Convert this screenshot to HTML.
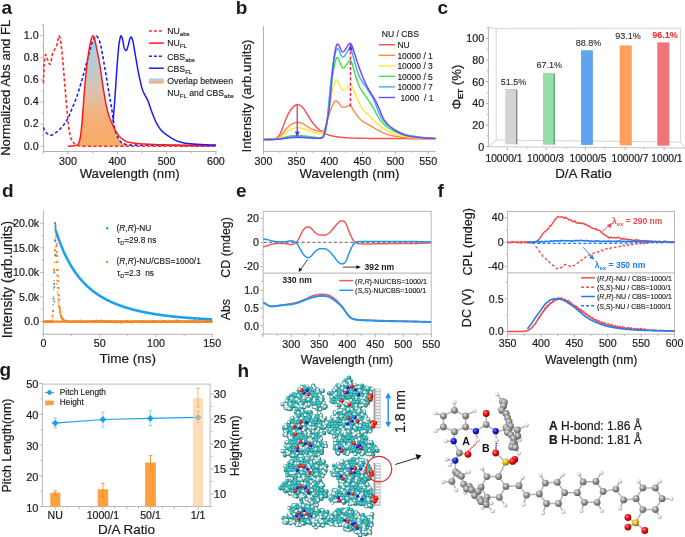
<!DOCTYPE html>
<html><head><meta charset="utf-8"><style>
html,body{margin:0;padding:0;background:#fff;overflow:hidden;}
svg{display:block;font-family:"Liberation Sans", sans-serif;will-change:transform;}
</style></head><body>
<svg width="685" height="537" viewBox="0 0 685 537">
<rect width="685" height="537" fill="#fff"/>
<line x1="43.6" y1="24.5" x2="43.6" y2="152.7" stroke="#b2b2b2" stroke-width="1"/>
<line x1="43.1" y1="151.5" x2="216.8" y2="151.5" stroke="#b2b2b2" stroke-width="1"/>
<line x1="40.6" y1="146.2" x2="43.6" y2="146.2" stroke="#b2b2b2" stroke-width="1"/>
<line x1="41.8" y1="135.15" x2="43.6" y2="135.15" stroke="#b2b2b2" stroke-width="1"/>
<line x1="40.6" y1="124.1" x2="43.6" y2="124.1" stroke="#b2b2b2" stroke-width="1"/>
<line x1="41.8" y1="113.05" x2="43.6" y2="113.05" stroke="#b2b2b2" stroke-width="1"/>
<line x1="40.6" y1="102" x2="43.6" y2="102" stroke="#b2b2b2" stroke-width="1"/>
<line x1="41.8" y1="90.95" x2="43.6" y2="90.95" stroke="#b2b2b2" stroke-width="1"/>
<line x1="40.6" y1="79.9" x2="43.6" y2="79.9" stroke="#b2b2b2" stroke-width="1"/>
<line x1="41.8" y1="68.85" x2="43.6" y2="68.85" stroke="#b2b2b2" stroke-width="1"/>
<line x1="40.6" y1="57.8" x2="43.6" y2="57.8" stroke="#b2b2b2" stroke-width="1"/>
<line x1="41.8" y1="46.75" x2="43.6" y2="46.75" stroke="#b2b2b2" stroke-width="1"/>
<line x1="40.6" y1="35.7" x2="43.6" y2="35.7" stroke="#b2b2b2" stroke-width="1"/>
<line x1="41.8" y1="24.65" x2="43.6" y2="24.65" stroke="#b2b2b2" stroke-width="1"/>
<line x1="43.35" y1="151.5" x2="43.35" y2="153.3" stroke="#b2b2b2" stroke-width="1"/>
<line x1="68" y1="151.5" x2="68" y2="154.5" stroke="#b2b2b2" stroke-width="1"/>
<line x1="92.65" y1="151.5" x2="92.65" y2="153.3" stroke="#b2b2b2" stroke-width="1"/>
<line x1="117.3" y1="151.5" x2="117.3" y2="154.5" stroke="#b2b2b2" stroke-width="1"/>
<line x1="141.95" y1="151.5" x2="141.95" y2="153.3" stroke="#b2b2b2" stroke-width="1"/>
<line x1="166.6" y1="151.5" x2="166.6" y2="154.5" stroke="#b2b2b2" stroke-width="1"/>
<line x1="191.25" y1="151.5" x2="191.25" y2="153.3" stroke="#b2b2b2" stroke-width="1"/>
<line x1="215.9" y1="151.5" x2="215.9" y2="154.5" stroke="#b2b2b2" stroke-width="1"/>
<text x="38.6" y="149.5" font-size="10.7" text-anchor="end" font-weight="normal" fill="#1a1a1a" stroke="#1a1a1a" stroke-width="0.2">0.0</text>
<text x="38.6" y="127.4" font-size="10.7" text-anchor="end" font-weight="normal" fill="#1a1a1a" stroke="#1a1a1a" stroke-width="0.2">0.2</text>
<text x="38.6" y="105.3" font-size="10.7" text-anchor="end" font-weight="normal" fill="#1a1a1a" stroke="#1a1a1a" stroke-width="0.2">0.4</text>
<text x="38.6" y="83.2" font-size="10.7" text-anchor="end" font-weight="normal" fill="#1a1a1a" stroke="#1a1a1a" stroke-width="0.2">0.6</text>
<text x="38.6" y="61.1" font-size="10.7" text-anchor="end" font-weight="normal" fill="#1a1a1a" stroke="#1a1a1a" stroke-width="0.2">0.8</text>
<text x="38.6" y="39" font-size="10.7" text-anchor="end" font-weight="normal" fill="#1a1a1a" stroke="#1a1a1a" stroke-width="0.2">1.0</text>
<text x="68" y="164.6" font-size="10.7" text-anchor="middle" font-weight="normal" fill="#1a1a1a" stroke="#1a1a1a" stroke-width="0.2">300</text>
<text x="117.3" y="164.6" font-size="10.7" text-anchor="middle" font-weight="normal" fill="#1a1a1a" stroke="#1a1a1a" stroke-width="0.2">400</text>
<text x="166.6" y="164.6" font-size="10.7" text-anchor="middle" font-weight="normal" fill="#1a1a1a" stroke="#1a1a1a" stroke-width="0.2">500</text>
<text x="215.9" y="164.6" font-size="10.7" text-anchor="middle" font-weight="normal" fill="#1a1a1a" stroke="#1a1a1a" stroke-width="0.2">600</text>
<text x="129.6" y="177.6" font-size="13.2" text-anchor="middle" font-weight="normal" fill="#1a1a1a" stroke="#1a1a1a" stroke-width="0.2">Wavelength (nm)</text>
<text x="10.2" y="87.8" font-size="13.1" text-anchor="middle" font-weight="normal" fill="#1a1a1a" stroke="#1a1a1a" stroke-width="0.2" transform="rotate(-90 10.2 87.8)">Normalized Abs and FL</text>
<text x="1.5" y="14" font-size="19" text-anchor="start" font-weight="bold" fill="#1a1a1a">a</text>
<defs><linearGradient id="gov" x1="0" y1="0" x2="0" y2="1"><stop offset="0" stop-color="#a0d6e4"/><stop offset="0.25" stop-color="#b6cdd2"/><stop offset="0.5" stop-color="#dcc3ab"/><stop offset="0.72" stop-color="#f4b07c"/><stop offset="1" stop-color="#f9aa66"/></linearGradient><linearGradient id="govl" x1="0" y1="0" x2="0" y2="1"><stop offset="0" stop-color="#a8d4e0"/><stop offset="0.5" stop-color="#a8d4e0"/><stop offset="0.5" stop-color="#f4b080"/><stop offset="1" stop-color="#f4b080"/></linearGradient></defs>
<path d="M76.87,145.09 L77.06,145 L77.24,144.9 L77.43,144.8 L77.61,144.7 L77.8,144.58 L77.98,144.45 L78.17,144.24 L78.35,143.95 L78.54,143.6 L78.72,143.18 L78.91,142.7 L79.09,142.16 L79.27,141.57 L79.46,140.93 L79.64,140.24 L79.83,139.51 L80.01,138.74 L80.2,137.93 L80.38,137.08 L80.57,136.02 L80.75,134.7 L80.94,133.17 L81.12,131.45 L81.31,129.59 L81.49,127.62 L81.68,125.58 L81.86,123.49 L82.04,121.39 L82.23,119.32 L82.41,117.26 L82.6,115.06 L82.78,112.72 L82.97,110.29 L83.15,107.78 L83.34,105.23 L83.52,102.66 L83.71,100.11 L83.89,97.6 L84.08,95.17 L84.26,92.84 L84.45,90.64 L84.63,88.57 L84.81,86.52 L85,84.5 L85.18,82.49 L85.37,80.51 L85.55,78.55 L85.74,76.63 L85.92,74.75 L86.11,72.9 L86.29,71.09 L86.48,69.33 L86.66,67.61 L86.85,65.95 L87.03,64.35 L87.22,62.8 L87.4,61.32 L87.58,59.9 L87.77,58.55 L87.95,57.63 L88.14,56.96 L88.32,56.29 L88.51,55.61 L88.69,54.92 L88.88,54.21 L89.06,53.5 L89.25,52.78 L89.43,52.05 L89.62,51.33 L89.8,50.6 L89.99,49.88 L90.17,49.16 L90.35,48.45 L90.54,47.75 L90.72,47.07 L90.91,46.4 L91.09,45.74 L91.28,45.11 L91.46,44.49 L91.65,43.9 L91.83,43.34 L92.02,42.81 L92.2,42.3 L92.39,41.83 L92.57,41.4 L92.76,41 L92.94,40.59 L93.12,40.18 L93.31,39.76 L93.49,39.35 L93.68,38.95 L93.86,38.55 L94.05,38.17 L94.23,37.8 L94.42,38.02 L94.6,38.63 L94.79,39.38 L94.97,40.24 L95.16,41.17 L95.34,42.12 L95.53,43.04 L95.71,43.92 L95.89,44.78 L96.08,45.65 L96.26,46.52 L96.45,47.39 L96.63,48.27 L96.82,49.15 L97,50.04 L97.19,50.93 L97.37,51.83 L97.56,52.74 L97.74,53.66 L97.93,54.59 L98.11,55.52 L98.3,56.47 L98.48,57.44 L98.66,58.41 L98.85,59.41 L99.03,60.41 L99.22,61.44 L99.4,62.48 L99.59,63.53 L99.77,64.63 L99.96,65.76 L100.14,66.93 L100.33,68.13 L100.51,69.36 L100.7,70.62 L100.88,71.89 L101.07,73.18 L101.25,74.48 L101.43,75.79 L101.62,77.11 L101.8,78.42 L101.99,79.74 L102.17,81.04 L102.36,82.34 L102.54,83.62 L102.73,84.88 L102.91,86.12 L103.1,87.33 L103.28,88.52 L103.47,89.66 L103.65,90.79 L103.84,91.92 L104.02,93.05 L104.2,94.18 L104.39,95.3 L104.57,96.41 L104.76,97.51 L104.94,98.59 L105.13,99.66 L105.31,100.7 L105.5,101.71 L105.68,102.7 L105.87,103.65 L106.05,104.56 L106.24,105.44 L106.42,106.28 L106.61,107.07 L106.79,107.86 L106.98,108.62 L107.16,109.37 L107.34,110.1 L107.53,110.81 L107.71,111.51 L107.9,112.19 L108.08,112.85 L108.27,113.5 L108.45,114.14 L108.64,114.75 L108.82,115.36 L109.01,115.94 L109.19,116.51 L109.38,117.07 L109.56,117.61 L109.75,118.13 L109.93,118.64 L110.11,119.13 L110.3,119.6 L110.48,120.04 L110.67,120.47 L110.85,120.89 L111.04,121.3 L111.22,121.7 L111.41,122.1 L111.59,122.49 L111.78,122.89 L111.96,123.3 L112.15,123.71 L112.33,124.13 L112.52,124.55 L112.7,124.98 L112.88,125.41 L113.07,125.84 L113.25,126.27 L113.44,126.69 L113.62,127.11 L113.81,127.52 L113.99,127.92 L114.18,128.32 L114.36,128.7 L114.55,129.07 L114.73,129.43 L114.92,129.77 L115.1,130.11 L115.29,130.58 L115.47,131.2 L115.65,131.8 L115.84,132.39 L116.02,132.95 L116.21,133.48 L116.39,134 L116.58,134.5 L116.76,134.98 L116.95,135.44 L117.13,135.88 L117.32,136.29 L117.5,136.69 L117.69,137.09 L117.87,137.48 L118.06,137.86 L118.24,138.22 L118.42,138.58 L118.61,138.92 L118.79,139.24 L118.98,139.56 L119.16,139.85 L119.35,140.12 L119.53,140.38 L119.72,140.62 L119.9,140.84 L120.09,141.05 L120.27,141.27 L120.46,141.48 L120.64,141.68 L120.83,141.88 L121.01,142.08 L121.19,142.27 L121.38,142.44 L121.56,142.62 L121.75,142.78 L121.93,142.93 L122.12,143.07 L122.3,143.2 L122.49,143.32 L122.67,143.43 L122.86,143.52 L123.04,143.6 L123.23,143.66 L123.41,143.72 L123.6,143.77 L123.78,143.82 L123.96,143.88 L124.15,143.93 L124.33,143.98 L124.52,144.03 L124.7,144.07 L124.89,144.12 L125.07,144.17 L125.26,144.21 L125.44,144.26 L125.63,144.3 L125.81,144.34 L126,144.38 L126.18,144.42 L126.37,144.46 L126.55,144.5 L126.73,144.53 L126.92,144.57 L127.1,144.6 L127.29,144.63 L127.47,144.66 L127.66,144.7 L127.84,144.72 L128.03,144.75 L128.21,144.78 L128.4,144.81 L128.58,144.83 L128.77,144.86 L128.95,144.88 L129.14,144.9 L129.32,144.92 L129.5,144.94 L129.69,144.96 L129.87,144.98 L130.06,144.99 L130.24,145.01 L130.43,145.02 L130.61,145.03 L130.8,145.05 L130.98,145.06 L131.17,145.07 L131.35,145.07 L131.54,145.08 L131.72,145.09 L131.91,145.09 L132.09,145.09 L132.09,146.2 L76.87,146.2 Z" fill="url(#gov)" stroke="none"/>
<path d="M43.35,127.41 L43.78,128.5 L44.21,129.55 L44.65,130.53 L45.08,131.38 L45.51,132.05 L45.94,132.5 L46.38,132.88 L46.81,133.24 L47.24,133.58 L47.67,133.89 L48.11,134.18 L48.54,134.43 L48.97,134.65 L49.4,134.84 L50.27,135.08 L51.13,135.15 L52,135.01 L52.86,134.69 L53.3,134.47 L53.73,134.22 L54.16,133.94 L54.59,133.64 L55.03,133.31 L55.46,132.97 L55.89,132.62 L56.32,132.26 L56.76,131.89 L57.19,131.52 L57.62,131.16 L58.05,130.8 L58.49,130.45 L58.92,130.08 L59.35,129.69 L59.78,129.28 L60.22,128.86 L60.65,128.43 L61.08,127.97 L61.51,127.5 L61.95,127.01 L62.38,126.5 L62.81,125.98 L63.24,125.44 L63.68,124.88 L64.11,124.31 L64.54,123.72 L64.97,123.11 L65.41,122.48 L65.84,121.84 L66.27,121.18 L66.7,120.49 L67.14,119.75 L67.57,118.95 L68,118.09 L68.43,117.18 L68.86,116.23 L69.3,115.25 L69.73,114.23 L70.16,113.19 L70.59,112.14 L71.03,111.07 L71.46,110 L71.89,108.94 L72.32,107.88 L72.76,106.83 L73.19,105.81 L73.62,104.78 L74.05,103.75 L74.49,102.71 L74.92,101.65 L75.35,100.56 L75.78,99.45 L76.22,98.3 L76.65,97.11 L77.08,95.85 L77.51,94.55 L77.95,93.2 L78.38,91.83 L78.81,90.44 L79.24,89.05 L79.68,87.65 L80.11,86.23 L80.54,84.8 L80.97,83.35 L81.41,81.88 L81.84,80.4 L82.27,78.89 L82.7,77.35 L83.14,75.78 L83.57,74.19 L84,72.57 L84.43,70.94 L84.87,69.29 L85.3,67.64 L85.73,65.99 L86.16,64.34 L86.6,62.69 L87.03,61.06 L87.46,59.45 L87.89,57.86 L88.33,56.29 L88.76,54.67 L89.19,53 L89.62,51.3 L90.06,49.61 L90.49,47.95 L90.92,46.36 L91.35,44.86 L91.79,43.48 L92.22,42.26 L92.65,41.22 L93.08,40.27 L93.51,39.31 L93.95,38.38 L94.38,37.52 L94.81,36.78 L95.24,36.21 L95.68,35.83 L96.54,35.83 L96.97,36.2 L97.41,36.75 L97.84,37.47 L98.27,38.32 L98.7,39.26 L99.14,40.25 L99.57,41.27 L100,42.46 L100.43,43.96 L100.87,45.73 L101.3,47.74 L101.73,49.94 L102.16,52.29 L102.6,54.77 L103.03,57.33 L103.46,59.93 L103.89,62.54 L104.33,65.12 L104.76,67.63 L105.19,70.07 L105.62,72.57 L106.06,75.15 L106.49,77.79 L106.92,80.47 L107.35,83.16 L107.79,85.85 L108.22,88.5 L108.65,91.12 L109.08,93.65 L109.52,96.13 L109.95,98.57 L110.38,101.01 L110.81,103.47 L111.25,106 L111.68,108.61 L112.11,111.34 L112.54,114.27 L112.98,117.7 L113.41,121.22 L113.84,124.3 L114.27,126.58 L114.71,128.46 L115.14,130.07 L115.57,131.53 L116,132.88 L116.44,134.12 L116.87,135.24 L117.3,136.25 L117.73,137.19 L118.16,138.07 L118.6,138.9 L119.03,139.64 L119.46,140.29 L119.89,140.83 L120.33,141.33 L120.76,141.81 L121.19,142.26 L121.62,142.67 L122.06,143.03 L122.49,143.32 L122.92,143.55 L123.79,143.83 L124.65,144.06 L125.52,144.27 L126.38,144.46 L127.25,144.63 L128.11,144.77 L128.98,144.88 L129.84,144.97 L130.71,145.04 L131.57,145.08 L132.44,145.1 L133.3,145.12 L134.17,145.13 L135.03,145.14 L135.9,145.16 L136.76,145.17 L137.63,145.18 L138.49,145.2 L139.36,145.21 L140.22,145.22 L141.09,145.23 L141.95,145.25 L142.81,145.26 L143.68,145.27 L144.54,145.28 L145.41,145.29 L146.27,145.3 L147.14,145.31 L148,145.32 L148.87,145.33 L149.73,145.34 L150.6,145.35 L151.46,145.36 L152.33,145.37 L153.19,145.38 L154.06,145.39 L154.92,145.4 L155.79,145.41 L156.65,145.42 L157.52,145.42 L158.38,145.43 L159.25,145.44 L160.11,145.45 L160.98,145.46 L161.84,145.46 L162.71,145.47 L163.57,145.48 L164.44,145.48 L165.3,145.49 L166.17,145.5 L167.03,145.5 L167.9,145.51 L168.76,145.52 L169.63,145.52 L170.49,145.53 L171.36,145.53 L172.22,145.54 L173.09,145.54 L173.95,145.55 L174.82,145.55 L175.68,145.56 L176.55,145.56 L177.41,145.57 L178.28,145.57 L179.14,145.57 L180.01,145.58 L180.87,145.58 L181.74,145.59 L182.6,145.59 L183.47,145.59 L184.33,145.6 L185.2,145.6 L186.06,145.6 L186.93,145.61 L187.79,145.61 L188.66,145.61 L189.52,145.61 L190.39,145.62 L191.25,145.62 L192.11,145.62 L192.98,145.62 L193.84,145.62 L194.71,145.63 L195.57,145.63 L196.44,145.63 L197.3,145.63 L198.17,145.63 L199.03,145.64 L199.9,145.64 L200.76,145.64 L201.63,145.64 L202.49,145.64 L203.36,145.64 L204.22,145.64 L205.09,145.64 L205.95,145.64 L206.82,145.64 L207.68,145.64 L208.55,145.65 L209.41,145.65 L210.28,145.65 L211.14,145.65 L212.01,145.65 L212.87,145.65 L213.74,145.65 L214.6,145.65 L215.47,145.65 L215.9,145.65" fill="none" stroke="#1f1fff" stroke-width="1.6" stroke-linejoin="round" stroke-dasharray="3.2,2.2"/>
<path d="M43.35,83.22 L43.78,72.7 L44.21,64.82 L44.65,60.04 L45.08,56.29 L45.51,54.51 L45.94,54.88 L46.38,56.03 L46.81,57.48 L47.24,58.78 L47.67,59.84 L48.11,61.01 L48.54,62.16 L48.97,63.19 L49.4,63.97 L49.84,64.39 L50.27,64.22 L50.7,63.08 L51.13,61.23 L51.57,58.97 L52,56.59 L52.43,54.4 L52.86,52.69 L53.3,51.62 L53.73,50.79 L54.16,50.1 L54.59,49.47 L55.03,48.84 L55.46,48.13 L55.89,47.28 L56.32,46.19 L56.76,44.73 L57.19,43.05 L57.62,41.33 L58.05,39.23 L58.49,36.96 L58.92,35.72 L59.35,36.02 L59.78,36.97 L60.22,38.26 L60.65,40.58 L61.08,43.9 L61.51,47.76 L61.95,51.7 L62.38,55.98 L62.81,60.77 L63.24,65.86 L63.68,71.03 L64.11,76.08 L64.54,81.14 L64.97,86.31 L65.41,91.48 L65.84,96.55 L66.27,101.42 L66.7,106.24 L67.14,111.27 L67.57,116.27 L68,121 L68.43,125.25 L68.86,128.75 L69.3,131.33 L69.73,133.46 L70.16,135.39 L70.59,137.08 L71.03,138.53 L71.46,139.7 L71.89,140.59 L72.32,141.26 L72.76,141.87 L73.19,142.4 L73.62,142.88 L74.05,143.3 L74.49,143.68 L74.92,144 L75.35,144.29 L75.78,144.54 L76.22,144.77 L76.65,145.01 L77.08,145.23 L77.51,145.44 L77.95,145.63 L78.38,145.81 L79.24,146.07 L80.11,146.19 L80.97,146.2 L81.84,146.2 L82.7,146.2 L83.57,146.2 L84.43,146.2 L85.3,146.2 L86.16,146.2 L87.03,146.2 L87.89,146.2 L88.76,146.2 L89.62,146.2 L90.49,146.2 L91.35,146.2 L92.22,146.2 L93.08,146.2 L93.95,146.2 L94.81,146.2 L95.68,146.2 L96.54,146.2 L97.41,146.2 L98.27,146.2 L99.14,146.2 L100,146.2 L100.87,146.2 L101.73,146.2 L102.6,146.2 L103.46,146.2 L104.33,146.2 L105.19,146.2 L106.06,146.2 L106.92,146.2 L107.79,146.2 L108.65,146.2 L109.52,146.2 L110.38,146.2 L111.25,146.2 L112.11,146.2 L112.98,146.2 L113.84,146.2 L114.71,146.2 L115.57,146.2 L116.44,146.2 L117.3,146.2 L118.16,146.2 L119.03,146.2 L119.89,146.2 L120.76,146.2 L121.62,146.2 L122.49,146.2 L123.35,146.2 L124.22,146.2 L125.08,146.2 L125.95,146.2 L126.81,146.2 L127.68,146.2 L128.54,146.2 L129.41,146.2 L130.27,146.2 L131.14,146.2 L132,146.2 L132.87,146.2 L133.73,146.2 L134.6,146.2 L135.46,146.2 L136.33,146.2 L137.19,146.2 L138.06,146.2 L138.92,146.2 L139.79,146.2 L140.65,146.2 L141.52,146.2 L142.38,146.2 L143.25,146.2 L144.11,146.2 L144.98,146.2 L145.84,146.2 L146.71,146.2 L147.57,146.2 L148.44,146.2 L149.3,146.2 L150.17,146.2 L151.03,146.2 L151.9,146.2 L152.76,146.2 L153.63,146.2 L154.49,146.2 L155.36,146.2 L156.22,146.2 L157.09,146.2 L157.95,146.2 L158.82,146.2 L159.68,146.2 L160.55,146.2 L161.41,146.2 L162.28,146.2 L163.14,146.2 L164.01,146.2 L164.87,146.2 L165.74,146.2 L166.6,146.2 L167.46,146.2 L168.33,146.2 L169.19,146.2 L170.06,146.2 L170.92,146.2 L171.79,146.2 L172.65,146.2 L173.52,146.2 L174.38,146.2 L175.25,146.2 L176.11,146.2 L176.98,146.2 L177.84,146.2 L178.71,146.2 L179.57,146.2 L180.44,146.2 L181.3,146.2 L182.17,146.2 L183.03,146.2 L183.9,146.2 L184.76,146.2 L185.63,146.2 L186.49,146.2 L187.36,146.2 L188.22,146.2 L189.09,146.2 L189.95,146.2 L190.82,146.2 L191.68,146.2 L192.55,146.2 L193.41,146.2 L194.28,146.2 L195.14,146.2 L196.01,146.2 L196.87,146.2 L197.74,146.2 L198.6,146.2 L199.47,146.2 L200.33,146.2 L201.2,146.2 L202.06,146.2 L202.93,146.2 L203.79,146.2 L204.66,146.2 L205.52,146.2 L206.39,146.2 L207.25,146.2 L208.12,146.2 L208.98,146.2 L209.85,146.2 L210.71,146.2 L211.58,146.2 L212.44,146.2 L213.31,146.2 L214.17,146.2 L215.04,146.2 L215.9,146.2" fill="none" stroke="#ff2a2a" stroke-width="1.6" stroke-linejoin="round" stroke-dasharray="3.2,2.2"/>
<path d="M68,146.2 L68.74,146.19 L69.48,146.18 L70.22,146.15 L70.97,146.11 L71.71,146.06 L72.45,146 L73.19,145.94 L73.93,145.87 L74.67,145.77 L75.41,145.61 L76.15,145.38 L76.9,145.08 L77.64,144.68 L78.01,144.42 L78.38,143.91 L78.75,143.11 L79.12,142.07 L79.49,140.81 L79.86,139.37 L80.23,137.78 L80.6,135.78 L80.97,132.84 L81.34,129.19 L81.72,125.13 L82.09,120.93 L82.46,116.77 L82.83,112.15 L83.2,107.16 L83.57,102.02 L83.94,96.97 L84.31,92.24 L84.68,88.01 L85.05,83.93 L85.42,79.94 L85.79,76.07 L86.16,72.35 L86.53,68.79 L86.9,65.44 L87.28,62.31 L87.65,59.45 L88.02,56.81 L88.39,54.3 L88.76,51.92 L89.13,49.67 L89.5,47.56 L89.87,45.59 L90.24,43.76 L90.61,42.07 L90.98,40.47 L91.35,38.99 L91.72,37.79 L92.09,37 L92.46,36.33 L92.84,35.85 L93.58,36.07 L93.95,36.83 L94.32,37.76 L94.69,38.97 L95.06,40.68 L95.43,42.57 L95.8,44.34 L96.17,46.08 L96.54,47.84 L96.91,49.61 L97.28,51.4 L97.65,53.22 L98.02,55.09 L98.4,56.99 L98.77,58.96 L99.14,60.98 L99.51,63.07 L99.88,65.27 L100.25,67.62 L100.62,70.09 L100.99,72.65 L101.36,75.27 L101.73,77.91 L102.1,80.54 L102.47,83.13 L102.84,85.66 L103.21,88.09 L103.58,90.39 L103.96,92.65 L104.33,94.92 L104.7,97.14 L105.07,99.31 L105.44,101.39 L105.81,103.35 L106.18,105.18 L106.55,106.84 L106.92,108.4 L107.29,109.89 L107.66,111.32 L108.03,112.68 L108.4,113.97 L108.77,115.2 L109.15,116.37 L109.52,117.48 L109.89,118.52 L110.26,119.49 L110.63,120.38 L111,121.21 L111.37,122.01 L111.74,122.81 L112.11,123.63 L112.48,124.48 L112.85,125.33 L113.22,126.19 L113.59,127.04 L113.96,127.86 L114.33,128.65 L114.71,129.38 L115.08,130.07 L115.45,130.73 L115.82,131.38 L116.19,132.02 L116.56,132.63 L116.93,133.21 L117.3,133.78 L117.67,134.31 L118.04,134.81 L118.41,135.28 L118.78,135.71 L119.15,136.13 L119.52,136.53 L119.89,136.91 L120.27,137.27 L120.64,137.62 L121.01,137.95 L121.38,138.26 L121.75,138.55 L122.12,138.83 L122.49,139.09 L122.86,139.35 L123.23,139.6 L123.6,139.85 L123.97,140.1 L124.34,140.34 L124.71,140.57 L125.45,141 L126.2,141.38 L126.94,141.69 L127.68,141.94 L128.42,142.13 L129.16,142.3 L129.9,142.46 L130.64,142.61 L131.39,142.75 L132.13,142.88 L132.87,143 L133.61,143.11 L134.35,143.21 L135.09,143.31 L135.83,143.39 L136.58,143.48 L137.32,143.55 L138.06,143.62 L138.8,143.68 L139.54,143.74 L140.28,143.79 L141.02,143.84 L141.76,143.89 L142.51,143.94 L143.25,143.98 L143.99,144.03 L144.73,144.07 L145.47,144.11 L146.21,144.15 L146.95,144.19 L147.7,144.23 L148.44,144.27 L149.18,144.3 L149.92,144.34 L150.66,144.37 L151.4,144.4 L152.14,144.44 L152.88,144.47 L153.63,144.49 L154.37,144.52 L155.11,144.55 L155.85,144.58 L156.59,144.6 L157.33,144.63 L158.07,144.65 L158.82,144.67 L159.56,144.7 L160.3,144.72 L161.04,144.74 L161.78,144.76 L162.52,144.78 L163.26,144.8 L164.01,144.82 L164.75,144.83 L165.49,144.85 L166.23,144.87 L166.97,144.88 L167.71,144.9 L168.45,144.91 L169.19,144.93 L169.94,144.94 L170.68,144.96 L171.42,144.98 L172.16,144.99 L172.9,145.01 L173.64,145.02 L174.38,145.04 L175.13,145.05 L175.87,145.07 L176.61,145.08 L177.35,145.1 L178.09,145.11 L178.83,145.12 L179.57,145.14 L180.32,145.15 L181.06,145.17 L181.8,145.18 L182.54,145.19 L183.28,145.21 L184.02,145.22 L184.76,145.23 L185.5,145.25 L186.25,145.26 L186.99,145.27 L187.73,145.28 L188.47,145.29 L189.21,145.31 L189.95,145.32 L190.69,145.33 L191.44,145.34 L192.18,145.35 L192.92,145.36 L193.66,145.37 L194.4,145.38 L195.14,145.39 L195.88,145.4 L196.62,145.41 L197.37,145.42 L198.11,145.43 L198.85,145.44 L199.59,145.44 L200.33,145.45 L201.07,145.46 L201.81,145.47 L202.56,145.47 L203.3,145.48 L204.04,145.49 L204.78,145.49 L205.52,145.5 L206.26,145.5 L207,145.51 L207.75,145.51 L208.49,145.52 L209.23,145.52 L209.97,145.52 L210.71,145.53 L211.45,145.53 L212.19,145.53 L212.93,145.53 L213.68,145.54 L214.42,145.54 L215.16,145.54 L215.9,145.54" fill="none" stroke="#ff1a1a" stroke-width="1.5" stroke-linejoin="round"/>
<path d="M113.11,121.89 L113.37,118.38 L113.62,114.91 L113.88,111.51 L114.14,108.24 L114.4,105.04 L114.66,101.77 L114.91,98.28 L115.17,94.45 L115.43,90.4 L115.69,86.36 L115.94,82.5 L116.2,78.66 L116.46,74.84 L116.72,71.11 L116.97,67.54 L117.23,64.18 L117.49,60.98 L117.75,57.75 L118,54.54 L118.26,51.46 L118.52,48.6 L118.78,46.04 L119.03,43.89 L119.29,42.22 L119.55,40.78 L119.81,39.39 L120.07,38.12 L120.32,37.05 L120.58,36.25 L120.84,35.78 L121.35,35.98 L121.61,36.49 L121.87,37.19 L122.13,38.01 L122.38,38.92 L122.64,39.83 L122.9,40.85 L123.16,42.27 L123.41,43.89 L123.67,45.5 L123.93,46.88 L124.19,47.82 L124.44,48.41 L124.7,48.97 L124.96,49.48 L125.22,49.91 L125.48,50.26 L125.99,50.61 L126.51,50.27 L126.76,49.79 L127.02,49.15 L127.28,48.4 L127.54,47.59 L127.79,46.75 L128.05,45.93 L128.31,45.11 L128.57,44.12 L128.82,43 L129.08,41.86 L129.34,40.76 L129.6,39.8 L129.85,39.05 L130.11,38.46 L130.37,37.87 L130.63,37.36 L130.89,36.99 L131.66,37.33 L131.92,37.97 L132.17,38.77 L132.43,39.62 L132.69,40.48 L132.95,41.5 L133.2,42.69 L133.46,44.03 L133.72,45.49 L133.98,47.01 L134.23,48.58 L134.49,50.14 L134.75,51.68 L135.01,53.16 L135.26,54.58 L135.52,56.04 L135.78,57.53 L136.04,59.04 L136.3,60.56 L136.55,62.09 L136.81,63.62 L137.07,65.14 L137.33,66.64 L137.58,68.12 L137.84,69.57 L138.1,70.98 L138.36,72.35 L138.61,73.66 L138.87,74.92 L139.13,76.11 L139.39,77.3 L139.64,78.47 L139.9,79.63 L140.16,80.77 L140.42,81.89 L140.67,82.99 L140.93,84.06 L141.19,85.09 L141.45,86.09 L141.71,87.05 L141.96,87.96 L142.22,88.83 L142.48,89.64 L142.74,90.4 L142.99,91.1 L143.25,91.75 L143.51,92.36 L143.77,92.92 L144.02,93.46 L144.28,93.97 L144.54,94.45 L144.8,94.92 L145.05,95.37 L145.31,95.81 L145.57,96.25 L145.83,96.68 L146.08,97.12 L146.34,97.58 L146.6,98.04 L146.86,98.53 L147.12,99.03 L147.37,99.57 L147.63,100.14 L147.89,100.75 L148.15,101.39 L148.4,102.07 L148.66,102.78 L148.92,103.51 L149.18,104.26 L149.43,105.02 L149.69,105.8 L149.95,106.58 L150.21,107.36 L150.46,108.13 L150.72,108.9 L150.98,109.66 L151.24,110.39 L151.49,111.11 L151.75,111.8 L152.01,112.46 L152.27,113.13 L152.53,113.8 L152.78,114.46 L153.04,115.12 L153.3,115.78 L153.56,116.43 L153.81,117.07 L154.07,117.71 L154.33,118.33 L154.59,118.95 L154.84,119.55 L155.1,120.13 L155.36,120.71 L155.62,121.26 L155.87,121.79 L156.13,122.31 L156.39,122.8 L156.65,123.28 L156.9,123.74 L157.16,124.2 L157.42,124.65 L157.68,125.1 L157.94,125.53 L158.19,125.96 L158.45,126.38 L158.71,126.79 L158.97,127.19 L159.22,127.58 L159.48,127.96 L159.74,128.33 L160,128.69 L160.25,129.04 L160.77,129.7 L161.28,130.31 L161.8,130.87 L162.31,131.38 L162.83,131.87 L163.35,132.34 L163.86,132.78 L164.38,133.19 L164.89,133.59 L165.41,133.98 L165.92,134.35 L166.44,134.71 L166.95,135.07 L167.47,135.42 L167.98,135.77 L168.5,136.12 L169.01,136.47 L169.53,136.81 L170.04,137.16 L170.56,137.49 L171.07,137.83 L171.59,138.15 L172.1,138.47 L172.62,138.78 L173.14,139.07 L173.65,139.36 L174.17,139.63 L174.68,139.9 L175.2,140.14 L175.71,140.37 L176.23,140.58 L176.74,140.78 L177.26,140.97 L177.77,141.16 L178.29,141.35 L178.8,141.52 L179.32,141.7 L179.83,141.87 L180.35,142.03 L180.86,142.18 L181.38,142.33 L181.89,142.47 L182.41,142.61 L182.92,142.73 L183.44,142.85 L183.96,142.95 L184.47,143.05 L184.99,143.14 L185.76,143.26 L186.53,143.36 L187.3,143.45 L188.08,143.54 L188.85,143.63 L189.62,143.71 L190.4,143.78 L191.17,143.85 L191.94,143.91 L192.71,143.97 L193.49,144.03 L194.26,144.09 L195.03,144.14 L195.81,144.19 L196.58,144.24 L197.35,144.28 L198.12,144.33 L198.9,144.38 L199.67,144.43 L200.44,144.47 L201.22,144.52 L201.99,144.56 L202.76,144.6 L203.53,144.65 L204.31,144.69 L205.08,144.73 L205.85,144.76 L206.63,144.8 L207.4,144.84 L208.17,144.87 L208.94,144.9 L209.72,144.93 L210.49,144.96 L211.26,144.99 L212.04,145.01 L212.81,145.03 L213.58,145.05 L214.35,145.07 L215.13,145.08 L215.9,145.09" fill="none" stroke="#1a1aff" stroke-width="1.5" stroke-linejoin="round"/>
<line x1="148.9" y1="30.9" x2="163.8" y2="30.9" stroke="#ff2a2a" stroke-width="1.5" stroke-dasharray="3,2"/>
<text x="167.3" y="34.2" font-size="8.7" fill="#1a1a1a" stroke="#1a1a1a" stroke-width="0.14">NU<tspan font-size="6" dy="2">abs</tspan></text>
<line x1="148.9" y1="43.1" x2="163.8" y2="43.1" stroke="#ff1a1a" stroke-width="1.5"/>
<text x="167.3" y="46.4" font-size="8.7" fill="#1a1a1a" stroke="#1a1a1a" stroke-width="0.14">NU<tspan font-size="6" dy="2">FL</tspan></text>
<line x1="148.9" y1="56.3" x2="163.8" y2="56.3" stroke="#1f1fff" stroke-width="1.5" stroke-dasharray="3,2"/>
<text x="167.3" y="59.6" font-size="8.7" fill="#1a1a1a" stroke="#1a1a1a" stroke-width="0.14">CBS<tspan font-size="6" dy="2">abs</tspan></text>
<line x1="148.9" y1="68.2" x2="163.8" y2="68.2" stroke="#1a1aff" stroke-width="1.5"/>
<text x="167.3" y="71.5" font-size="8.7" fill="#1a1a1a" stroke="#1a1a1a" stroke-width="0.14">CBS<tspan font-size="6" dy="2">FL</tspan></text>
<rect x="148.9" y="78.4" width="14.900000000000006" height="5.2" fill="url(#govl)"/>
<text x="167.3" y="84.3" font-size="8.7" text-anchor="start" font-weight="normal" fill="#1a1a1a" stroke="#1a1a1a" stroke-width="0.14">Overlap between</text>
<text x="167.3" y="95.6" font-size="8.7" fill="#1a1a1a" stroke="#1a1a1a" stroke-width="0.14">NU<tspan font-size="6" dy="2">FL</tspan><tspan dy="-2"> and CBS</tspan><tspan font-size="6" dy="2">abs</tspan></text>
<line x1="263.5" y1="26" x2="263.5" y2="151.4" stroke="#b2b2b2" stroke-width="1"/>
<line x1="263.5" y1="151.4" x2="435.6" y2="151.4" stroke="#b2b2b2" stroke-width="1"/>
<line x1="263.5" y1="151.4" x2="263.5" y2="154.4" stroke="#b2b2b2" stroke-width="1"/>
<line x1="279.98" y1="151.4" x2="279.98" y2="153.2" stroke="#b2b2b2" stroke-width="1"/>
<line x1="296.45" y1="151.4" x2="296.45" y2="154.4" stroke="#b2b2b2" stroke-width="1"/>
<line x1="312.93" y1="151.4" x2="312.93" y2="153.2" stroke="#b2b2b2" stroke-width="1"/>
<line x1="329.4" y1="151.4" x2="329.4" y2="154.4" stroke="#b2b2b2" stroke-width="1"/>
<line x1="345.88" y1="151.4" x2="345.88" y2="153.2" stroke="#b2b2b2" stroke-width="1"/>
<line x1="362.35" y1="151.4" x2="362.35" y2="154.4" stroke="#b2b2b2" stroke-width="1"/>
<line x1="378.82" y1="151.4" x2="378.82" y2="153.2" stroke="#b2b2b2" stroke-width="1"/>
<line x1="395.3" y1="151.4" x2="395.3" y2="154.4" stroke="#b2b2b2" stroke-width="1"/>
<line x1="411.77" y1="151.4" x2="411.77" y2="153.2" stroke="#b2b2b2" stroke-width="1"/>
<line x1="428.25" y1="151.4" x2="428.25" y2="154.4" stroke="#b2b2b2" stroke-width="1"/>
<text x="263.5" y="164.9" font-size="10.7" text-anchor="middle" font-weight="normal" fill="#1a1a1a" stroke="#1a1a1a" stroke-width="0.2">300</text>
<text x="296.45" y="164.9" font-size="10.7" text-anchor="middle" font-weight="normal" fill="#1a1a1a" stroke="#1a1a1a" stroke-width="0.2">350</text>
<text x="329.4" y="164.9" font-size="10.7" text-anchor="middle" font-weight="normal" fill="#1a1a1a" stroke="#1a1a1a" stroke-width="0.2">400</text>
<text x="362.35" y="164.9" font-size="10.7" text-anchor="middle" font-weight="normal" fill="#1a1a1a" stroke="#1a1a1a" stroke-width="0.2">450</text>
<text x="395.3" y="164.9" font-size="10.7" text-anchor="middle" font-weight="normal" fill="#1a1a1a" stroke="#1a1a1a" stroke-width="0.2">500</text>
<text x="428.25" y="164.9" font-size="10.7" text-anchor="middle" font-weight="normal" fill="#1a1a1a" stroke="#1a1a1a" stroke-width="0.2">550</text>
<text x="349.4" y="177.6" font-size="13.2" text-anchor="middle" font-weight="normal" fill="#1a1a1a" stroke="#1a1a1a" stroke-width="0.2">Wavelength (nm)</text>
<text x="250.7" y="96" font-size="13.3" text-anchor="middle" font-weight="normal" fill="#1a1a1a" stroke="#1a1a1a" stroke-width="0.2" transform="rotate(-90 250.7 96)">Intensity (arb.units)</text>
<text x="235.8" y="14.3" font-size="19" text-anchor="start" font-weight="bold" fill="#1a1a1a">b</text>
<path d="M263.5,139.6 L264.22,139.6 L264.93,139.59 L265.65,139.59 L266.37,139.58 L267.09,139.57 L267.8,139.55 L268.52,139.54 L269.24,139.51 L269.96,139.48 L270.53,139.45 L271.1,139.41 L271.68,139.35 L272.25,139.28 L272.82,139.19 L273.4,139.08 L273.97,138.94 L274.55,138.77 L275.12,138.56 L275.55,138.37 L275.98,138.15 L276.41,137.91 L276.84,137.62 L277.27,137.3 L277.7,136.93 L278.13,136.5 L278.42,136.19 L278.71,135.85 L278.99,135.48 L279.28,135.08 L279.57,134.64 L279.85,134.17 L280.14,133.65 L280.43,133.1 L280.71,132.5 L281,131.86 L281.29,131.19 L281.58,130.48 L281.86,129.74 L282.15,128.98 L282.44,128.21 L282.72,127.43 L283.01,126.65 L283.3,125.87 L283.58,125.09 L283.87,124.32 L284.16,123.55 L284.44,122.78 L284.73,122.02 L285.02,121.27 L285.3,120.54 L285.59,119.81 L285.88,119.1 L286.17,118.41 L286.45,117.73 L286.74,117.08 L287.03,116.45 L287.31,115.84 L287.6,115.25 L287.89,114.68 L288.17,114.13 L288.46,113.59 L288.75,113.07 L289.03,112.57 L289.32,112.08 L289.61,111.6 L289.9,111.14 L290.18,110.69 L290.47,110.26 L290.76,109.85 L291.04,109.45 L291.33,109.07 L291.62,108.71 L291.9,108.36 L292.19,108.02 L292.48,107.7 L292.91,107.25 L293.34,106.81 L293.77,106.4 L294.2,106.01 L294.63,105.65 L295.06,105.33 L295.49,105.05 L295.92,104.83 L296.49,104.62 L297.07,104.51 L297.79,104.53 L298.36,104.65 L298.93,104.84 L299.36,105.03 L299.79,105.25 L300.22,105.49 L300.65,105.76 L301.08,106.06 L301.52,106.39 L301.95,106.76 L302.38,107.17 L302.81,107.63 L303.09,107.97 L303.38,108.33 L303.67,108.71 L303.95,109.1 L304.24,109.52 L304.53,109.94 L304.81,110.38 L305.1,110.82 L305.39,111.27 L305.68,111.72 L305.96,112.17 L306.25,112.63 L306.54,113.09 L306.82,113.54 L307.11,114 L307.4,114.46 L307.68,114.92 L307.97,115.39 L308.26,115.86 L308.54,116.33 L308.83,116.8 L309.12,117.28 L309.4,117.75 L309.69,118.22 L309.98,118.69 L310.27,119.15 L310.55,119.61 L310.84,120.06 L311.13,120.49 L311.41,120.92 L311.7,121.34 L311.99,121.75 L312.27,122.15 L312.56,122.55 L312.85,122.93 L313.13,123.31 L313.42,123.69 L313.71,124.05 L314,124.41 L314.28,124.76 L314.57,125.11 L314.86,125.45 L315.14,125.78 L315.43,126.1 L315.72,126.42 L316.15,126.88 L316.58,127.32 L317.01,127.75 L317.44,128.15 L317.87,128.54 L318.3,128.92 L318.73,129.28 L319.16,129.63 L319.59,129.97 L320.02,130.29 L320.45,130.62 L320.88,130.93 L321.31,131.24 L321.74,131.54 L322.17,131.84 L322.6,132.13 L323.03,132.42 L323.46,132.69 L323.89,132.95 L324.32,133.2 L324.75,133.43 L325.18,133.65 L325.62,133.85 L326.05,134.05 L326.48,134.23 L326.91,134.4 L327.48,134.63 L328.05,134.83 L328.63,135.03 L329.2,135.21 L329.78,135.39 L330.35,135.54 L330.92,135.69 L331.5,135.83 L332.07,135.96 L332.64,136.08 L333.22,136.19 L333.79,136.3 L334.37,136.4 L334.94,136.5 L335.51,136.6 L336.09,136.69 L336.66,136.77 L337.23,136.85 L337.81,136.93 L338.38,137.01 L338.96,137.08 L339.53,137.14 L340.1,137.21 L340.68,137.27 L341.25,137.33 L341.83,137.39 L342.4,137.45 L342.97,137.51 L343.55,137.56 L344.12,137.61 L344.69,137.67 L345.27,137.71 L345.84,137.76 L346.42,137.8 L346.99,137.84 L347.56,137.88 L348.14,137.91 L348.71,137.94 L349.43,137.97 L350.15,138 L350.86,138.02 L351.58,138.05 L352.3,138.07 L353.01,138.09 L353.73,138.11 L354.45,138.13 L355.17,138.14 L355.88,138.16 L356.6,138.18 L357.32,138.2 L358.04,138.21 L358.75,138.23 L359.47,138.24 L360.19,138.26 L360.9,138.27 L361.62,138.28 L362.34,138.3 L363.06,138.31 L363.77,138.32 L364.49,138.33 L365.21,138.35 L365.93,138.36 L366.64,138.37 L367.36,138.38 L368.08,138.39 L368.79,138.4 L369.51,138.4 L370.23,138.41 L370.95,138.42 L371.66,138.43 L372.38,138.44 L373.1,138.44 L373.82,138.45 L374.53,138.46 L375.25,138.46 L375.97,138.47 L376.68,138.48 L377.4,138.48 L378.12,138.49 L378.84,138.49 L379.55,138.5 L380.27,138.5 L380.99,138.51 L381.71,138.51 L382.42,138.52 L383.14,138.52 L383.86,138.52 L384.57,138.53 L385.29,138.53 L386.01,138.54 L386.73,138.54 L387.44,138.55 L388.16,138.55 L388.88,138.55 L389.6,138.56 L390.31,138.56 L391.03,138.57 L391.75,138.57 L392.46,138.57 L393.18,138.58 L393.9,138.58 L394.62,138.58 L395.33,138.59 L396.05,138.59 L396.77,138.6 L397.48,138.6 L398.2,138.6 L398.92,138.61 L399.64,138.61 L400.35,138.61 L401.07,138.62 L401.79,138.62 L402.51,138.62 L403.22,138.63 L403.94,138.63 L404.66,138.63 L405.37,138.63 L406.09,138.64 L406.81,138.64 L407.53,138.64 L408.24,138.65 L408.96,138.65 L409.68,138.65 L410.4,138.65 L411.11,138.66 L411.83,138.66 L412.55,138.66 L413.26,138.66 L413.98,138.67 L414.7,138.67 L415.42,138.67 L416.13,138.67 L416.85,138.67 L417.57,138.68 L418.29,138.68 L419,138.68 L419.72,138.68 L420.44,138.68 L421.15,138.68 L421.87,138.69 L422.59,138.69 L423.31,138.69 L424.02,138.69 L424.74,138.69 L425.46,138.69 L426.18,138.69 L426.89,138.69 L427.61,138.7 L428.33,138.7 L429.04,138.7 L429.76,138.7 L430.48,138.7 L431.2,138.7 L431.91,138.7 L432.63,138.7 L433.35,138.7 L434.07,138.7 L434.78,138.7 L435.5,138.7" fill="none" stroke="#ff4d55" stroke-width="1.45" stroke-linejoin="round"/>
<path d="M263.5,139.6 L264.22,139.6 L264.93,139.59 L265.65,139.58 L266.37,139.57 L267.09,139.56 L267.8,139.54 L268.52,139.52 L269.24,139.5 L269.96,139.48 L270.67,139.45 L271.25,139.42 L271.82,139.39 L272.39,139.35 L272.97,139.29 L273.54,139.22 L274.12,139.13 L274.69,139.02 L275.26,138.9 L275.84,138.76 L276.41,138.59 L276.98,138.4 L277.56,138.18 L277.99,137.98 L278.42,137.75 L278.85,137.49 L279.28,137.19 L279.71,136.86 L280.14,136.48 L280.57,136.06 L281,135.59 L281.29,135.26 L281.58,134.91 L281.86,134.54 L282.15,134.17 L282.44,133.79 L282.72,133.41 L283.01,133.02 L283.3,132.64 L283.58,132.26 L283.87,131.88 L284.16,131.5 L284.44,131.13 L284.73,130.76 L285.02,130.4 L285.3,130.04 L285.59,129.69 L285.88,129.34 L286.17,129.01 L286.45,128.68 L286.74,128.36 L287.17,127.91 L287.6,127.48 L288.03,127.07 L288.46,126.67 L288.89,126.3 L289.32,125.94 L289.75,125.59 L290.18,125.26 L290.61,124.96 L291.04,124.67 L291.47,124.4 L291.9,124.16 L292.33,123.93 L292.76,123.72 L293.19,123.53 L293.63,123.34 L294.06,123.17 L294.63,122.97 L295.2,122.79 L295.78,122.65 L296.35,122.55 L296.92,122.49 L297.64,122.47 L298.22,122.5 L298.79,122.56 L299.36,122.64 L299.94,122.74 L300.51,122.86 L301.08,122.99 L301.66,123.16 L302.23,123.36 L302.66,123.54 L303.09,123.75 L303.52,123.98 L303.95,124.22 L304.38,124.49 L304.81,124.77 L305.24,125.06 L305.68,125.34 L306.11,125.63 L306.54,125.92 L306.97,126.21 L307.4,126.49 L307.83,126.78 L308.26,127.06 L308.69,127.34 L309.12,127.62 L309.55,127.89 L309.98,128.14 L310.41,128.39 L310.84,128.62 L311.27,128.83 L311.7,129.04 L312.13,129.23 L312.56,129.41 L312.99,129.58 L313.57,129.8 L314.14,130 L314.71,130.2 L315.29,130.39 L315.86,130.57 L316.43,130.75 L317.01,130.91 L317.58,131.04 L318.16,131.15 L318.73,131.22 L319.3,131.26 L320.02,131.28 L320.74,131.26 L321.31,131.2 L321.89,131.09 L322.46,130.88 L322.89,130.65 L323.32,130.33 L323.75,129.9 L324.04,129.53 L324.32,129.1 L324.61,128.59 L324.9,127.99 L325.18,127.31 L325.47,126.54 L325.76,125.69 L326.05,124.78 L326.19,124.3 L326.33,123.81 L326.48,123.32 L326.62,122.81 L326.76,122.31 L326.91,121.8 L327.05,121.29 L327.19,120.77 L327.34,120.27 L327.48,119.76 L327.62,119.26 L327.77,118.76 L327.91,118.27 L328.05,117.78 L328.2,117.3 L328.34,116.83 L328.48,116.36 L328.63,115.9 L328.77,115.44 L329.06,114.54 L329.34,113.65 L329.63,112.79 L329.92,111.95 L330.21,111.13 L330.49,110.32 L330.78,109.53 L331.07,108.77 L331.35,108.03 L331.64,107.31 L331.93,106.62 L332.21,105.96 L332.5,105.32 L332.79,104.72 L333.07,104.15 L333.36,103.61 L333.65,103.1 L333.94,102.62 L334.22,102.18 L334.51,101.78 L334.8,101.44 L335.23,101.03 L335.66,100.77 L336.23,100.69 L336.8,100.9 L337.23,101.23 L337.67,101.67 L337.95,102 L338.24,102.37 L338.53,102.75 L338.81,103.14 L339.1,103.53 L339.39,103.93 L339.67,104.32 L339.96,104.71 L340.25,105.08 L340.53,105.43 L340.82,105.76 L341.25,106.19 L341.68,106.54 L342.11,106.8 L342.54,106.97 L343.12,107.09 L343.69,107.12 L344.41,107.1 L344.98,107.05 L345.56,106.95 L346.13,106.8 L346.7,106.59 L347.13,106.39 L347.56,106.16 L347.99,105.93 L348.42,105.72 L349,105.53 L349.57,105.5 L350.15,105.69 L350.58,105.99 L351.01,106.4 L351.29,106.74 L351.58,107.11 L351.87,107.52 L352.15,107.94 L352.44,108.39 L352.73,108.85 L353.01,109.33 L353.3,109.8 L353.59,110.28 L353.88,110.76 L354.16,111.23 L354.45,111.69 L354.74,112.15 L355.02,112.59 L355.31,113.03 L355.6,113.45 L355.88,113.87 L356.17,114.28 L356.46,114.68 L356.74,115.08 L357.03,115.47 L357.32,115.85 L357.61,116.22 L357.89,116.59 L358.18,116.95 L358.47,117.3 L358.75,117.64 L359.04,117.97 L359.33,118.29 L359.76,118.75 L360.19,119.18 L360.62,119.59 L361.05,119.98 L361.48,120.33 L361.91,120.67 L362.34,120.99 L362.77,121.3 L363.2,121.58 L363.63,121.86 L364.06,122.12 L364.49,122.38 L364.92,122.63 L365.35,122.87 L365.78,123.11 L366.21,123.35 L366.64,123.58 L367.07,123.82 L367.5,124.06 L367.93,124.3 L368.36,124.55 L368.79,124.79 L369.22,125.05 L369.66,125.31 L370.09,125.56 L370.52,125.83 L370.95,126.09 L371.38,126.35 L371.81,126.62 L372.24,126.88 L372.67,127.14 L373.1,127.41 L373.53,127.66 L373.96,127.92 L374.39,128.18 L374.82,128.43 L375.25,128.67 L375.68,128.92 L376.11,129.16 L376.54,129.4 L376.97,129.63 L377.4,129.86 L377.83,130.1 L378.26,130.33 L378.69,130.56 L379.12,130.78 L379.55,131.01 L379.98,131.24 L380.41,131.46 L380.84,131.68 L381.27,131.9 L381.71,132.12 L382.14,132.33 L382.57,132.53 L383,132.73 L383.43,132.93 L383.86,133.12 L384.29,133.3 L384.72,133.47 L385.29,133.69 L385.87,133.9 L386.44,134.09 L387.01,134.28 L387.59,134.46 L388.16,134.63 L388.73,134.79 L389.31,134.96 L389.88,135.11 L390.46,135.26 L391.03,135.41 L391.6,135.55 L392.18,135.69 L392.75,135.82 L393.32,135.95 L393.9,136.07 L394.47,136.18 L395.05,136.29 L395.62,136.39 L396.19,136.49 L396.77,136.58 L397.34,136.67 L397.92,136.75 L398.49,136.83 L399.06,136.91 L399.64,136.99 L400.21,137.06 L400.78,137.13 L401.36,137.2 L401.93,137.27 L402.51,137.34 L403.08,137.41 L403.65,137.47 L404.23,137.54 L404.8,137.6 L405.37,137.65 L405.95,137.71 L406.52,137.76 L407.1,137.82 L407.67,137.87 L408.24,137.91 L408.82,137.96 L409.39,138 L409.97,138.03 L410.54,138.07 L411.11,138.1 L411.69,138.13 L412.4,138.16 L413.12,138.19 L413.84,138.22 L414.56,138.24 L415.27,138.26 L415.99,138.28 L416.71,138.3 L417.42,138.32 L418.14,138.34 L418.86,138.36 L419.58,138.38 L420.29,138.4 L421.01,138.41 L421.73,138.43 L422.45,138.45 L423.16,138.46 L423.88,138.48 L424.6,138.49 L425.31,138.5 L426.03,138.52 L426.75,138.53 L427.47,138.54 L428.18,138.55 L428.9,138.56 L429.62,138.57 L430.34,138.57 L431.05,138.58 L431.77,138.59 L432.49,138.59 L433.2,138.59 L433.92,138.6 L434.64,138.6 L435.36,138.6 L435.5,138.6" fill="none" stroke="#ff8c48" stroke-width="1.45" stroke-linejoin="round"/>
<path d="M263.5,139.6 L264.22,139.6 L264.93,139.59 L265.65,139.59 L266.37,139.58 L267.09,139.57 L267.8,139.56 L268.52,139.54 L269.24,139.53 L269.96,139.51 L270.67,139.49 L271.39,139.46 L272.11,139.43 L272.68,139.4 L273.25,139.36 L273.83,139.3 L274.4,139.24 L274.98,139.17 L275.55,139.08 L276.12,138.98 L276.7,138.86 L277.27,138.71 L277.85,138.53 L278.42,138.3 L278.85,138.1 L279.28,137.88 L279.71,137.63 L280.14,137.36 L280.57,137.08 L281,136.78 L281.43,136.47 L281.86,136.16 L282.29,135.84 L282.72,135.51 L283.15,135.18 L283.58,134.84 L284.01,134.48 L284.44,134.12 L284.87,133.75 L285.3,133.37 L285.74,133 L286.17,132.63 L286.6,132.28 L287.03,131.94 L287.46,131.62 L287.89,131.31 L288.32,131.02 L288.75,130.74 L289.18,130.47 L289.61,130.22 L290.04,129.97 L290.47,129.74 L290.9,129.52 L291.33,129.32 L291.76,129.13 L292.19,128.95 L292.76,128.74 L293.34,128.54 L293.91,128.35 L294.49,128.19 L295.06,128.04 L295.63,127.92 L296.21,127.83 L296.78,127.78 L297.5,127.76 L298.22,127.78 L298.79,127.82 L299.36,127.87 L299.94,127.94 L300.51,128.03 L301.08,128.12 L301.66,128.23 L302.23,128.36 L302.81,128.52 L303.38,128.7 L303.95,128.89 L304.53,129.11 L305.1,129.33 L305.68,129.56 L306.25,129.78 L306.82,130 L307.4,130.21 L307.97,130.42 L308.54,130.63 L309.12,130.83 L309.69,131.03 L310.27,131.23 L310.84,131.42 L311.41,131.61 L311.99,131.79 L312.56,131.96 L313.13,132.13 L313.71,132.3 L314.28,132.46 L314.86,132.62 L315.43,132.77 L316,132.91 L316.58,133.03 L317.15,133.14 L317.73,133.24 L318.3,133.32 L318.87,133.39 L319.45,133.45 L320.02,133.49 L320.74,133.5 L321.31,133.45 L321.89,133.3 L322.32,133.1 L322.75,132.81 L323.18,132.38 L323.46,132.01 L323.75,131.56 L324.04,131.03 L324.32,130.41 L324.61,129.69 L324.9,128.87 L325.18,127.95 L325.33,127.45 L325.47,126.93 L325.62,126.38 L325.76,125.81 L325.9,125.21 L326.05,124.6 L326.19,123.96 L326.33,123.3 L326.48,122.62 L326.62,121.92 L326.76,121.2 L326.91,120.47 L327.05,119.73 L327.19,118.97 L327.34,118.2 L327.48,117.42 L327.62,116.63 L327.77,115.84 L327.91,115.04 L328.05,114.23 L328.2,113.42 L328.34,112.61 L328.48,111.8 L328.63,110.98 L328.77,110.16 L328.91,109.34 L329.06,108.53 L329.2,107.71 L329.34,106.9 L329.49,106.08 L329.63,105.28 L329.78,104.47 L329.92,103.68 L330.06,102.89 L330.21,102.1 L330.35,101.32 L330.49,100.55 L330.64,99.79 L330.78,99.04 L330.92,98.3 L331.07,97.56 L331.21,96.84 L331.35,96.12 L331.5,95.42 L331.64,94.72 L331.78,94.04 L331.93,93.37 L332.07,92.7 L332.21,92.05 L332.36,91.41 L332.5,90.78 L332.64,90.16 L332.79,89.55 L332.93,88.96 L333.07,88.38 L333.22,87.8 L333.36,87.25 L333.51,86.7 L333.65,86.17 L333.79,85.65 L333.94,85.15 L334.08,84.66 L334.22,84.18 L334.37,83.73 L334.65,82.87 L334.94,82.09 L335.23,81.42 L335.51,80.85 L335.8,80.42 L336.23,80.03 L336.95,80.13 L337.38,80.58 L337.67,81.02 L337.95,81.54 L338.24,82.12 L338.53,82.74 L338.81,83.38 L339.1,84.03 L339.39,84.67 L339.67,85.3 L339.96,85.91 L340.25,86.51 L340.53,87.08 L340.82,87.62 L341.11,88.13 L341.39,88.61 L341.68,89.03 L341.97,89.4 L342.26,89.72 L342.69,90.07 L343.12,90.27 L343.69,90.32 L344.26,90.17 L344.69,89.95 L345.12,89.67 L345.56,89.33 L345.99,88.96 L346.42,88.56 L346.85,88.13 L347.28,87.67 L347.56,87.35 L347.85,87.02 L348.14,86.68 L348.42,86.34 L348.71,86.01 L349,85.69 L349.43,85.28 L349.86,84.98 L350.43,84.82 L351.01,85.01 L351.44,85.39 L351.72,85.76 L352.01,86.21 L352.3,86.73 L352.58,87.3 L352.87,87.91 L353.16,88.56 L353.44,89.23 L353.73,89.93 L354.02,90.63 L354.31,91.35 L354.59,92.07 L354.88,92.79 L355.17,93.51 L355.45,94.23 L355.74,94.94 L356.03,95.64 L356.31,96.33 L356.6,97.01 L356.89,97.67 L357.17,98.33 L357.46,98.98 L357.75,99.63 L358.04,100.26 L358.32,100.89 L358.61,101.51 L358.9,102.13 L359.18,102.73 L359.47,103.32 L359.76,103.91 L360.04,104.48 L360.33,105.03 L360.62,105.57 L360.9,106.1 L361.19,106.6 L361.48,107.09 L361.77,107.56 L362.05,108.01 L362.34,108.45 L362.63,108.86 L362.91,109.26 L363.2,109.64 L363.49,110.01 L363.77,110.36 L364.06,110.7 L364.35,111.03 L364.63,111.35 L365.06,111.81 L365.49,112.25 L365.93,112.67 L366.36,113.09 L366.79,113.49 L367.22,113.89 L367.65,114.28 L368.08,114.67 L368.51,115.06 L368.94,115.45 L369.37,115.85 L369.8,116.26 L370.23,116.67 L370.66,117.09 L371.09,117.52 L371.52,117.96 L371.95,118.4 L372.38,118.85 L372.81,119.3 L373.24,119.76 L373.67,120.21 L374.1,120.66 L374.53,121.11 L374.96,121.56 L375.39,121.99 L375.82,122.43 L376.25,122.85 L376.68,123.26 L377.11,123.66 L377.55,124.05 L377.98,124.42 L378.41,124.79 L378.84,125.14 L379.27,125.49 L379.7,125.83 L380.13,126.17 L380.56,126.49 L380.99,126.82 L381.42,127.14 L381.85,127.45 L382.28,127.76 L382.71,128.06 L383.14,128.36 L383.57,128.64 L384,128.93 L384.43,129.2 L384.86,129.47 L385.29,129.73 L385.72,129.98 L386.15,130.23 L386.58,130.46 L387.01,130.69 L387.44,130.91 L387.87,131.12 L388.3,131.33 L388.73,131.53 L389.16,131.72 L389.6,131.92 L390.03,132.11 L390.46,132.3 L390.89,132.48 L391.32,132.66 L391.75,132.84 L392.18,133.02 L392.61,133.19 L393.18,133.41 L393.76,133.63 L394.33,133.84 L394.9,134.04 L395.48,134.24 L396.05,134.43 L396.62,134.61 L397.2,134.78 L397.77,134.94 L398.35,135.09 L398.92,135.23 L399.49,135.36 L400.07,135.48 L400.64,135.6 L401.21,135.7 L401.79,135.81 L402.36,135.91 L402.94,136 L403.51,136.1 L404.08,136.19 L404.66,136.28 L405.23,136.37 L405.81,136.46 L406.38,136.54 L406.95,136.62 L407.53,136.7 L408.1,136.78 L408.67,136.86 L409.25,136.93 L409.82,137 L410.4,137.07 L410.97,137.14 L411.54,137.2 L412.12,137.27 L412.69,137.33 L413.26,137.39 L413.84,137.45 L414.41,137.5 L414.99,137.55 L415.56,137.6 L416.13,137.65 L416.71,137.7 L417.28,137.74 L417.86,137.79 L418.43,137.83 L419,137.87 L419.58,137.9 L420.15,137.94 L420.72,137.97 L421.3,138 L421.87,138.03 L422.45,138.06 L423.02,138.09 L423.59,138.12 L424.17,138.15 L424.74,138.18 L425.31,138.21 L425.89,138.23 L426.61,138.27 L427.32,138.3 L428.04,138.33 L428.76,138.35 L429.47,138.38 L430.19,138.4 L430.91,138.42 L431.63,138.44 L432.34,138.46 L433.06,138.47 L433.78,138.48 L434.5,138.49 L435.21,138.5 L435.5,138.5" fill="none" stroke="#ffe640" stroke-width="1.45" stroke-linejoin="round"/>
<path d="M263.5,139.6 L264.22,139.6 L264.93,139.59 L265.65,139.59 L266.37,139.58 L267.09,139.57 L267.8,139.56 L268.52,139.54 L269.24,139.52 L269.96,139.5 L270.67,139.48 L271.39,139.46 L272.11,139.43 L272.82,139.4 L273.54,139.37 L274.26,139.34 L274.83,139.31 L275.41,139.28 L275.98,139.25 L276.55,139.21 L277.13,139.16 L277.7,139.09 L278.28,139 L278.85,138.89 L279.42,138.76 L280,138.62 L280.57,138.46 L281.14,138.31 L281.72,138.15 L282.29,137.99 L282.87,137.84 L283.44,137.69 L284.01,137.54 L284.59,137.39 L285.16,137.23 L285.74,137.08 L286.31,136.92 L286.88,136.77 L287.46,136.63 L288.03,136.5 L288.6,136.37 L289.18,136.26 L289.75,136.16 L290.33,136.06 L290.9,135.98 L291.47,135.9 L292.05,135.82 L292.62,135.75 L293.19,135.68 L293.77,135.61 L294.34,135.56 L294.92,135.51 L295.49,135.47 L296.06,135.44 L296.78,135.42 L297.5,135.42 L298.22,135.44 L298.93,135.46 L299.51,135.49 L300.08,135.53 L300.65,135.58 L301.23,135.62 L301.8,135.68 L302.38,135.73 L302.95,135.79 L303.52,135.85 L304.1,135.91 L304.67,135.97 L305.24,136.04 L305.82,136.1 L306.39,136.18 L306.97,136.26 L307.54,136.34 L308.11,136.43 L308.69,136.52 L309.26,136.61 L309.84,136.7 L310.41,136.78 L310.98,136.86 L311.56,136.94 L312.13,137.01 L312.7,137.08 L313.28,137.15 L313.85,137.21 L314.43,137.28 L315,137.34 L315.57,137.41 L316.15,137.47 L316.72,137.52 L317.29,137.57 L317.87,137.61 L318.44,137.64 L319.16,137.67 L319.88,137.67 L320.59,137.65 L321.17,137.6 L321.74,137.52 L322.32,137.35 L322.75,137.15 L323.18,136.84 L323.61,136.38 L323.89,135.97 L324.18,135.45 L324.47,134.82 L324.75,134.06 L325.04,133.15 L325.18,132.63 L325.33,132.08 L325.47,131.48 L325.62,130.84 L325.76,130.15 L325.9,129.42 L326.05,128.65 L326.19,127.83 L326.33,126.97 L326.48,126.07 L326.62,125.13 L326.76,124.15 L326.91,123.12 L327.05,122.06 L327.19,120.97 L327.34,119.83 L327.48,118.67 L327.62,117.47 L327.77,116.24 L327.91,114.98 L328.05,113.69 L328.2,112.39 L328.34,111.06 L328.48,109.71 L328.63,108.36 L328.77,106.99 L328.91,105.62 L329.06,104.25 L329.2,102.87 L329.34,101.51 L329.49,100.15 L329.63,98.81 L329.78,97.48 L329.92,96.17 L330.06,94.87 L330.21,93.59 L330.35,92.34 L330.49,91.1 L330.64,89.89 L330.78,88.7 L330.92,87.53 L331.07,86.38 L331.21,85.25 L331.35,84.14 L331.5,83.06 L331.64,81.99 L331.78,80.95 L331.93,79.93 L332.07,78.92 L332.21,77.94 L332.36,76.98 L332.5,76.04 L332.64,75.12 L332.79,74.22 L332.93,73.34 L333.07,72.48 L333.22,71.64 L333.36,70.81 L333.51,70 L333.65,69.21 L333.79,68.44 L333.94,67.68 L334.08,66.94 L334.22,66.21 L334.37,65.51 L334.51,64.82 L334.65,64.15 L334.8,63.5 L334.94,62.88 L335.08,62.28 L335.23,61.7 L335.37,61.16 L335.51,60.64 L335.66,60.16 L335.94,59.3 L336.23,58.6 L336.52,58.07 L336.8,57.72 L337.23,57.52 L337.67,57.71 L338.1,58.22 L338.38,58.72 L338.67,59.31 L338.96,59.97 L339.24,60.68 L339.53,61.43 L339.82,62.2 L340.1,62.98 L340.39,63.75 L340.68,64.5 L340.96,65.21 L341.25,65.88 L341.54,66.47 L341.83,66.98 L342.11,67.39 L342.54,67.81 L342.97,68 L343.55,67.93 L343.98,67.68 L344.41,67.31 L344.84,66.85 L345.12,66.51 L345.41,66.16 L345.7,65.79 L345.99,65.42 L346.27,65.04 L346.56,64.66 L346.85,64.28 L347.13,63.9 L347.42,63.52 L347.71,63.14 L347.99,62.76 L348.28,62.38 L348.57,62.01 L348.85,61.66 L349.14,61.35 L349.57,60.95 L350,60.72 L350.58,60.77 L351.01,61.16 L351.29,61.61 L351.58,62.22 L351.87,62.96 L352.15,63.82 L352.3,64.29 L352.44,64.78 L352.58,65.28 L352.73,65.8 L352.87,66.32 L353.01,66.86 L353.16,67.39 L353.3,67.93 L353.44,68.46 L353.59,68.99 L353.73,69.52 L353.88,70.04 L354.02,70.56 L354.16,71.08 L354.31,71.59 L354.45,72.09 L354.59,72.59 L354.74,73.08 L354.88,73.57 L355.02,74.06 L355.17,74.54 L355.31,75.02 L355.45,75.49 L355.6,75.96 L355.74,76.43 L355.88,76.89 L356.03,77.35 L356.31,78.26 L356.6,79.14 L356.89,80.01 L357.17,80.85 L357.46,81.67 L357.75,82.47 L358.04,83.23 L358.32,83.97 L358.61,84.68 L358.9,85.35 L359.18,86 L359.47,86.62 L359.76,87.21 L360.04,87.77 L360.33,88.31 L360.62,88.82 L360.9,89.32 L361.19,89.79 L361.48,90.25 L361.77,90.7 L362.05,91.13 L362.34,91.56 L362.63,91.97 L362.91,92.38 L363.2,92.78 L363.49,93.18 L363.77,93.58 L364.06,93.97 L364.35,94.37 L364.63,94.77 L364.92,95.17 L365.21,95.58 L365.49,95.98 L365.78,96.4 L366.07,96.81 L366.36,97.22 L366.64,97.64 L366.93,98.06 L367.22,98.47 L367.5,98.89 L367.79,99.3 L368.08,99.72 L368.36,100.14 L368.65,100.55 L368.94,100.97 L369.22,101.39 L369.51,101.81 L369.8,102.24 L370.09,102.66 L370.37,103.1 L370.66,103.53 L370.95,103.97 L371.23,104.42 L371.52,104.87 L371.81,105.34 L372.09,105.81 L372.38,106.29 L372.67,106.78 L372.95,107.28 L373.24,107.8 L373.53,108.32 L373.82,108.85 L374.1,109.4 L374.39,109.95 L374.68,110.5 L374.96,111.06 L375.25,111.63 L375.54,112.19 L375.82,112.75 L376.11,113.32 L376.4,113.87 L376.68,114.42 L376.97,114.97 L377.26,115.5 L377.55,116.02 L377.83,116.53 L378.12,117.03 L378.41,117.51 L378.69,117.97 L378.98,118.42 L379.27,118.84 L379.55,119.25 L379.84,119.65 L380.13,120.02 L380.41,120.39 L380.7,120.74 L380.99,121.08 L381.27,121.41 L381.56,121.73 L381.85,122.05 L382.28,122.51 L382.71,122.96 L383.14,123.4 L383.57,123.83 L384,124.24 L384.43,124.65 L384.86,125.04 L385.29,125.43 L385.72,125.8 L386.15,126.16 L386.58,126.52 L387.01,126.86 L387.44,127.19 L387.87,127.51 L388.3,127.81 L388.73,128.11 L389.16,128.4 L389.6,128.68 L390.03,128.95 L390.46,129.21 L390.89,129.46 L391.32,129.7 L391.75,129.94 L392.18,130.17 L392.61,130.39 L393.04,130.62 L393.47,130.84 L393.9,131.05 L394.33,131.26 L394.76,131.47 L395.19,131.68 L395.62,131.88 L396.05,132.07 L396.48,132.27 L396.91,132.45 L397.34,132.64 L397.77,132.82 L398.2,132.99 L398.63,133.16 L399.21,133.38 L399.78,133.6 L400.35,133.8 L400.93,133.99 L401.5,134.18 L402.08,134.35 L402.65,134.52 L403.22,134.68 L403.8,134.82 L404.37,134.96 L404.94,135.09 L405.52,135.21 L406.09,135.33 L406.67,135.44 L407.24,135.54 L407.81,135.64 L408.39,135.74 L408.96,135.84 L409.54,135.93 L410.11,136.03 L410.68,136.11 L411.26,136.2 L411.83,136.29 L412.4,136.37 L412.98,136.45 L413.55,136.52 L414.13,136.6 L414.7,136.67 L415.27,136.74 L415.85,136.81 L416.42,136.88 L416.99,136.95 L417.57,137.01 L418.14,137.07 L418.72,137.13 L419.29,137.19 L419.86,137.25 L420.44,137.31 L421.01,137.36 L421.59,137.42 L422.16,137.47 L422.73,137.52 L423.31,137.57 L423.88,137.62 L424.45,137.67 L425.03,137.72 L425.6,137.77 L426.18,137.81 L426.75,137.86 L427.32,137.9 L427.9,137.95 L428.47,137.99 L429.04,138.03 L429.62,138.07 L430.19,138.11 L430.77,138.14 L431.34,138.18 L431.91,138.21 L432.49,138.25 L433.06,138.28 L433.64,138.31 L434.21,138.33 L434.93,138.36 L435.5,138.38" fill="none" stroke="#40e640" stroke-width="1.45" stroke-linejoin="round"/>
<path d="M263.5,139.6 L264.22,139.6 L264.93,139.59 L265.65,139.59 L266.37,139.58 L267.09,139.58 L267.8,139.57 L268.52,139.56 L269.24,139.54 L269.96,139.53 L270.67,139.51 L271.39,139.49 L272.11,139.47 L272.82,139.45 L273.54,139.43 L274.26,139.41 L274.98,139.38 L275.69,139.35 L276.27,139.32 L276.84,139.29 L277.41,139.25 L277.99,139.19 L278.56,139.12 L279.14,139.03 L279.71,138.94 L280.28,138.83 L280.86,138.72 L281.43,138.61 L282.01,138.49 L282.58,138.38 L283.15,138.27 L283.73,138.16 L284.3,138.05 L284.87,137.93 L285.45,137.82 L286.02,137.7 L286.6,137.58 L287.17,137.47 L287.74,137.36 L288.32,137.26 L288.89,137.17 L289.46,137.08 L290.04,137.01 L290.61,136.93 L291.19,136.86 L291.76,136.8 L292.33,136.73 L292.91,136.67 L293.48,136.61 L294.06,136.56 L294.63,136.52 L295.2,136.48 L295.78,136.45 L296.49,136.43 L297.21,136.42 L297.93,136.42 L298.65,136.43 L299.36,136.46 L300.08,136.49 L300.65,136.51 L301.23,136.55 L301.8,136.58 L302.38,136.62 L302.95,136.66 L303.52,136.7 L304.1,136.74 L304.67,136.78 L305.24,136.83 L305.82,136.88 L306.39,136.94 L306.97,137 L307.54,137.07 L308.11,137.14 L308.69,137.21 L309.26,137.28 L309.84,137.35 L310.41,137.42 L310.98,137.49 L311.56,137.55 L312.13,137.61 L312.7,137.67 L313.28,137.72 L313.85,137.78 L314.43,137.84 L315,137.89 L315.57,137.95 L316.15,138 L316.72,138.04 L317.29,138.08 L317.87,138.12 L318.44,138.15 L319.16,138.17 L319.88,138.17 L320.59,138.13 L321.17,138.07 L321.74,137.96 L322.32,137.77 L322.75,137.53 L323.18,137.16 L323.46,136.83 L323.75,136.41 L324.04,135.89 L324.32,135.24 L324.61,134.45 L324.9,133.49 L325.04,132.96 L325.18,132.37 L325.33,131.74 L325.47,131.06 L325.62,130.33 L325.76,129.55 L325.9,128.73 L326.05,127.85 L326.19,126.93 L326.33,125.96 L326.48,124.94 L326.62,123.87 L326.76,122.76 L326.91,121.61 L327.05,120.41 L327.19,119.17 L327.34,117.9 L327.48,116.58 L327.62,115.23 L327.77,113.85 L327.91,112.43 L328.05,110.99 L328.2,109.52 L328.34,108.03 L328.48,106.52 L328.63,105 L328.77,103.47 L328.91,101.93 L329.06,100.39 L329.2,98.85 L329.34,97.32 L329.49,95.8 L329.63,94.29 L329.78,92.79 L329.92,91.32 L330.06,89.86 L330.21,88.42 L330.35,87.01 L330.49,85.62 L330.64,84.25 L330.78,82.91 L330.92,81.59 L331.07,80.3 L331.21,79.03 L331.35,77.79 L331.5,76.57 L331.64,75.37 L331.78,74.2 L331.93,73.06 L332.07,71.94 L332.21,70.85 L332.36,69.79 L332.5,68.75 L332.64,67.74 L332.79,66.75 L332.93,65.8 L333.07,64.86 L333.22,63.95 L333.36,63.07 L333.51,62.2 L333.65,61.36 L333.79,60.55 L333.94,59.75 L334.08,58.97 L334.22,58.21 L334.37,57.48 L334.51,56.76 L334.65,56.06 L334.8,55.39 L334.94,54.74 L335.08,54.1 L335.23,53.5 L335.37,52.92 L335.51,52.37 L335.66,51.84 L335.8,51.35 L335.94,50.9 L336.23,50.09 L336.52,49.43 L336.8,48.94 L337.09,48.61 L337.67,48.47 L338.1,48.77 L338.38,49.13 L338.67,49.61 L338.96,50.16 L339.24,50.78 L339.53,51.44 L339.82,52.13 L340.1,52.82 L340.39,53.51 L340.68,54.18 L340.96,54.81 L341.25,55.39 L341.54,55.91 L341.83,56.35 L342.11,56.7 L342.54,57.04 L343.12,57.13 L343.55,56.96 L343.98,56.61 L344.41,56.12 L344.69,55.74 L344.98,55.33 L345.27,54.89 L345.56,54.44 L345.84,53.98 L346.13,53.51 L346.42,53.05 L346.7,52.58 L346.99,52.11 L347.28,51.65 L347.56,51.19 L347.85,50.73 L348.14,50.29 L348.42,49.87 L348.71,49.48 L349,49.13 L349.43,48.73 L349.86,48.52 L350.43,48.65 L350.86,49.12 L351.15,49.61 L351.44,50.25 L351.72,51.02 L352.01,51.91 L352.15,52.38 L352.3,52.88 L352.44,53.39 L352.58,53.92 L352.73,54.47 L352.87,55.02 L353.01,55.57 L353.16,56.14 L353.3,56.7 L353.44,57.27 L353.59,57.85 L353.73,58.42 L353.88,58.99 L354.02,59.56 L354.16,60.13 L354.31,60.7 L354.45,61.26 L354.59,61.83 L354.74,62.39 L354.88,62.95 L355.02,63.5 L355.17,64.05 L355.31,64.6 L355.45,65.14 L355.6,65.68 L355.74,66.2 L355.88,66.72 L356.03,67.23 L356.17,67.73 L356.31,68.23 L356.46,68.71 L356.6,69.18 L356.74,69.64 L357.03,70.53 L357.32,71.37 L357.61,72.18 L357.89,72.95 L358.18,73.68 L358.47,74.38 L358.75,75.05 L359.04,75.7 L359.33,76.33 L359.61,76.93 L359.9,77.52 L360.19,78.09 L360.47,78.64 L360.76,79.18 L361.05,79.7 L361.33,80.21 L361.62,80.7 L361.91,81.18 L362.2,81.64 L362.48,82.1 L362.77,82.54 L363.06,82.97 L363.34,83.39 L363.63,83.81 L363.92,84.22 L364.2,84.63 L364.49,85.04 L364.78,85.45 L365.06,85.86 L365.35,86.27 L365.64,86.69 L365.93,87.11 L366.21,87.54 L366.5,87.96 L366.79,88.39 L367.07,88.82 L367.36,89.25 L367.65,89.68 L367.93,90.11 L368.22,90.54 L368.51,90.98 L368.79,91.41 L369.08,91.85 L369.37,92.3 L369.66,92.74 L369.94,93.19 L370.23,93.64 L370.52,94.1 L370.8,94.57 L371.09,95.04 L371.38,95.51 L371.66,96 L371.95,96.49 L372.24,96.99 L372.52,97.51 L372.81,98.03 L373.1,98.58 L373.38,99.13 L373.67,99.71 L373.96,100.3 L374.25,100.92 L374.53,101.56 L374.82,102.22 L375.11,102.91 L375.39,103.61 L375.68,104.34 L375.97,105.08 L376.25,105.83 L376.54,106.6 L376.83,107.37 L377.11,108.15 L377.4,108.92 L377.69,109.7 L377.98,110.46 L378.26,111.22 L378.55,111.96 L378.84,112.68 L379.12,113.39 L379.41,114.07 L379.7,114.73 L379.98,115.35 L380.27,115.95 L380.56,116.51 L380.84,117.05 L381.13,117.55 L381.42,118.02 L381.71,118.46 L381.99,118.88 L382.28,119.28 L382.57,119.66 L382.85,120.03 L383.14,120.38 L383.43,120.73 L383.71,121.06 L384,121.39 L384.29,121.71 L384.57,122.02 L385,122.48 L385.43,122.93 L385.87,123.36 L386.3,123.78 L386.73,124.18 L387.16,124.58 L387.59,124.96 L388.02,125.32 L388.45,125.68 L388.88,126.03 L389.31,126.36 L389.74,126.69 L390.17,127 L390.6,127.31 L391.03,127.6 L391.46,127.89 L391.89,128.17 L392.32,128.44 L392.75,128.7 L393.18,128.95 L393.61,129.2 L394.04,129.44 L394.47,129.68 L394.9,129.91 L395.33,130.14 L395.76,130.36 L396.19,130.58 L396.62,130.8 L397.05,131.01 L397.48,131.22 L397.92,131.43 L398.35,131.63 L398.78,131.83 L399.21,132.03 L399.64,132.22 L400.07,132.41 L400.5,132.6 L400.93,132.78 L401.36,132.96 L401.79,133.13 L402.22,133.3 L402.79,133.52 L403.37,133.73 L403.94,133.94 L404.51,134.13 L405.09,134.32 L405.66,134.5 L406.24,134.67 L406.81,134.83 L407.38,134.99 L407.96,135.13 L408.53,135.27 L409.1,135.39 L409.68,135.51 L410.25,135.62 L410.83,135.72 L411.4,135.83 L411.97,135.93 L412.55,136.03 L413.12,136.13 L413.7,136.22 L414.27,136.32 L414.84,136.41 L415.42,136.51 L415.99,136.6 L416.56,136.69 L417.14,136.78 L417.71,136.87 L418.29,136.95 L418.86,137.04 L419.43,137.12 L420.01,137.2 L420.58,137.28 L421.15,137.36 L421.73,137.43 L422.3,137.5 L422.88,137.57 L423.45,137.64 L424.02,137.7 L424.6,137.77 L425.17,137.83 L425.75,137.89 L426.32,137.94 L426.89,137.99 L427.47,138.04 L428.04,138.09 L428.61,138.13 L429.19,138.17 L429.76,138.21 L430.34,138.24 L430.91,138.27 L431.48,138.3 L432.2,138.33 L432.92,138.35 L433.64,138.37 L434.35,138.39 L435.07,138.39 L435.5,138.4" fill="none" stroke="#48a8ff" stroke-width="1.45" stroke-linejoin="round"/>
<path d="M263.5,139.6 L264.22,139.6 L264.93,139.6 L265.65,139.59 L266.37,139.59 L267.09,139.58 L267.8,139.58 L268.52,139.57 L269.24,139.56 L269.96,139.55 L270.67,139.54 L271.39,139.53 L272.11,139.52 L272.82,139.5 L273.54,139.49 L274.26,139.47 L274.98,139.45 L275.69,139.43 L276.41,139.41 L277.13,139.38 L277.7,139.34 L278.28,139.3 L278.85,139.25 L279.42,139.18 L280,139.11 L280.57,139.03 L281.14,138.96 L281.72,138.88 L282.29,138.8 L282.87,138.72 L283.44,138.64 L284.01,138.56 L284.59,138.48 L285.16,138.4 L285.74,138.32 L286.31,138.24 L286.88,138.16 L287.46,138.09 L288.03,138.01 L288.6,137.95 L289.18,137.89 L289.75,137.83 L290.33,137.78 L290.9,137.73 L291.47,137.69 L292.05,137.64 L292.62,137.6 L293.19,137.56 L293.77,137.52 L294.34,137.49 L294.92,137.46 L295.63,137.44 L296.35,137.42 L297.07,137.41 L297.79,137.41 L298.5,137.42 L299.22,137.44 L299.94,137.46 L300.65,137.49 L301.37,137.52 L301.95,137.55 L302.52,137.57 L303.09,137.6 L303.67,137.63 L304.24,137.66 L304.81,137.69 L305.39,137.73 L305.96,137.76 L306.54,137.8 L307.11,137.84 L307.68,137.89 L308.26,137.93 L308.83,137.98 L309.4,138.03 L309.98,138.07 L310.55,138.11 L311.13,138.15 L311.7,138.18 L312.27,138.21 L312.85,138.24 L313.42,138.26 L314.14,138.3 L314.86,138.32 L315.57,138.35 L316.29,138.37 L317.01,138.38 L317.73,138.39 L318.44,138.38 L319.16,138.35 L319.73,138.32 L320.31,138.25 L320.88,138.14 L321.45,137.91 L321.89,137.62 L322.32,137.19 L322.6,136.82 L322.89,136.36 L323.18,135.82 L323.46,135.19 L323.75,134.48 L324.04,133.68 L324.32,132.8 L324.47,132.33 L324.61,131.84 L324.75,131.34 L324.9,130.81 L325.04,130.26 L325.18,129.7 L325.33,129.12 L325.47,128.53 L325.62,127.92 L325.76,127.3 L325.9,126.68 L326.05,126.04 L326.19,125.39 L326.33,124.73 L326.48,124.07 L326.62,123.41 L326.76,122.73 L326.91,122.05 L327.05,121.37 L327.19,120.67 L327.34,119.97 L327.48,119.25 L327.62,118.52 L327.77,117.77 L327.91,117 L328.05,116.2 L328.2,115.38 L328.34,114.53 L328.48,113.63 L328.63,112.7 L328.77,111.73 L328.91,110.71 L329.06,109.64 L329.2,108.52 L329.34,107.34 L329.49,106.11 L329.63,104.83 L329.78,103.48 L329.92,102.08 L330.06,100.63 L330.21,99.12 L330.35,97.56 L330.49,95.96 L330.64,94.31 L330.78,92.62 L330.92,90.9 L331.07,89.15 L331.21,87.39 L331.35,85.61 L331.5,83.83 L331.64,82.05 L331.78,80.28 L331.93,78.53 L332.07,76.8 L332.21,75.1 L332.36,73.45 L332.5,71.83 L332.64,70.25 L332.79,68.73 L332.93,67.26 L333.07,65.84 L333.22,64.47 L333.36,63.15 L333.51,61.89 L333.65,60.68 L333.79,59.52 L333.94,58.41 L334.08,57.34 L334.22,56.33 L334.37,55.35 L334.51,54.42 L334.65,53.52 L334.8,52.67 L334.94,51.86 L335.08,51.08 L335.23,50.34 L335.37,49.64 L335.51,48.97 L335.66,48.34 L335.8,47.75 L335.94,47.2 L336.09,46.68 L336.23,46.21 L336.52,45.4 L336.8,44.76 L337.09,44.31 L337.52,43.98 L338.1,44.14 L338.53,44.63 L338.81,45.1 L339.1,45.64 L339.39,46.23 L339.67,46.86 L339.96,47.51 L340.25,48.17 L340.53,48.81 L340.82,49.43 L341.11,50.01 L341.39,50.54 L341.68,51 L341.97,51.37 L342.4,51.76 L342.97,51.91 L343.55,51.69 L343.98,51.32 L344.26,50.99 L344.55,50.62 L344.84,50.22 L345.12,49.79 L345.41,49.34 L345.7,48.89 L345.99,48.43 L346.27,47.97 L346.56,47.52 L346.85,47.06 L347.13,46.6 L347.42,46.15 L347.71,45.71 L347.99,45.27 L348.28,44.86 L348.57,44.47 L348.85,44.12 L349.28,43.69 L349.72,43.41 L350.29,43.37 L350.72,43.63 L351.01,43.95 L351.29,44.38 L351.58,44.92 L351.87,45.55 L352.15,46.26 L352.44,47.03 L352.73,47.85 L353.01,48.7 L353.3,49.57 L353.59,50.47 L353.88,51.38 L354.02,51.83 L354.16,52.29 L354.31,52.75 L354.45,53.21 L354.59,53.67 L354.74,54.13 L354.88,54.59 L355.02,55.06 L355.17,55.52 L355.31,55.97 L355.45,56.43 L355.74,57.34 L356.03,58.25 L356.31,59.14 L356.6,60.03 L356.89,60.91 L357.17,61.78 L357.46,62.64 L357.75,63.49 L358.04,64.34 L358.32,65.18 L358.61,66.01 L358.9,66.84 L359.18,67.65 L359.47,68.46 L359.76,69.26 L360.04,70.05 L360.33,70.83 L360.62,71.6 L360.9,72.37 L361.19,73.12 L361.48,73.87 L361.77,74.6 L362.05,75.33 L362.34,76.04 L362.63,76.74 L362.91,77.44 L363.2,78.12 L363.49,78.79 L363.77,79.45 L364.06,80.1 L364.35,80.74 L364.63,81.37 L364.92,81.99 L365.21,82.6 L365.49,83.21 L365.78,83.81 L366.07,84.4 L366.36,84.98 L366.64,85.56 L366.93,86.12 L367.22,86.68 L367.5,87.23 L367.79,87.77 L368.08,88.3 L368.36,88.82 L368.65,89.34 L368.94,89.84 L369.22,90.33 L369.51,90.82 L369.8,91.3 L370.09,91.76 L370.37,92.23 L370.66,92.69 L370.95,93.14 L371.23,93.59 L371.52,94.04 L371.81,94.49 L372.09,94.94 L372.38,95.39 L372.67,95.84 L372.95,96.3 L373.24,96.77 L373.53,97.24 L373.82,97.73 L374.1,98.22 L374.39,98.72 L374.68,99.23 L374.96,99.76 L375.25,100.29 L375.54,100.84 L375.82,101.4 L376.11,101.97 L376.4,102.56 L376.68,103.15 L376.97,103.76 L377.26,104.37 L377.55,104.99 L377.83,105.62 L378.12,106.26 L378.41,106.91 L378.69,107.57 L378.98,108.24 L379.27,108.92 L379.55,109.62 L379.84,110.32 L380.13,111.04 L380.41,111.76 L380.7,112.49 L380.99,113.23 L381.27,113.95 L381.56,114.66 L381.85,115.36 L382.14,116.02 L382.42,116.66 L382.71,117.26 L383,117.83 L383.28,118.37 L383.57,118.87 L383.86,119.35 L384.14,119.8 L384.43,120.23 L384.72,120.64 L385,121.03 L385.29,121.42 L385.58,121.79 L385.87,122.15 L386.15,122.51 L386.44,122.85 L386.73,123.19 L387.01,123.51 L387.3,123.83 L387.73,124.29 L388.16,124.74 L388.59,125.17 L389.02,125.58 L389.45,125.98 L389.88,126.37 L390.31,126.74 L390.74,127.1 L391.17,127.45 L391.6,127.79 L392.03,128.12 L392.46,128.44 L392.89,128.75 L393.32,129.06 L393.76,129.36 L394.19,129.65 L394.62,129.94 L395.05,130.22 L395.48,130.5 L395.91,130.78 L396.34,131.05 L396.77,131.32 L397.2,131.58 L397.63,131.83 L398.06,132.08 L398.49,132.33 L398.92,132.56 L399.35,132.8 L399.78,133.02 L400.21,133.24 L400.64,133.45 L401.07,133.66 L401.5,133.86 L401.93,134.05 L402.36,134.23 L402.79,134.4 L403.37,134.62 L403.94,134.82 L404.51,135.01 L405.09,135.18 L405.66,135.34 L406.24,135.49 L406.81,135.63 L407.38,135.76 L407.96,135.89 L408.53,136.01 L409.1,136.12 L409.68,136.23 L410.25,136.34 L410.83,136.44 L411.4,136.54 L411.97,136.63 L412.55,136.72 L413.12,136.81 L413.7,136.89 L414.27,136.96 L414.84,137.04 L415.42,137.11 L415.99,137.18 L416.56,137.24 L417.14,137.3 L417.71,137.36 L418.29,137.41 L418.86,137.47 L419.43,137.52 L420.01,137.58 L420.58,137.63 L421.15,137.68 L421.73,137.73 L422.3,137.78 L422.88,137.83 L423.45,137.88 L424.02,137.93 L424.6,137.97 L425.17,138.02 L425.75,138.06 L426.32,138.11 L426.89,138.15 L427.47,138.18 L428.04,138.22 L428.61,138.26 L429.19,138.29 L429.76,138.32 L430.34,138.35 L430.91,138.38 L431.63,138.41 L432.34,138.43 L433.06,138.45 L433.78,138.47 L434.5,138.48 L435.21,138.49 L435.5,138.49" fill="none" stroke="#6a4cf5" stroke-width="1.45" stroke-linejoin="round"/>
<defs><linearGradient id="garr" x1="0" y1="0" x2="0" y2="1"><stop offset="0" stop-color="#d8306a"/><stop offset="1" stop-color="#7a2af0"/></linearGradient></defs>
<rect x="296.6" y="105" width="1.2" height="28" fill="url(#garr)"/>
<path d="M294.9,131.6 L299.6,131.6 L297.2,137.3 Z" fill="#6a2af5"/>
<line x1="350.5" y1="106.5" x2="350.5" y2="49" stroke="#e03060" stroke-width="1.6" stroke-dasharray="3.2,2"/>
<path d="M348.2,50.2 L352.8,50.2 L350.5,43.8 Z" fill="#7a20e0"/>
<text x="381.7" y="37.1" font-size="8.6" text-anchor="start" font-weight="normal" fill="#1a1a1a" stroke="#1a1a1a" stroke-width="0.14">NU / CBS</text>
<line x1="378.8" y1="44.7" x2="395" y2="44.7" stroke="#ff4d55" stroke-width="1.4"/>
<text x="397.4" y="47.9" font-size="8.5" text-anchor="start" font-weight="normal" fill="#1a1a1a" stroke="#1a1a1a" stroke-width="0.14">NU</text>
<line x1="378.8" y1="55.3" x2="395" y2="55.3" stroke="#ff8c48" stroke-width="1.4"/>
<text x="397.4" y="58.5" font-size="8.5" text-anchor="start" font-weight="normal" fill="#1a1a1a" stroke="#1a1a1a" stroke-width="0.14">10000 / 1</text>
<line x1="378.8" y1="65.9" x2="395" y2="65.9" stroke="#ffe640" stroke-width="1.4"/>
<text x="397.4" y="69.1" font-size="8.5" text-anchor="start" font-weight="normal" fill="#1a1a1a" stroke="#1a1a1a" stroke-width="0.14">10000 / 3</text>
<line x1="378.8" y1="76.3" x2="395" y2="76.3" stroke="#40e640" stroke-width="1.4"/>
<text x="397.4" y="79.5" font-size="8.5" text-anchor="start" font-weight="normal" fill="#1a1a1a" stroke="#1a1a1a" stroke-width="0.14">10000 / 5</text>
<line x1="378.8" y1="86.9" x2="395" y2="86.9" stroke="#48a8ff" stroke-width="1.4"/>
<text x="397.4" y="90.1" font-size="8.5" text-anchor="start" font-weight="normal" fill="#1a1a1a" stroke="#1a1a1a" stroke-width="0.14">10000 / 7</text>
<line x1="378.8" y1="97.5" x2="395" y2="97.5" stroke="#6a4cf5" stroke-width="1.4"/>
<text x="400.4" y="100.7" font-size="8.5" text-anchor="start" font-weight="normal" fill="#1a1a1a" stroke="#1a1a1a" stroke-width="0.14">1000&#160;&#160;/ 1</text>
<line x1="496.2" y1="28.4" x2="680.6" y2="28.2" stroke="#d4d4d4" stroke-width="1"/>
<line x1="488.4" y1="27.4" x2="496.2" y2="28.4" stroke="#d4d4d4" stroke-width="1"/>
<line x1="496.2" y1="28.4" x2="496.2" y2="140.1" stroke="#d4d4d4" stroke-width="1"/>
<line x1="680.6" y1="28.2" x2="680.6" y2="142" stroke="#d4d4d4" stroke-width="1"/>
<line x1="496.2" y1="140.1" x2="680.6" y2="142" stroke="#d4d4d4" stroke-width="1"/>
<line x1="488.4" y1="146.7" x2="496.2" y2="140.1" stroke="#d4d4d4" stroke-width="1"/>
<line x1="680.6" y1="142" x2="685" y2="148.7" stroke="#d4d4d4" stroke-width="1"/>
<line x1="488.4" y1="146.7" x2="685" y2="148" stroke="#c4c4c4" stroke-width="1"/>
<line x1="488.4" y1="27" x2="488.4" y2="147.2" stroke="#b2b2b2" stroke-width="1"/>
<line x1="485.8" y1="146.7" x2="488.4" y2="146.7" stroke="#b2b2b2" stroke-width="1"/>
<line x1="486.8" y1="135.87" x2="488.4" y2="135.87" stroke="#b2b2b2" stroke-width="1"/>
<line x1="485.8" y1="125.04" x2="488.4" y2="125.04" stroke="#b2b2b2" stroke-width="1"/>
<line x1="486.8" y1="114.21" x2="488.4" y2="114.21" stroke="#b2b2b2" stroke-width="1"/>
<line x1="485.8" y1="103.38" x2="488.4" y2="103.38" stroke="#b2b2b2" stroke-width="1"/>
<line x1="486.8" y1="92.55" x2="488.4" y2="92.55" stroke="#b2b2b2" stroke-width="1"/>
<line x1="485.8" y1="81.72" x2="488.4" y2="81.72" stroke="#b2b2b2" stroke-width="1"/>
<line x1="486.8" y1="70.89" x2="488.4" y2="70.89" stroke="#b2b2b2" stroke-width="1"/>
<line x1="485.8" y1="60.06" x2="488.4" y2="60.06" stroke="#b2b2b2" stroke-width="1"/>
<line x1="486.8" y1="49.23" x2="488.4" y2="49.23" stroke="#b2b2b2" stroke-width="1"/>
<line x1="485.8" y1="38.4" x2="488.4" y2="38.4" stroke="#b2b2b2" stroke-width="1"/>
<line x1="486.8" y1="27.57" x2="488.4" y2="27.57" stroke="#b2b2b2" stroke-width="1"/>
<text x="484.2" y="150.5" font-size="10.7" text-anchor="end" font-weight="normal" fill="#1a1a1a" stroke="#1a1a1a" stroke-width="0.2">0</text>
<text x="484.2" y="128.84" font-size="10.7" text-anchor="end" font-weight="normal" fill="#1a1a1a" stroke="#1a1a1a" stroke-width="0.2">20</text>
<text x="484.2" y="107.18" font-size="10.7" text-anchor="end" font-weight="normal" fill="#1a1a1a" stroke="#1a1a1a" stroke-width="0.2">40</text>
<text x="484.2" y="85.52" font-size="10.7" text-anchor="end" font-weight="normal" fill="#1a1a1a" stroke="#1a1a1a" stroke-width="0.2">60</text>
<text x="484.2" y="63.86" font-size="10.7" text-anchor="end" font-weight="normal" fill="#1a1a1a" stroke="#1a1a1a" stroke-width="0.2">80</text>
<text x="484.2" y="42.2" font-size="10.7" text-anchor="end" font-weight="normal" fill="#1a1a1a" stroke="#1a1a1a" stroke-width="0.2">100</text>
<line x1="507.5" y1="147.6" x2="507.5" y2="150" stroke="#aaa" stroke-width="1"/>
<line x1="546.3" y1="147.6" x2="546.3" y2="150" stroke="#aaa" stroke-width="1"/>
<line x1="585.5" y1="147.6" x2="585.5" y2="150" stroke="#aaa" stroke-width="1"/>
<line x1="625.2" y1="147.6" x2="625.2" y2="150" stroke="#aaa" stroke-width="1"/>
<line x1="664.2" y1="147.6" x2="664.2" y2="150" stroke="#aaa" stroke-width="1"/>
<line x1="527" y1="147.6" x2="527" y2="149.2" stroke="#bbb" stroke-width="1"/>
<line x1="566" y1="147.6" x2="566" y2="149.2" stroke="#bbb" stroke-width="1"/>
<line x1="605" y1="147.6" x2="605" y2="149.2" stroke="#bbb" stroke-width="1"/>
<line x1="644.5" y1="147.6" x2="644.5" y2="149.2" stroke="#bbb" stroke-width="1"/>
<rect x="505.2" y="89.6" width="10.7" height="54.7" fill="#d4d4d4"/>
<rect x="515.9" y="90.0" width="1.5" height="54.3" fill="#8a8a8a"/>
<rect x="505.2" y="89.0" width="12.2" height="0.8" fill="#8a8a8a" opacity="0.5"/>
<rect x="543.0" y="73.4" width="10.3" height="71.3" fill="#94dcaa"/>
<rect x="553.3" y="73.80000000000001" width="1.7" height="70.9" fill="#5fae78"/>
<rect x="543.0" y="72.80000000000001" width="12" height="0.8" fill="#5fae78" opacity="0.5"/>
<rect x="581.1" y="50.6" width="11.1" height="94.3" fill="#5ea4ee"/>
<rect x="592.2" y="51.0" width="0.7" height="93.9" fill="#4a8ad6"/>
<rect x="581.1" y="50.0" width="11.8" height="0.8" fill="#4a8ad6" opacity="0.5"/>
<rect x="619.7" y="45.9" width="11.3" height="99.5" fill="#ff9f5c"/>
<rect x="631.0" y="46.3" width="0.6" height="99.1" fill="#e8874a"/>
<rect x="619.7" y="45.3" width="11.9" height="0.8" fill="#e8874a" opacity="0.5"/>
<rect x="657.3" y="42.8" width="11.6" height="102.9" fill="#f07479"/>
<rect x="668.9" y="43.199999999999996" width="0.5" height="102.5" fill="#d85a60"/>
<rect x="657.3" y="42.199999999999996" width="12.1" height="0.8" fill="#d85a60" opacity="0.5"/>
<text x="513.5" y="84.9" font-size="9.0" text-anchor="middle" font-weight="normal" fill="#333" stroke="#333" stroke-width="0.14">51.5%</text>
<text x="549.2" y="68.1" font-size="9.0" text-anchor="middle" font-weight="normal" fill="#333" stroke="#333" stroke-width="0.14">67.1%</text>
<text x="588.4" y="45.5" font-size="9.0" text-anchor="middle" font-weight="normal" fill="#333" stroke="#333" stroke-width="0.14">88.8%</text>
<text x="628" y="38.8" font-size="9.0" text-anchor="middle" font-weight="normal" fill="#333" stroke="#333" stroke-width="0.14">93.1%</text>
<text x="665" y="37.7" font-size="9.0" text-anchor="middle" font-weight="bold" fill="#ff2020">96.1%</text>
<text x="503.9" y="162" font-size="10.2" text-anchor="middle" font-weight="normal" fill="#1a1a1a" stroke="#1a1a1a" stroke-width="0.2">10000/1</text>
<text x="545.5" y="162" font-size="10.2" text-anchor="middle" font-weight="normal" fill="#1a1a1a" stroke="#1a1a1a" stroke-width="0.2">10000/3</text>
<text x="587.9" y="162" font-size="10.2" text-anchor="middle" font-weight="normal" fill="#1a1a1a" stroke="#1a1a1a" stroke-width="0.2">10000/5</text>
<text x="629.9" y="162" font-size="10.2" text-anchor="middle" font-weight="normal" fill="#1a1a1a" stroke="#1a1a1a" stroke-width="0.2">10000/7</text>
<text x="666.9" y="162" font-size="10.2" text-anchor="middle" font-weight="normal" fill="#1a1a1a" stroke="#1a1a1a" stroke-width="0.2">1000/1</text>
<text x="583.5" y="177.8" font-size="13.4" text-anchor="middle" font-weight="normal" fill="#1a1a1a" stroke="#1a1a1a" stroke-width="0.2">D/A Ratio</text>
<text transform="translate(460.6 109.6) rotate(-90)" font-size="13.2" fill="#1a1a1a" stroke="#1a1a1a" stroke-width="0.2">&#934;<tspan font-size="8" dy="2" font-weight="bold">ET</tspan><tspan dy="-2"> (%)</tspan></text>
<text x="437.6" y="14.3" font-size="19" text-anchor="start" font-weight="bold" fill="#1a1a1a">c</text>
<line x1="43.4" y1="210.6" x2="43.4" y2="334.8" stroke="#b2b2b2" stroke-width="1"/>
<line x1="42.9" y1="334.3" x2="212.4" y2="334.3" stroke="#b2b2b2" stroke-width="1"/>
<line x1="40.4" y1="321.6" x2="43.4" y2="321.6" stroke="#b2b2b2" stroke-width="1"/>
<line x1="41.6" y1="309.3" x2="43.4" y2="309.3" stroke="#b2b2b2" stroke-width="1"/>
<line x1="40.4" y1="297" x2="43.4" y2="297" stroke="#b2b2b2" stroke-width="1"/>
<line x1="41.6" y1="284.7" x2="43.4" y2="284.7" stroke="#b2b2b2" stroke-width="1"/>
<line x1="40.4" y1="272.4" x2="43.4" y2="272.4" stroke="#b2b2b2" stroke-width="1"/>
<line x1="41.6" y1="260.1" x2="43.4" y2="260.1" stroke="#b2b2b2" stroke-width="1"/>
<line x1="40.4" y1="247.8" x2="43.4" y2="247.8" stroke="#b2b2b2" stroke-width="1"/>
<line x1="41.6" y1="235.5" x2="43.4" y2="235.5" stroke="#b2b2b2" stroke-width="1"/>
<line x1="40.4" y1="223.2" x2="43.4" y2="223.2" stroke="#b2b2b2" stroke-width="1"/>
<line x1="41.6" y1="334" x2="43.4" y2="334" stroke="#b2b2b2" stroke-width="1"/>
<line x1="43.4" y1="334.3" x2="43.4" y2="337.3" stroke="#b2b2b2" stroke-width="1"/>
<line x1="71.53" y1="334.3" x2="71.53" y2="336.1" stroke="#b2b2b2" stroke-width="1"/>
<line x1="99.66" y1="334.3" x2="99.66" y2="337.3" stroke="#b2b2b2" stroke-width="1"/>
<line x1="127.8" y1="334.3" x2="127.8" y2="336.1" stroke="#b2b2b2" stroke-width="1"/>
<line x1="155.93" y1="334.3" x2="155.93" y2="337.3" stroke="#b2b2b2" stroke-width="1"/>
<line x1="184.06" y1="334.3" x2="184.06" y2="336.1" stroke="#b2b2b2" stroke-width="1"/>
<line x1="212.19" y1="334.3" x2="212.19" y2="337.3" stroke="#b2b2b2" stroke-width="1"/>
<text x="39.2" y="325.4" font-size="10.7" text-anchor="end" font-weight="normal" fill="#1a1a1a" stroke="#1a1a1a" stroke-width="0.2">0.0</text>
<text x="39.2" y="300.8" font-size="10.7" text-anchor="end" font-weight="normal" fill="#1a1a1a" stroke="#1a1a1a" stroke-width="0.2">5.0k</text>
<text x="39.2" y="276.2" font-size="10.7" text-anchor="end" font-weight="normal" fill="#1a1a1a" stroke="#1a1a1a" stroke-width="0.2">10.0k</text>
<text x="39.2" y="251.6" font-size="10.7" text-anchor="end" font-weight="normal" fill="#1a1a1a" stroke="#1a1a1a" stroke-width="0.2">15.0k</text>
<text x="39.2" y="227" font-size="10.7" text-anchor="end" font-weight="normal" fill="#1a1a1a" stroke="#1a1a1a" stroke-width="0.2">20.0k</text>
<text x="43.4" y="347" font-size="10.7" text-anchor="middle" font-weight="normal" fill="#1a1a1a" stroke="#1a1a1a" stroke-width="0.2">0</text>
<text x="99.66" y="347" font-size="10.7" text-anchor="middle" font-weight="normal" fill="#1a1a1a" stroke="#1a1a1a" stroke-width="0.2">50</text>
<text x="155.93" y="347" font-size="10.7" text-anchor="middle" font-weight="normal" fill="#1a1a1a" stroke="#1a1a1a" stroke-width="0.2">100</text>
<text x="212.19" y="347" font-size="10.7" text-anchor="middle" font-weight="normal" fill="#1a1a1a" stroke="#1a1a1a" stroke-width="0.2">150</text>
<text x="127.7" y="362.8" font-size="13.5" text-anchor="middle" font-weight="normal" fill="#1a1a1a" stroke="#1a1a1a" stroke-width="0.2">Time (ns)</text>
<text x="12" y="279.6" font-size="13.8" text-anchor="middle" font-weight="normal" fill="#1a1a1a" stroke="#1a1a1a" stroke-width="0.2" transform="rotate(-90 12 279.6)">Intensity (arb.units)</text>
<text x="2" y="197.2" font-size="19" text-anchor="start" font-weight="bold" fill="#1a1a1a">d</text>
<path d="M43.4,321.6 L212.19,321.6" stroke="#f5841f" stroke-width="2.1" fill="none"/>
<path d="M43.6,320.8h0M43.9,321.4h0M44.1,321.6h0M44.3,322.4h0M44.5,321.7h0M44.8,321.8h0M45.0,321.6h0M45.2,321.9h0M45.4,321.6h0M45.7,321.8h0M45.9,322.2h0M46.1,321.2h0M46.3,321.2h0M46.6,320.8h0M46.8,321.6h0M47.0,321.8h0M47.2,321.8h0M47.5,322.3h0M47.7,321.2h0M47.9,322.1h0M48.1,322.1h0M48.4,321.7h0M48.6,320.9h0M48.8,321.5h0M49.0,322.1h0M49.3,321.9h0M49.5,321.3h0M49.7,321.7h0M49.9,321.9h0M50.2,321.7h0M50.4,321.3h0M50.6,320.7h0M50.8,322.2h0M51.1,321.9h0M51.3,322.0h0M51.5,322.7h0M51.7,322.0h0M52.0,322.1h0M52.2,321.1h0M52.4,321.7h0M52.6,320.1h0M52.9,315.0h0M53.1,310.2h0M53.3,304.6h0M53.5,297.0h0M53.8,289.1h0M54.0,280.8h0M54.2,271.2h0M54.4,262.5h0M54.7,251.3h0M54.9,239.9h0M55.1,228.7h0M55.3,228.2h0M55.6,238.2h0M55.8,247.0h0M56.0,256.1h0M56.2,262.4h0M56.5,269.9h0M56.7,275.1h0M56.9,280.7h0M57.1,283.9h0M57.4,287.8h0M57.6,292.0h0M57.8,294.4h0M58.0,298.3h0M58.3,300.5h0M58.5,302.8h0M58.7,305.3h0M58.9,306.5h0M59.2,307.4h0M59.4,310.2h0M59.6,310.6h0M59.8,312.2h0M60.1,312.4h0M60.3,313.9h0M60.5,314.6h0M60.7,315.3h0M61.0,316.2h0M61.2,317.5h0M61.4,316.7h0M61.6,318.4h0M61.9,318.1h0M62.1,318.3h0M62.3,319.3h0M62.5,319.1h0M62.8,318.9h0M63.0,319.7h0M63.2,320.3h0M63.4,321.4h0M63.7,320.7h0M63.9,320.7h0M64.1,320.8h0M64.3,321.1h0M64.6,320.6h0M64.8,321.1h0M65.0,321.0h0M65.2,320.7h0M65.5,321.4h0M65.7,321.2h0M65.9,320.2h0M66.1,320.8h0M66.4,321.8h0M66.6,321.3h0M66.8,321.1h0M67.0,320.8h0M67.3,321.3h0M67.5,321.6h0M67.7,321.8h0M67.9,321.2h0M68.2,321.3h0M68.4,321.7h0M68.6,321.6h0M68.8,321.7h0M69.1,321.2h0M69.3,321.8h0M69.5,321.3h0M69.7,321.2h0M70.0,321.3h0M70.2,321.9h0M70.4,321.0h0M70.6,321.9h0M70.9,321.4h0M71.1,321.9h0M71.3,322.3h0M71.5,321.5h0M71.8,321.5h0M72.0,321.6h0M72.2,321.5h0M72.4,321.9h0M72.7,321.9h0M72.9,321.7h0M73.1,320.7h0M73.3,321.2h0M73.6,321.8h0M73.8,321.3h0M74.0,321.8h0M74.2,321.8h0M74.5,321.2h0M74.7,321.8h0M74.9,322.3h0M75.1,322.0h0M75.4,321.6h0M75.6,321.5h0M75.8,321.0h0M76.0,321.9h0M76.3,321.3h0M76.5,321.4h0M76.7,321.7h0M76.9,321.2h0M77.2,321.4h0M77.4,322.0h0M77.6,321.1h0M77.8,322.1h0M78.1,321.6h0M78.3,321.6h0M78.5,321.4h0M78.7,321.9h0M79.0,321.6h0M79.2,321.7h0M79.4,321.2h0M79.6,322.0h0M79.9,321.6h0M80.1,321.7h0M80.3,322.2h0M80.5,320.4h0M80.8,321.6h0M81.0,322.3h0M81.2,321.0h0M81.4,322.1h0M81.7,321.4h0M81.9,321.2h0M82.1,321.9h0M82.3,321.8h0M82.6,321.8h0M82.8,321.7h0M83.0,322.3h0M83.2,322.1h0M83.5,321.7h0M83.7,321.1h0M83.9,321.3h0M84.1,320.8h0M84.4,321.3h0M84.6,321.8h0M84.8,321.7h0M85.0,322.5h0M85.3,322.0h0M85.5,322.1h0M85.7,321.5h0M85.9,321.3h0M86.2,321.8h0M86.4,321.9h0M86.6,322.3h0M86.8,321.7h0M87.1,321.5h0M87.3,321.4h0M87.5,321.9h0M87.7,320.7h0M88.0,321.1h0M88.2,321.6h0M88.4,321.8h0M88.6,321.7h0M88.9,321.5h0M89.1,321.6h0M89.3,321.4h0M89.5,321.3h0M89.8,321.0h0M90.0,321.1h0M90.2,321.6h0M90.4,321.4h0M90.7,321.8h0M90.9,321.9h0M91.1,320.8h0M91.3,321.8h0M91.6,320.7h0M91.8,321.8h0M92.0,321.5h0M92.2,321.1h0M92.5,321.6h0M92.7,321.4h0M92.9,321.7h0M93.1,321.8h0M93.4,321.7h0M93.6,321.9h0M93.8,320.9h0M94.0,321.7h0M94.3,320.8h0M94.5,322.8h0M94.7,321.6h0M94.9,321.4h0M95.2,321.7h0M95.4,321.1h0M95.6,321.3h0M95.8,321.7h0M96.1,321.4h0M96.3,320.4h0M96.5,321.5h0M96.7,321.5h0M97.0,321.8h0M97.2,321.5h0M97.4,322.2h0M97.6,321.7h0M97.9,320.5h0M98.1,321.1h0M98.3,321.3h0M98.5,321.1h0M98.8,320.8h0M99.0,321.3h0M99.2,320.7h0M99.4,321.1h0M99.7,321.5h0M99.9,320.8h0M100.1,322.6h0M100.3,321.9h0M100.6,321.5h0M100.8,322.0h0M101.0,321.7h0M101.2,321.9h0M101.5,321.9h0M101.7,320.4h0M101.9,321.3h0M102.1,321.6h0M102.4,321.0h0M102.6,321.7h0M102.8,321.2h0M103.0,321.4h0M103.3,320.9h0M103.5,322.2h0M103.7,321.3h0M103.9,321.5h0M104.2,322.1h0M104.4,321.1h0M104.6,322.0h0M104.8,320.9h0M105.1,321.4h0M105.3,321.3h0M105.5,321.6h0M105.7,321.2h0M106.0,322.4h0M106.2,321.6h0M106.4,321.9h0M106.6,321.5h0M106.9,321.6h0M107.1,321.3h0M107.3,322.0h0M107.5,320.8h0M107.8,320.6h0M108.0,321.7h0M108.2,321.6h0M108.4,321.5h0M108.7,321.0h0M108.9,320.8h0M109.1,322.1h0M109.3,321.9h0M109.6,322.1h0M109.8,322.1h0M110.0,322.3h0M110.2,321.4h0M110.5,322.1h0M110.7,320.9h0M110.9,321.2h0M111.1,322.1h0M111.4,322.1h0M111.6,321.9h0M111.8,321.0h0M112.0,322.0h0M112.3,322.3h0M112.5,321.6h0M112.7,321.4h0M112.9,321.9h0M113.2,320.9h0M113.4,321.5h0M113.6,321.4h0M113.8,322.0h0M114.1,321.6h0M114.3,321.7h0M114.5,322.6h0M114.7,321.5h0M115.0,322.4h0M115.2,321.6h0M115.4,322.3h0M115.6,320.7h0M115.9,321.5h0M116.1,321.2h0M116.3,321.2h0M116.5,322.2h0M116.8,322.6h0M117.0,321.7h0M117.2,321.2h0M117.4,321.6h0M117.7,321.3h0M117.9,321.2h0M118.1,322.3h0M118.3,321.5h0M118.6,320.7h0M118.8,321.9h0M119.0,322.5h0M119.2,321.7h0M119.5,321.8h0M119.7,321.4h0M119.9,322.0h0M120.1,321.6h0M120.4,322.6h0M120.6,321.2h0M120.8,320.9h0M121.0,321.0h0M121.3,322.3h0M121.5,321.5h0M121.7,322.9h0M121.9,321.5h0M122.2,321.6h0M122.4,322.0h0M122.6,321.4h0M122.8,321.5h0M123.1,321.2h0M123.3,321.5h0M123.5,321.5h0M123.7,322.5h0M124.0,322.1h0M124.2,321.8h0M124.4,321.5h0M124.6,321.6h0M124.9,320.9h0M125.1,322.0h0M125.3,321.7h0M125.5,321.5h0M125.8,321.7h0M126.0,321.4h0M126.2,321.9h0M126.4,321.0h0M126.7,321.7h0M126.9,321.1h0M127.1,321.6h0M127.3,320.9h0M127.6,322.2h0M127.8,321.4h0M128.0,321.8h0M128.2,321.5h0M128.5,321.1h0M128.7,322.1h0M128.9,322.2h0M129.1,322.0h0M129.4,321.5h0M129.6,322.4h0M129.8,321.6h0M130.0,322.2h0M130.3,322.1h0M130.5,321.8h0M130.7,321.4h0M130.9,321.9h0M131.2,321.8h0M131.4,321.6h0M131.6,321.7h0M131.8,322.8h0M132.1,321.8h0M132.3,321.6h0M132.5,321.1h0M132.7,320.7h0M133.0,321.3h0M133.2,321.6h0M133.4,322.0h0M133.6,321.6h0M133.9,321.3h0M134.1,321.0h0M134.3,322.0h0M134.5,321.5h0M134.8,321.2h0M135.0,320.8h0M135.2,321.5h0M135.4,321.8h0M135.7,321.9h0M135.9,321.8h0M136.1,321.9h0M136.3,321.2h0M136.6,321.1h0M136.8,321.3h0M137.0,321.1h0M137.3,321.8h0M137.5,321.4h0M137.7,321.8h0M137.9,321.6h0M138.2,321.1h0M138.4,321.6h0M138.6,322.4h0M138.8,321.7h0M139.1,321.9h0M139.3,322.3h0M139.5,321.9h0M139.7,321.2h0M140.0,320.9h0M140.2,321.8h0M140.4,321.2h0M140.6,321.1h0M140.9,322.1h0M141.1,321.6h0M141.3,321.6h0M141.5,321.5h0M141.8,322.3h0M142.0,321.8h0M142.2,321.1h0M142.4,321.0h0M142.7,320.8h0M142.9,321.7h0M143.1,320.8h0M143.3,321.3h0M143.6,322.2h0M143.8,321.3h0M144.0,321.8h0M144.2,321.4h0M144.5,321.6h0M144.7,321.1h0M144.9,321.5h0M145.1,321.7h0M145.4,321.2h0M145.6,321.5h0M145.8,321.8h0M146.0,321.0h0M146.3,321.8h0M146.5,321.9h0M146.7,321.8h0M146.9,322.2h0M147.2,321.8h0M147.4,320.8h0M147.6,322.0h0M147.8,321.6h0M148.1,322.1h0M148.3,321.9h0M148.5,320.9h0M148.7,321.2h0M149.0,321.9h0M149.2,321.6h0M149.4,322.0h0M149.6,321.9h0M149.9,322.0h0M150.1,322.0h0M150.3,321.5h0M150.5,321.3h0M150.8,321.4h0M151.0,321.7h0M151.2,322.2h0M151.4,321.6h0M151.7,322.0h0M151.9,321.2h0M152.1,321.4h0M152.3,321.3h0M152.6,321.8h0M152.8,322.4h0M153.0,321.2h0M153.2,321.1h0M153.5,322.3h0M153.7,321.5h0M153.9,321.1h0M154.1,322.1h0M154.4,320.8h0M154.6,321.8h0M154.8,322.1h0M155.0,321.0h0M155.3,321.5h0M155.5,321.9h0M155.7,321.2h0M155.9,322.5h0M156.2,320.8h0M156.4,322.0h0M156.6,321.5h0M156.8,321.8h0M157.1,321.4h0M157.3,321.2h0M157.5,322.0h0M157.7,321.3h0M158.0,321.7h0M158.2,321.9h0M158.4,321.7h0M158.6,322.0h0M158.9,322.0h0M159.1,321.2h0M159.3,321.7h0M159.5,321.1h0M159.8,321.4h0M160.0,322.1h0M160.2,322.4h0M160.4,321.9h0M160.7,321.5h0M160.9,321.6h0M161.1,322.0h0M161.3,321.2h0M161.6,322.4h0M161.8,322.2h0M162.0,321.5h0M162.2,320.6h0M162.5,321.4h0M162.7,322.0h0M162.9,321.3h0M163.1,321.3h0M163.4,321.2h0M163.6,321.8h0M163.8,322.0h0M164.0,321.5h0M164.3,321.4h0M164.5,320.9h0M164.7,320.7h0M164.9,321.9h0M165.2,321.8h0M165.4,321.6h0M165.6,321.7h0M165.8,321.4h0M166.1,321.4h0M166.3,321.5h0M166.5,321.0h0M166.7,321.7h0M167.0,322.1h0M167.2,322.3h0M167.4,322.1h0M167.6,322.1h0M167.9,322.4h0M168.1,321.3h0M168.3,321.5h0M168.5,321.8h0M168.8,322.0h0M169.0,322.3h0M169.2,322.0h0M169.4,320.8h0M169.7,322.6h0M169.9,321.5h0M170.1,321.3h0M170.3,321.5h0M170.6,321.7h0M170.8,321.3h0M171.0,322.1h0M171.2,321.4h0M171.5,321.0h0M171.7,322.1h0M171.9,322.0h0M172.1,321.5h0M172.4,321.2h0M172.6,321.0h0M172.8,321.3h0M173.0,321.9h0M173.3,322.1h0M173.5,321.5h0M173.7,321.4h0M173.9,322.1h0M174.2,321.6h0M174.4,321.5h0M174.6,321.1h0M174.8,322.0h0M175.1,321.4h0M175.3,322.1h0M175.5,321.8h0M175.7,321.6h0M176.0,320.9h0M176.2,320.1h0M176.4,321.5h0M176.6,321.4h0M176.9,321.2h0M177.1,322.2h0M177.3,321.3h0M177.5,322.1h0M177.8,320.9h0M178.0,321.0h0M178.2,321.4h0M178.4,322.0h0M178.7,320.9h0M178.9,321.5h0M179.1,321.6h0M179.3,321.3h0M179.6,322.4h0M179.8,321.4h0M180.0,321.2h0M180.2,321.4h0M180.5,321.5h0M180.7,322.0h0M180.9,321.3h0M181.1,321.5h0M181.4,321.6h0M181.6,321.8h0M181.8,321.2h0M182.0,321.0h0M182.3,321.4h0M182.5,321.2h0M182.7,321.0h0M182.9,320.9h0M183.2,321.5h0M183.4,321.7h0M183.6,321.8h0M183.8,321.6h0M184.1,321.4h0M184.3,321.2h0M184.5,321.8h0M184.7,321.5h0M185.0,322.0h0M185.2,321.0h0M185.4,321.8h0M185.6,321.4h0M185.9,321.9h0M186.1,321.7h0M186.3,321.9h0M186.5,320.8h0M186.8,321.4h0M187.0,321.7h0M187.2,322.0h0M187.4,321.9h0M187.7,321.3h0M187.9,320.9h0M188.1,322.2h0M188.3,322.0h0M188.6,321.7h0M188.8,321.9h0M189.0,322.3h0M189.2,321.6h0M189.5,321.3h0M189.7,322.3h0M189.9,321.5h0M190.1,321.2h0M190.4,321.2h0M190.6,321.8h0M190.8,320.6h0M191.0,321.4h0M191.3,322.0h0M191.5,321.2h0M191.7,322.1h0M191.9,321.2h0M192.2,322.2h0M192.4,321.2h0M192.6,321.9h0M192.8,321.1h0M193.1,321.3h0M193.3,321.4h0M193.5,321.6h0M193.7,321.1h0M194.0,322.4h0M194.2,321.4h0M194.4,321.4h0M194.6,321.4h0M194.9,321.2h0M195.1,320.0h0M195.3,321.5h0M195.5,321.2h0M195.8,321.5h0M196.0,320.9h0M196.2,322.5h0M196.4,320.8h0M196.7,321.9h0M196.9,322.6h0M197.1,322.1h0M197.3,321.7h0M197.6,321.5h0M197.8,321.6h0M198.0,321.2h0M198.2,321.6h0M198.5,321.6h0M198.7,322.5h0M198.9,321.4h0M199.1,321.2h0M199.4,321.8h0M199.6,322.4h0M199.8,322.2h0M200.0,320.9h0M200.3,321.9h0M200.5,321.9h0M200.7,322.0h0M200.9,321.3h0M201.2,321.9h0M201.4,322.0h0M201.6,322.3h0M201.8,321.6h0M202.1,321.2h0M202.3,321.7h0M202.5,321.2h0M202.7,321.5h0M203.0,321.5h0M203.2,321.5h0M203.4,321.6h0M203.6,321.1h0M203.9,321.4h0M204.1,321.9h0M204.3,321.5h0M204.5,321.6h0M204.8,321.4h0M205.0,321.5h0M205.2,321.4h0M205.4,322.3h0M205.7,321.4h0M205.9,321.0h0M206.1,322.2h0M206.3,320.9h0M206.6,321.5h0M206.8,321.7h0M207.0,322.4h0M207.2,321.1h0M207.5,322.0h0M207.7,321.8h0M207.9,321.4h0M208.1,322.1h0M208.4,322.0h0M208.6,322.1h0M208.8,321.6h0M209.0,321.3h0M209.3,321.4h0M209.5,321.4h0M209.7,321.8h0M209.9,321.5h0M210.2,321.9h0M210.4,320.7h0M210.6,321.5h0M210.8,322.5h0M211.1,322.1h0M211.3,320.9h0M211.5,322.2h0M211.7,321.8h0M212.0,321.4h0M212.2,322.1h0" stroke="#f5841f" stroke-width="1.6" stroke-linecap="round" fill="none"/>
<path d="M56.2,236h0M56.8,246h0M57.2,256h0M57.9,270h0M58.2,276h0M58.7,288h0M59.2,300h0M60.0,309h0M60.6,312h0M61.6,317h0M62.5,318.5h0M63.5,319.5h0M52.5,316.6h0M53.0,311.3h0M53.5,298.9h0M54.0,283.9h0M54.0,269.7h0M55.0,250.0h0M55.4,241.1h0M55.8,254.5h0M55.6,229.2h0M55.1,223.2h0M55.6,225.5h0M57.5,261.8h0M58.4,281.2h0M58.9,295.4h0M59.6,306.9h0M61.0,315.8h0M56.6,244h0M57.0,252h0" stroke="#f5841f" stroke-width="2.2" stroke-linecap="round" fill="none"/>
<path d="M55.78,230.48 L56,231.18 L56.23,231.88 L56.45,232.57 L56.68,233.25 L56.9,233.93 L57.13,234.6 L57.35,235.26 L57.58,235.92 L57.8,236.57 L58.03,237.21 L58.25,237.85 L58.48,238.48 L58.7,239.11 L58.93,239.72 L59.15,240.34 L59.38,240.95 L59.6,241.55 L59.83,242.14 L60.05,242.73 L60.28,243.32 L60.5,243.9 L60.73,244.47 L60.95,245.04 L61.18,245.6 L61.4,246.16 L61.63,246.71 L61.85,247.26 L62.08,247.8 L62.31,248.34 L62.53,248.87 L62.76,249.4 L62.98,249.92 L63.21,250.43 L63.43,250.95 L63.66,251.45 L63.88,251.96 L64.11,252.45 L64.33,252.95 L64.56,253.44 L64.78,253.92 L65.01,254.4 L65.23,254.88 L65.46,255.35 L65.68,255.82 L65.91,256.28 L66.13,256.74 L66.36,257.19 L66.58,257.64 L66.81,258.09 L67.03,258.53 L67.26,258.97 L67.48,259.4 L67.71,259.83 L67.93,260.26 L68.16,260.68 L68.38,261.1 L68.61,261.52 L68.83,261.93 L69.06,262.33 L69.28,262.74 L69.51,263.14 L69.73,263.54 L69.96,263.93 L70.18,264.32 L70.41,264.71 L70.63,265.09 L70.86,265.47 L71.08,265.85 L71.31,266.22 L71.53,266.59 L71.76,266.96 L71.98,267.32 L72.21,267.68 L72.43,268.04 L72.66,268.4 L72.88,268.75 L73.11,269.1 L73.33,269.44 L73.56,269.78 L73.78,270.12 L74.01,270.46 L74.23,270.8 L74.46,271.13 L74.68,271.46 L74.91,271.78 L75.13,272.1 L75.36,272.42 L75.58,272.74 L75.81,273.06 L76.03,273.37 L76.26,273.68 L76.48,273.99 L76.71,274.29 L76.93,274.59 L77.16,274.89 L77.38,275.19 L77.61,275.49 L77.83,275.78 L78.06,276.07 L78.28,276.36 L78.51,276.64 L78.73,276.93 L78.96,277.21 L79.18,277.48 L79.41,277.76 L79.63,278.03 L79.86,278.31 L80.08,278.58 L80.31,278.84 L80.53,279.11 L80.76,279.37 L80.99,279.63 L81.21,279.89 L81.44,280.15 L81.66,280.41 L81.89,280.66 L82.11,280.91 L82.34,281.16 L82.56,281.41 L82.79,281.65 L83.01,281.9 L83.24,282.14 L83.46,282.38 L83.69,282.61 L83.91,282.85 L84.14,283.09 L84.36,283.32 L84.59,283.55 L84.81,283.78 L85.04,284 L85.26,284.23 L85.49,284.45 L85.71,284.68 L85.94,284.9 L86.16,285.11 L86.39,285.33 L86.61,285.55 L86.84,285.76 L87.06,285.97 L87.29,286.18 L87.51,286.39 L87.74,286.6 L87.96,286.81 L88.19,287.01 L88.41,287.21 L88.64,287.42 L88.86,287.62 L89.09,287.81 L89.31,288.01 L89.54,288.21 L89.76,288.4 L89.99,288.59 L90.21,288.78 L90.44,288.97 L90.66,289.16 L90.89,289.35 L91.11,289.54 L91.34,289.72 L91.56,289.9 L91.79,290.09 L92.01,290.27 L92.24,290.45 L92.46,290.62 L92.69,290.8 L92.91,290.98 L93.14,291.15 L93.36,291.32 L93.59,291.5 L93.81,291.67 L94.04,291.84 L94.26,292.01 L94.49,292.17 L94.71,292.34 L94.94,292.5 L95.16,292.67 L95.39,292.83 L95.61,292.99 L95.84,293.15 L96.06,293.31 L96.29,293.47 L96.51,293.63 L96.74,293.78 L96.96,293.94 L97.19,294.09 L97.41,294.24 L97.64,294.4 L97.86,294.55 L98.09,294.7 L98.31,294.85 L98.54,294.99 L98.76,295.14 L98.99,295.29 L99.21,295.43 L99.44,295.57 L99.66,295.72 L99.89,295.86 L100.12,296 L100.34,296.14 L100.57,296.28 L100.79,296.42 L101.02,296.56 L101.24,296.69 L101.47,296.83 L101.69,296.96 L101.92,297.1 L102.14,297.23 L102.37,297.36 L102.59,297.49 L102.82,297.62 L103.04,297.75 L103.27,297.88 L103.49,298.01 L103.72,298.14 L103.94,298.26 L104.17,298.39 L104.39,298.51 L104.62,298.64 L104.84,298.76 L105.07,298.88 L105.29,299 L105.52,299.12 L105.74,299.24 L105.97,299.36 L106.19,299.48 L106.42,299.6 L106.64,299.71 L106.87,299.83 L107.09,299.95 L107.32,300.06 L107.54,300.18 L107.77,300.29 L107.99,300.4 L108.22,300.51 L108.44,300.62 L108.67,300.73 L108.89,300.84 L109.12,300.95 L109.34,301.06 L109.57,301.17 L109.79,301.28 L110.02,301.38 L110.24,301.49 L110.47,301.6 L110.69,301.7 L110.92,301.8 L111.14,301.91 L111.37,302.01 L111.59,302.11 L111.82,302.21 L112.04,302.31 L112.27,302.41 L112.49,302.51 L112.72,302.61 L112.94,302.71 L113.17,302.81 L113.39,302.91 L113.62,303 L113.84,303.1 L114.07,303.2 L114.29,303.29 L114.52,303.38 L114.74,303.48 L114.97,303.57 L115.19,303.66 L115.42,303.76 L115.64,303.85 L115.87,303.94 L116.09,304.03 L116.32,304.12 L116.54,304.21 L116.77,304.3 L116.99,304.39 L117.22,304.48 L117.44,304.56 L117.67,304.65 L117.89,304.74 L118.12,304.82 L118.34,304.91 L118.57,304.99 L118.8,305.08 L119.02,305.16 L119.25,305.24 L119.47,305.33 L119.7,305.41 L119.92,305.49 L120.15,305.57 L120.37,305.66 L120.6,305.74 L120.82,305.82 L121.05,305.9 L121.27,305.98 L121.5,306.05 L121.72,306.13 L121.95,306.21 L122.17,306.29 L122.4,306.37 L122.62,306.44 L122.85,306.52 L123.07,306.59 L123.3,306.67 L123.52,306.74 L123.75,306.82 L123.97,306.89 L124.2,306.97 L124.42,307.04 L124.65,307.11 L124.87,307.19 L125.1,307.26 L125.32,307.33 L125.55,307.4 L125.77,307.47 L126,307.54 L126.22,307.61 L126.45,307.68 L126.67,307.75 L126.9,307.82 L127.12,307.89 L127.35,307.96 L127.57,308.03 L127.8,308.09 L128.02,308.16 L128.25,308.23 L128.47,308.29 L128.7,308.36 L128.92,308.42 L129.15,308.49 L129.37,308.55 L129.6,308.62 L129.82,308.68 L130.05,308.75 L130.27,308.81 L130.5,308.87 L130.72,308.94 L130.95,309 L131.17,309.06 L131.4,309.12 L131.62,309.19 L131.85,309.25 L132.07,309.31 L132.3,309.37 L132.52,309.43 L132.75,309.49 L132.97,309.55 L133.2,309.61 L133.42,309.67 L133.65,309.72 L133.87,309.78 L134.1,309.84 L134.32,309.9 L134.55,309.96 L134.77,310.01 L135,310.07 L135.22,310.13 L135.45,310.18 L135.67,310.24 L135.9,310.29 L136.12,310.35 L136.35,310.4 L136.57,310.46 L136.8,310.51 L137.02,310.57 L137.25,310.62 L137.48,310.67 L137.7,310.73 L137.93,310.78 L138.15,310.83 L138.38,310.89 L138.6,310.94 L138.83,310.99 L139.05,311.04 L139.28,311.09 L139.5,311.14 L139.73,311.2 L139.95,311.25 L140.18,311.3 L140.4,311.35 L140.63,311.4 L140.85,311.45 L141.08,311.49 L141.3,311.54 L141.53,311.59 L141.75,311.64 L141.98,311.69 L142.2,311.74 L142.43,311.79 L142.65,311.83 L142.88,311.88 L143.1,311.93 L143.33,311.97 L143.55,312.02 L143.78,312.07 L144,312.11 L144.23,312.16 L144.45,312.2 L144.68,312.25 L144.9,312.3 L145.13,312.34 L145.35,312.38 L145.58,312.43 L145.8,312.47 L146.03,312.52 L146.25,312.56 L146.48,312.6 L146.7,312.65 L146.93,312.69 L147.15,312.73 L147.38,312.78 L147.6,312.82 L147.83,312.86 L148.05,312.9 L148.28,312.95 L148.5,312.99 L148.73,313.03 L148.95,313.07 L149.18,313.11 L149.4,313.15 L149.63,313.19 L149.85,313.23 L150.08,313.27 L150.3,313.31 L150.53,313.35 L150.75,313.39 L150.98,313.43 L151.2,313.47 L151.43,313.51 L151.65,313.55 L151.88,313.59 L152.1,313.63 L152.33,313.66 L152.55,313.7 L152.78,313.74 L153,313.78 L153.23,313.81 L153.45,313.85 L153.68,313.89 L153.9,313.93 L154.13,313.96 L154.35,314 L154.58,314.04 L154.8,314.07 L155.03,314.11 L155.25,314.14 L155.48,314.18 L155.7,314.21 L155.93,314.25 L156.16,314.28 L156.38,314.32 L156.61,314.35 L156.83,314.39 L157.06,314.42 L157.28,314.46 L157.51,314.49 L157.73,314.53 L157.96,314.56 L158.18,314.59 L158.41,314.63 L158.63,314.66 L158.86,314.69 L159.08,314.73 L159.31,314.76 L159.53,314.79 L159.76,314.82 L159.98,314.86 L160.21,314.89 L160.43,314.92 L160.66,314.95 L160.88,314.98 L161.11,315.01 L161.33,315.05 L161.56,315.08 L161.78,315.11 L162.01,315.14 L162.23,315.17 L162.46,315.2 L162.68,315.23 L162.91,315.26 L163.13,315.29 L163.36,315.32 L163.58,315.35 L163.81,315.38 L164.03,315.41 L164.26,315.44 L164.48,315.47 L164.71,315.5 L164.93,315.53 L165.16,315.55 L165.38,315.58 L165.61,315.61 L165.83,315.64 L166.06,315.67 L166.28,315.7 L166.51,315.72 L166.73,315.75 L166.96,315.78 L167.18,315.81 L167.41,315.84 L167.63,315.86 L167.86,315.89 L168.08,315.92 L168.31,315.94 L168.53,315.97 L168.76,316 L168.98,316.02 L169.21,316.05 L169.43,316.08 L169.66,316.1 L169.88,316.13 L170.11,316.15 L170.33,316.18 L170.56,316.21 L170.78,316.23 L171.01,316.26 L171.23,316.28 L171.46,316.31 L171.68,316.33 L171.91,316.36 L172.13,316.38 L172.36,316.41 L172.58,316.43 L172.81,316.46 L173.03,316.48 L173.26,316.5 L173.48,316.53 L173.71,316.55 L173.93,316.58 L174.16,316.6 L174.38,316.62 L174.61,316.65 L174.84,316.67 L175.06,316.69 L175.29,316.72 L175.51,316.74 L175.74,316.76 L175.96,316.79 L176.19,316.81 L176.41,316.83 L176.64,316.85 L176.86,316.88 L177.09,316.9 L177.31,316.92 L177.54,316.94 L177.76,316.96 L177.99,316.99 L178.21,317.01 L178.44,317.03 L178.66,317.05 L178.89,317.07 L179.11,317.09 L179.34,317.11 L179.56,317.14 L179.79,317.16 L180.01,317.18 L180.24,317.2 L180.46,317.22 L180.69,317.24 L180.91,317.26 L181.14,317.28 L181.36,317.3 L181.59,317.32 L181.81,317.34 L182.04,317.36 L182.26,317.38 L182.49,317.4 L182.71,317.42 L182.94,317.44 L183.16,317.46 L183.39,317.48 L183.61,317.5 L183.84,317.52 L184.06,317.54 L184.29,317.56 L184.51,317.58 L184.74,317.6 L184.96,317.61 L185.19,317.63 L185.41,317.65 L185.64,317.67 L185.86,317.69 L186.09,317.71 L186.31,317.73 L186.54,317.74 L186.76,317.76 L186.99,317.78 L187.21,317.8 L187.44,317.82 L187.66,317.83 L187.89,317.85 L188.11,317.87 L188.34,317.89 L188.56,317.9 L188.79,317.92 L189.01,317.94 L189.24,317.96 L189.46,317.97 L189.69,317.99 L189.91,318.01 L190.14,318.02 L190.36,318.04 L190.59,318.06 L190.81,318.07 L191.04,318.09 L191.26,318.11 L191.49,318.12 L191.71,318.14 L191.94,318.16 L192.16,318.17 L192.39,318.19 L192.61,318.2 L192.84,318.22 L193.06,318.24 L193.29,318.25 L193.52,318.27 L193.74,318.28 L193.97,318.3 L194.19,318.31 L194.42,318.33 L194.64,318.34 L194.87,318.36 L195.09,318.38 L195.32,318.39 L195.54,318.41 L195.77,318.42 L195.99,318.44 L196.22,318.45 L196.44,318.46 L196.67,318.48 L196.89,318.49 L197.12,318.51 L197.34,318.52 L197.57,318.54 L197.79,318.55 L198.02,318.57 L198.24,318.58 L198.47,318.59 L198.69,318.61 L198.92,318.62 L199.14,318.64 L199.37,318.65 L199.59,318.66 L199.82,318.68 L200.04,318.69 L200.27,318.71 L200.49,318.72 L200.72,318.73 L200.94,318.75 L201.17,318.76 L201.39,318.77 L201.62,318.79 L201.84,318.8 L202.07,318.81 L202.29,318.83 L202.52,318.84 L202.74,318.85 L202.97,318.86 L203.19,318.88 L203.42,318.89 L203.64,318.9 L203.87,318.92 L204.09,318.93 L204.32,318.94 L204.54,318.95 L204.77,318.97 L204.99,318.98 L205.22,318.99 L205.44,319 L205.67,319.01 L205.89,319.03 L206.12,319.04 L206.34,319.05 L206.57,319.06 L206.79,319.07 L207.02,319.09 L207.24,319.1 L207.47,319.11 L207.69,319.12 L207.92,319.13 L208.14,319.14 L208.37,319.16 L208.59,319.17 L208.82,319.18 L209.04,319.19 L209.27,319.2 L209.49,319.21 L209.72,319.22 L209.94,319.23 L210.17,319.25 L210.39,319.26 L210.62,319.27 L210.84,319.28 L211.07,319.29 L211.29,319.3 L211.52,319.31 L211.74,319.32 L211.97,319.33 L212.19,319.34" fill="none" stroke="#1ea0f0" stroke-width="2.6" stroke-linejoin="round"/>
<path d="M55.0,223.2h0M55.3,225.5h0M55.6,227.5h0M54.3,272.4h0M54.3,286.9h0M54.3,301.6h0M55.2,241.0h0M55.2,255.3h0M55.5,230.0h0" stroke="#1ea0f0" stroke-width="2.0" stroke-linecap="round" fill="none"/>
<circle cx="107.2" cy="228.2" r="1.2" fill="#1ea0f0"/>
<circle cx="107.2" cy="261.9" r="1.2" fill="#f5841f"/>
<text x="116.6" y="231.0" font-size="8.3" fill="#1a1a1a" stroke="#1a1a1a" stroke-width="0.14">(<tspan font-style="italic">R</tspan>,<tspan font-style="italic">R</tspan>)-NU</text>
<text x="117.0" y="243.0" font-size="8.3" fill="#1a1a1a" stroke="#1a1a1a" stroke-width="0.14">&#964;<tspan font-size="5.5" dy="1.8">D</tspan><tspan dy="-1.8">=29.8 ns</tspan></text>
<text x="116.6" y="264.2" font-size="8.3" fill="#1a1a1a" stroke="#1a1a1a" stroke-width="0.14">(<tspan font-style="italic">R</tspan>,<tspan font-style="italic">R</tspan>)-NU/CBS=1000/1</text>
<text x="117.0" y="276.3" font-size="8.3" fill="#1a1a1a" stroke="#1a1a1a" stroke-width="0.14">&#964;<tspan font-size="5.5" dy="1.8">D</tspan><tspan dy="-1.8">=2.3&#160;&#160;ns</tspan></text>
<rect x="263.2" y="211.4" width="168" height="122.6" fill="none" stroke="#bababa" stroke-width="1"/>
<line x1="263.2" y1="273.1" x2="431.2" y2="273.1" stroke="#b0b0b0" stroke-width="1"/>
<line x1="260.2" y1="266.5" x2="263.2" y2="266.5" stroke="#b2b2b2" stroke-width="1"/>
<line x1="261.4" y1="254.45" x2="263.2" y2="254.45" stroke="#b2b2b2" stroke-width="1"/>
<line x1="260.2" y1="242.4" x2="263.2" y2="242.4" stroke="#b2b2b2" stroke-width="1"/>
<line x1="261.4" y1="230.35" x2="263.2" y2="230.35" stroke="#b2b2b2" stroke-width="1"/>
<line x1="260.2" y1="218.3" x2="263.2" y2="218.3" stroke="#b2b2b2" stroke-width="1"/>
<line x1="261.4" y1="334.8" x2="263.2" y2="334.8" stroke="#b2b2b2" stroke-width="1"/>
<line x1="260.2" y1="325.9" x2="263.2" y2="325.9" stroke="#b2b2b2" stroke-width="1"/>
<line x1="261.4" y1="317" x2="263.2" y2="317" stroke="#b2b2b2" stroke-width="1"/>
<line x1="260.2" y1="308.1" x2="263.2" y2="308.1" stroke="#b2b2b2" stroke-width="1"/>
<line x1="261.4" y1="299.2" x2="263.2" y2="299.2" stroke="#b2b2b2" stroke-width="1"/>
<line x1="260.2" y1="290.3" x2="263.2" y2="290.3" stroke="#b2b2b2" stroke-width="1"/>
<line x1="261.4" y1="281.4" x2="263.2" y2="281.4" stroke="#b2b2b2" stroke-width="1"/>
<line x1="263.2" y1="334" x2="263.2" y2="337" stroke="#b2b2b2" stroke-width="1"/>
<line x1="277.21" y1="334" x2="277.21" y2="335.8" stroke="#b2b2b2" stroke-width="1"/>
<line x1="291.21" y1="334" x2="291.21" y2="337" stroke="#b2b2b2" stroke-width="1"/>
<line x1="305.22" y1="334" x2="305.22" y2="335.8" stroke="#b2b2b2" stroke-width="1"/>
<line x1="319.23" y1="334" x2="319.23" y2="337" stroke="#b2b2b2" stroke-width="1"/>
<line x1="333.24" y1="334" x2="333.24" y2="335.8" stroke="#b2b2b2" stroke-width="1"/>
<line x1="347.25" y1="334" x2="347.25" y2="337" stroke="#b2b2b2" stroke-width="1"/>
<line x1="361.25" y1="334" x2="361.25" y2="335.8" stroke="#b2b2b2" stroke-width="1"/>
<line x1="375.26" y1="334" x2="375.26" y2="337" stroke="#b2b2b2" stroke-width="1"/>
<line x1="389.27" y1="334" x2="389.27" y2="335.8" stroke="#b2b2b2" stroke-width="1"/>
<line x1="403.27" y1="334" x2="403.27" y2="337" stroke="#b2b2b2" stroke-width="1"/>
<line x1="417.28" y1="334" x2="417.28" y2="335.8" stroke="#b2b2b2" stroke-width="1"/>
<line x1="431.29" y1="334" x2="431.29" y2="337" stroke="#b2b2b2" stroke-width="1"/>
<text x="259" y="222.1" font-size="10.7" text-anchor="end" font-weight="normal" fill="#1a1a1a" stroke="#1a1a1a" stroke-width="0.2">20</text>
<text x="259" y="246.2" font-size="10.7" text-anchor="end" font-weight="normal" fill="#1a1a1a" stroke="#1a1a1a" stroke-width="0.2">0</text>
<text x="259" y="270.3" font-size="10.7" text-anchor="end" font-weight="normal" fill="#1a1a1a" stroke="#1a1a1a" stroke-width="0.2">-20</text>
<text x="259" y="294.1" font-size="10.7" text-anchor="end" font-weight="normal" fill="#1a1a1a" stroke="#1a1a1a" stroke-width="0.2">1.0</text>
<text x="259" y="311.9" font-size="10.7" text-anchor="end" font-weight="normal" fill="#1a1a1a" stroke="#1a1a1a" stroke-width="0.2">0.5</text>
<text x="259" y="329.7" font-size="10.7" text-anchor="end" font-weight="normal" fill="#1a1a1a" stroke="#1a1a1a" stroke-width="0.2">0.0</text>
<text x="291.21" y="347.5" font-size="10.7" text-anchor="middle" font-weight="normal" fill="#1a1a1a" stroke="#1a1a1a" stroke-width="0.2">300</text>
<text x="319.23" y="347.5" font-size="10.7" text-anchor="middle" font-weight="normal" fill="#1a1a1a" stroke="#1a1a1a" stroke-width="0.2">350</text>
<text x="347.25" y="347.5" font-size="10.7" text-anchor="middle" font-weight="normal" fill="#1a1a1a" stroke="#1a1a1a" stroke-width="0.2">400</text>
<text x="375.26" y="347.5" font-size="10.7" text-anchor="middle" font-weight="normal" fill="#1a1a1a" stroke="#1a1a1a" stroke-width="0.2">450</text>
<text x="403.27" y="347.5" font-size="10.7" text-anchor="middle" font-weight="normal" fill="#1a1a1a" stroke="#1a1a1a" stroke-width="0.2">500</text>
<text x="431.29" y="347.5" font-size="10.7" text-anchor="middle" font-weight="normal" fill="#1a1a1a" stroke="#1a1a1a" stroke-width="0.2">550</text>
<text x="347" y="364" font-size="12.2" text-anchor="middle" font-weight="normal" fill="#1a1a1a" stroke="#1a1a1a" stroke-width="0.2">Wavelength (nm)</text>
<text x="229.8" y="247.4" font-size="12.4" text-anchor="middle" font-weight="normal" fill="#1a1a1a" stroke="#1a1a1a" stroke-width="0.2" transform="rotate(-90 229.8 247.4)">CD (mdeg)</text>
<text x="229.8" y="309.6" font-size="12.4" text-anchor="middle" font-weight="normal" fill="#1a1a1a" stroke="#1a1a1a" stroke-width="0.2" transform="rotate(-90 229.8 309.6)">Abs</text>
<text x="235.9" y="197.2" font-size="19" text-anchor="start" font-weight="bold" fill="#1a1a1a">e</text>
<line x1="263.7" y1="242.4" x2="430.7" y2="242.4" stroke="#808080" stroke-width="1.1" stroke-dasharray="3.2,2.2"/>
<path d="M263.2,246.94 L263.83,246.77 L264.46,246.57 L265.09,246.37 L265.72,246.16 L266.36,245.96 L266.99,245.76 L267.62,245.55 L268.25,245.34 L268.88,245.11 L269.51,244.88 L270.14,244.65 L270.77,244.44 L271.4,244.26 L272.04,244.12 L272.67,244 L273.3,243.89 L273.93,243.79 L274.56,243.69 L275.19,243.61 L275.82,243.55 L276.45,243.51 L277.08,243.49 L277.72,243.48 L278.35,243.48 L278.98,243.48 L279.61,243.48 L280.24,243.48 L280.87,243.48 L281.5,243.48 L282.13,243.48 L282.76,243.49 L283.4,243.5 L284.03,243.54 L284.66,243.6 L285.29,243.68 L285.92,243.77 L286.55,243.86 L287.18,243.95 L287.81,244.06 L288.45,244.2 L289.08,244.35 L289.71,244.47 L290.34,244.55 L290.97,244.56 L291.6,244.51 L292.23,244.43 L292.86,244.32 L293.49,244.12 L293.91,243.91 L294.34,243.66 L294.76,243.38 L295.18,243.09 L295.6,242.77 L296.02,242.41 L296.44,242 L296.86,241.55 L297.28,241.05 L297.7,240.47 L298.12,239.78 L298.54,239.01 L298.75,238.6 L298.96,238.18 L299.17,237.76 L299.38,237.33 L299.59,236.91 L299.81,236.5 L300.02,236.09 L300.23,235.69 L300.44,235.29 L300.65,234.88 L300.86,234.47 L301.07,234.06 L301.28,233.64 L301.49,233.23 L301.7,232.82 L301.91,232.41 L302.12,232.02 L302.54,231.26 L302.96,230.58 L303.38,229.97 L303.8,229.44 L304.22,228.95 L304.64,228.48 L305.06,228.06 L305.49,227.7 L305.91,227.43 L306.33,227.24 L306.96,227.07 L307.59,226.95 L308.22,226.88 L308.85,226.91 L309.48,227.14 L309.9,227.39 L310.32,227.7 L310.74,228.03 L311.17,228.37 L311.59,228.72 L312.01,229.12 L312.43,229.58 L312.85,230.08 L313.27,230.6 L313.69,231.11 L314.11,231.61 L314.53,232.07 L314.95,232.46 L315.37,232.79 L315.79,233.08 L316.21,233.36 L316.64,233.63 L317.06,233.89 L317.48,234.12 L317.9,234.34 L318.32,234.53 L318.95,234.75 L319.58,234.89 L320.21,234.97 L320.84,235.02 L321.47,235.06 L322.11,235.1 L322.74,235.13 L323.37,235.15 L324,235.17 L324.63,235.15 L325.26,235.06 L325.89,234.87 L326.52,234.59 L326.94,234.36 L327.36,234.12 L327.79,233.86 L328.21,233.59 L328.63,233.32 L329.05,233.03 L329.47,232.69 L329.89,232.32 L330.31,231.9 L330.73,231.45 L331.15,230.97 L331.57,230.48 L331.99,229.99 L332.41,229.49 L332.83,229 L333.26,228.52 L333.68,228.04 L334.1,227.54 L334.52,227.02 L334.94,226.5 L335.36,225.98 L335.78,225.46 L336.2,224.96 L336.62,224.48 L337.04,224.02 L337.46,223.61 L337.88,223.21 L338.3,222.82 L338.72,222.41 L339.15,222.02 L339.57,221.67 L339.99,221.37 L340.41,221.14 L341.04,220.98 L341.67,220.95 L342.3,220.95 L342.93,220.95 L343.56,221.05 L343.98,221.27 L344.4,221.65 L344.83,222.14 L345.25,222.7 L345.67,223.32 L346.09,224.07 L346.3,224.5 L346.51,224.97 L346.72,225.48 L346.93,226.01 L347.14,226.55 L347.35,227.11 L347.56,227.67 L347.77,228.23 L347.98,228.77 L348.19,229.3 L348.4,229.83 L348.61,230.34 L348.82,230.85 L349.03,231.36 L349.24,231.88 L349.45,232.39 L349.66,232.91 L349.87,233.42 L350.09,233.92 L350.3,234.42 L350.51,234.9 L350.72,235.38 L350.93,235.85 L351.14,236.3 L351.35,236.76 L351.56,237.21 L351.77,237.65 L351.98,238.09 L352.19,238.52 L352.4,238.94 L352.61,239.33 L353.03,240.03 L353.45,240.61 L353.87,241.09 L354.29,241.5 L354.71,241.87 L355.13,242.2 L355.55,242.48 L355.98,242.72 L356.4,242.93 L356.82,243.11 L357.45,243.36 L358.08,243.53 L358.71,243.63 L359.34,243.7 L359.97,243.77 L360.6,243.82 L361.23,243.87 L361.87,243.91 L362.5,243.93 L363.13,243.95 L363.76,243.96 L364.39,243.97 L365.02,243.96 L365.65,243.96 L366.28,243.96 L366.92,243.95 L367.55,243.95 L368.18,243.94 L368.81,243.93 L369.44,243.93 L370.07,243.92 L370.7,243.91 L371.33,243.9 L371.96,243.89 L372.6,243.88 L373.23,243.87 L373.86,243.86 L374.49,243.86 L375.12,243.85 L375.75,243.84 L376.38,243.83 L377.01,243.82 L377.64,243.81 L378.28,243.8 L378.91,243.79 L379.54,243.78 L380.17,243.77 L380.8,243.75 L381.43,243.74 L382.06,243.73 L382.69,243.72 L383.32,243.71 L383.96,243.69 L384.59,243.68 L385.22,243.67 L385.85,243.66 L386.48,243.65 L387.11,243.64 L387.74,243.63 L388.37,243.63 L389,243.62 L389.64,243.62 L390.27,243.61 L390.9,243.61 L391.53,243.61 L392.16,243.61 L392.79,243.61 L393.42,243.61 L394.05,243.61 L394.68,243.61 L395.32,243.61 L395.95,243.61 L396.58,243.61 L397.21,243.61 L397.84,243.61 L398.47,243.61 L399.1,243.61 L399.73,243.61 L400.36,243.61 L401,243.61 L401.63,243.61 L402.26,243.61 L402.89,243.61 L403.52,243.61 L404.15,243.61 L404.78,243.61 L405.41,243.61 L406.04,243.61 L406.68,243.61 L407.31,243.61 L407.94,243.6 L408.57,243.6 L409.2,243.6 L409.83,243.6 L410.46,243.6 L411.09,243.59 L411.73,243.58 L412.36,243.57 L412.99,243.56 L413.62,243.55 L414.25,243.53 L414.88,243.52 L415.51,243.5 L416.14,243.48 L416.77,243.47 L417.41,243.45 L418.04,243.43 L418.67,243.41 L419.3,243.39 L419.93,243.37 L420.56,243.35 L421.19,243.33 L421.82,243.3 L422.45,243.28 L423.09,243.25 L423.72,243.22 L424.35,243.19 L424.98,243.16 L425.61,243.12 L426.24,243.09 L426.87,243.05 L427.5,243.01 L428.13,242.97 L428.77,242.93 L429.4,242.89 L430.03,242.85 L430.66,242.81 L431.29,242.77" fill="none" stroke="#f25a5a" stroke-width="1.5" stroke-linejoin="round"/>
<path d="M263.2,238.81 L263.83,238.91 L264.46,239.03 L265.09,239.16 L265.72,239.3 L266.36,239.44 L266.99,239.59 L267.62,239.73 L268.25,239.89 L268.88,240.07 L269.51,240.25 L270.14,240.43 L270.77,240.61 L271.4,240.78 L272.04,240.92 L272.67,241.06 L273.3,241.2 L273.93,241.33 L274.56,241.46 L275.19,241.57 L275.82,241.67 L276.45,241.74 L277.08,241.79 L277.72,241.82 L278.35,241.84 L278.98,241.86 L279.61,241.87 L280.24,241.89 L280.87,241.9 L281.5,241.91 L282.13,241.92 L282.76,241.92 L283.4,241.9 L284.03,241.86 L284.66,241.8 L285.29,241.72 L285.92,241.63 L286.55,241.54 L287.18,241.45 L287.81,241.34 L288.45,241.2 L289.08,241.06 L289.71,240.93 L290.34,240.86 L290.97,240.85 L291.6,240.89 L292.23,240.97 L292.86,241.08 L293.49,241.27 L293.91,241.45 L294.34,241.68 L294.76,241.93 L295.18,242.19 L295.6,242.48 L296.02,242.79 L296.44,243.15 L296.86,243.55 L297.28,244 L297.7,244.54 L298.12,245.19 L298.54,245.93 L298.75,246.33 L298.96,246.73 L299.17,247.14 L299.38,247.55 L299.59,247.95 L299.81,248.34 L300.23,249.1 L300.65,249.83 L301.07,250.57 L301.49,251.3 L301.91,252.02 L302.33,252.72 L302.75,253.37 L303.17,253.96 L303.59,254.5 L304.01,255.01 L304.43,255.5 L304.85,255.96 L305.28,256.37 L305.7,256.72 L306.12,256.98 L306.54,257.16 L307.17,257.35 L307.8,257.5 L308.43,257.56 L309.06,257.47 L309.69,257.18 L310.11,256.9 L310.53,256.58 L310.96,256.24 L311.38,255.89 L311.8,255.51 L312.22,255.07 L312.64,254.58 L313.06,254.04 L313.48,253.5 L313.9,252.96 L314.32,252.45 L314.74,251.98 L315.16,251.58 L315.58,251.22 L316,250.88 L316.42,250.55 L316.85,250.22 L317.27,249.91 L317.69,249.62 L318.11,249.36 L318.53,249.15 L319.16,248.91 L319.79,248.8 L320.42,248.76 L321.05,248.73 L321.68,248.71 L322.32,248.69 L322.95,248.68 L323.58,248.67 L324.21,248.67 L324.84,248.71 L325.47,248.85 L326.1,249.11 L326.52,249.33 L326.94,249.59 L327.36,249.86 L327.79,250.15 L328.21,250.45 L328.63,250.75 L329.05,251.06 L329.47,251.41 L329.89,251.8 L330.31,252.23 L330.73,252.68 L331.15,253.16 L331.57,253.65 L331.99,254.16 L332.41,254.67 L332.83,255.17 L333.26,255.68 L333.68,256.2 L334.1,256.76 L334.52,257.33 L334.94,257.93 L335.36,258.52 L335.78,259.11 L336.2,259.68 L336.62,260.22 L337.04,260.72 L337.46,261.18 L337.88,261.59 L338.3,262 L338.72,262.4 L339.15,262.79 L339.57,263.14 L339.99,263.44 L340.41,263.66 L341.04,263.83 L341.67,263.85 L342.3,263.85 L342.93,263.85 L343.56,263.75 L343.98,263.53 L344.4,263.15 L344.83,262.66 L345.25,262.1 L345.67,261.48 L346.09,260.73 L346.3,260.3 L346.51,259.83 L346.72,259.32 L346.93,258.79 L347.14,258.25 L347.35,257.69 L347.56,257.13 L347.77,256.57 L347.98,256.03 L348.19,255.5 L348.4,254.97 L348.61,254.46 L348.82,253.95 L349.03,253.44 L349.24,252.92 L349.45,252.41 L349.66,251.89 L349.87,251.38 L350.09,250.88 L350.3,250.38 L350.51,249.9 L350.72,249.42 L350.93,248.95 L351.14,248.49 L351.35,248.04 L351.56,247.59 L351.77,247.14 L351.98,246.7 L352.19,246.27 L352.4,245.85 L352.61,245.46 L353.03,244.76 L353.45,244.19 L353.87,243.73 L354.29,243.32 L354.71,242.97 L355.13,242.66 L355.55,242.4 L355.98,242.2 L356.61,241.96 L357.24,241.77 L357.87,241.63 L358.5,241.56 L359.13,241.53 L359.76,241.51 L360.39,241.49 L361.02,241.47 L361.66,241.46 L362.29,241.45 L362.92,241.44 L363.55,241.44 L364.18,241.44 L364.81,241.44 L365.44,241.44 L366.07,241.44 L366.7,241.44 L367.34,241.44 L367.97,241.44 L368.6,241.44 L369.23,241.44 L369.86,241.44 L370.49,241.44 L371.12,241.44 L371.75,241.44 L372.38,241.44 L373.02,241.44 L373.65,241.44 L374.28,241.44 L374.91,241.44 L375.54,241.44 L376.17,241.44 L376.8,241.44 L377.43,241.44 L378.07,241.44 L378.7,241.44 L379.33,241.44 L379.96,241.44 L380.59,241.44 L381.22,241.44 L381.85,241.44 L382.48,241.44 L383.11,241.44 L383.75,241.44 L384.38,241.44 L385.01,241.44 L385.64,241.44 L386.27,241.44 L386.9,241.44 L387.53,241.44 L388.16,241.44 L388.79,241.44 L389.43,241.44 L390.06,241.44 L390.69,241.44 L391.32,241.44 L391.95,241.44 L392.58,241.44 L393.21,241.44 L393.84,241.44 L394.47,241.44 L395.11,241.44 L395.74,241.44 L396.37,241.44 L397,241.44 L397.63,241.44 L398.26,241.44 L398.89,241.44 L399.52,241.44 L400.15,241.44 L400.79,241.44 L401.42,241.44 L402.05,241.44 L402.68,241.44 L403.31,241.44 L403.94,241.44 L404.57,241.44 L405.2,241.44 L405.83,241.44 L406.47,241.45 L407.1,241.45 L407.73,241.46 L408.36,241.47 L408.99,241.47 L409.62,241.48 L410.25,241.49 L410.88,241.5 L411.51,241.51 L412.15,241.52 L412.78,241.53 L413.41,241.54 L414.04,241.56 L414.67,241.57 L415.3,241.58 L415.93,241.59 L416.56,241.6 L417.19,241.62 L417.83,241.63 L418.46,241.64 L419.09,241.66 L419.72,241.67 L420.35,241.68 L420.98,241.7 L421.61,241.71 L422.24,241.73 L422.87,241.74 L423.51,241.76 L424.14,241.78 L424.77,241.8 L425.4,241.82 L426.03,241.84 L426.66,241.86 L427.29,241.89 L427.92,241.91 L428.56,241.93 L429.19,241.96 L429.82,241.98 L430.45,242.01 L431.08,242.03 L431.29,242.03" fill="none" stroke="#1e98f0" stroke-width="1.5" stroke-linejoin="round"/>
<path d="M263.2,302.13 L263.76,302.42 L264.32,302.78 L264.88,303.14 L265.44,303.49 L266.01,303.83 L266.57,304.19 L267.13,304.55 L267.69,304.9 L268.25,305.2 L268.81,305.42 L269.37,305.61 L269.93,305.77 L270.5,305.92 L271.06,306.03 L271.62,306.11 L272.46,306.13 L273.3,306.09 L273.86,306.04 L274.42,305.98 L274.99,305.91 L275.55,305.83 L276.11,305.75 L276.67,305.68 L277.23,305.61 L277.79,305.54 L278.35,305.47 L278.91,305.41 L279.48,305.34 L280.04,305.27 L280.6,305.2 L281.16,305.13 L281.72,305.06 L282.28,304.99 L282.84,304.92 L283.4,304.84 L283.97,304.77 L284.53,304.69 L285.09,304.61 L285.65,304.53 L286.21,304.45 L286.77,304.37 L287.33,304.29 L287.89,304.2 L288.46,304.12 L289.02,304.03 L289.58,303.94 L290.14,303.84 L290.7,303.74 L291.26,303.64 L291.82,303.54 L292.38,303.43 L292.95,303.32 L293.51,303.2 L294.07,303.08 L294.63,302.95 L295.19,302.82 L295.75,302.68 L296.31,302.54 L296.87,302.39 L297.44,302.22 L298,302.03 L298.56,301.84 L299.12,301.63 L299.68,301.41 L300.24,301.19 L300.8,300.97 L301.36,300.75 L301.93,300.53 L302.49,300.31 L303.05,300.09 L303.61,299.87 L304.17,299.64 L304.73,299.41 L305.29,299.18 L305.85,298.94 L306.42,298.7 L306.98,298.45 L307.54,298.19 L308.1,297.91 L308.66,297.62 L309.22,297.33 L309.78,297.04 L310.34,296.76 L310.91,296.5 L311.47,296.26 L312.03,296.05 L312.59,295.87 L313.15,295.7 L313.71,295.54 L314.27,295.39 L314.83,295.26 L315.39,295.13 L315.96,295.02 L316.52,294.91 L317.08,294.81 L317.64,294.71 L318.2,294.61 L318.76,294.52 L319.32,294.45 L319.88,294.41 L320.73,294.39 L321.57,294.39 L322.41,294.39 L323.25,294.39 L324.09,294.41 L324.94,294.47 L325.5,294.54 L326.06,294.62 L326.62,294.72 L327.18,294.84 L327.74,294.96 L328.3,295.12 L328.86,295.33 L329.43,295.57 L329.99,295.85 L330.55,296.15 L331.11,296.46 L331.67,296.77 L332.23,297.1 L332.79,297.45 L333.35,297.83 L333.92,298.23 L334.48,298.64 L335.04,299.08 L335.6,299.54 L336.16,300.03 L336.72,300.56 L337.28,301.13 L337.84,301.74 L338.41,302.37 L338.97,303 L339.53,303.6 L340.09,304.19 L340.65,304.78 L341.21,305.38 L341.77,306.02 L342.05,306.36 L342.33,306.72 L342.61,307.09 L342.9,307.48 L343.18,307.89 L343.46,308.3 L343.74,308.72 L344.02,309.14 L344.3,309.56 L344.58,309.98 L344.86,310.38 L345.14,310.78 L345.42,311.18 L345.7,311.58 L345.98,311.98 L346.26,312.38 L346.54,312.78 L346.82,313.17 L347.1,313.55 L347.39,313.92 L347.67,314.28 L347.95,314.62 L348.23,314.96 L348.51,315.28 L348.79,315.6 L349.35,316.22 L349.91,316.77 L350.47,317.24 L351.03,317.63 L351.59,317.98 L352.16,318.28 L352.72,318.53 L353.28,318.73 L353.84,318.89 L354.4,319.03 L354.96,319.16 L355.52,319.27 L356.08,319.37 L356.65,319.46 L357.21,319.54 L357.77,319.6 L358.33,319.66 L358.89,319.7 L359.45,319.75 L360.29,319.8 L361.14,319.85 L361.98,319.9 L362.82,319.94 L363.66,319.98 L364.5,320.01 L365.34,320.05 L366.19,320.08 L367.03,320.11 L367.87,320.14 L368.71,320.17 L369.55,320.2 L370.4,320.23 L371.24,320.26 L372.08,320.3 L372.92,320.33 L373.76,320.36 L374.61,320.38 L375.45,320.41 L376.29,320.44 L377.13,320.47 L377.97,320.5 L378.81,320.52 L379.66,320.55 L380.5,320.57 L381.34,320.6 L382.18,320.62 L383.02,320.65 L383.87,320.67 L384.71,320.69 L385.55,320.71 L386.39,320.74 L387.23,320.76 L388.07,320.78 L388.92,320.8 L389.76,320.82 L390.6,320.83 L391.44,320.85 L392.28,320.87 L393.13,320.89 L393.97,320.9 L394.81,320.92 L395.65,320.94 L396.49,320.95 L397.34,320.97 L398.18,320.99 L399.02,321 L399.86,321.02 L400.7,321.04 L401.54,321.06 L402.39,321.07 L403.23,321.09 L404.07,321.11 L404.91,321.13 L405.75,321.15 L406.6,321.17 L407.44,321.19 L408.28,321.21 L409.12,321.23 L409.96,321.25 L410.8,321.27 L411.65,321.29 L412.49,321.31 L413.33,321.33 L414.17,321.35 L415.01,321.37 L415.86,321.4 L416.7,321.42 L417.54,321.44 L418.38,321.46 L419.22,321.48 L420.07,321.5 L420.91,321.53 L421.75,321.55 L422.59,321.57 L423.43,321.59 L424.27,321.61 L425.12,321.64 L425.96,321.66 L426.8,321.68 L427.64,321.7 L428.48,321.73 L429.33,321.75 L430.17,321.77 L431.01,321.8 L431.29,321.8" fill="none" stroke="#f25a5a" stroke-width="1.6" stroke-linejoin="round"/>
<path d="M263.2,302.49 L263.76,302.78 L264.32,303.14 L264.88,303.49 L265.44,303.84 L266.01,304.19 L266.57,304.54 L267.13,304.91 L267.69,305.25 L268.25,305.55 L268.81,305.78 L269.37,305.96 L269.93,306.13 L270.5,306.27 L271.06,306.39 L271.62,306.46 L272.46,306.49 L273.3,306.45 L273.86,306.4 L274.42,306.33 L274.99,306.26 L275.55,306.19 L276.11,306.11 L276.67,306.03 L277.23,305.96 L277.79,305.89 L278.35,305.83 L278.91,305.75 L279.48,305.68 L280.04,305.61 L280.6,305.53 L281.16,305.46 L281.72,305.38 L282.28,305.31 L282.84,305.23 L283.4,305.16 L283.97,305.09 L284.53,305.02 L285.09,304.95 L285.65,304.89 L286.21,304.84 L286.77,304.78 L287.33,304.74 L287.89,304.69 L288.46,304.64 L289.02,304.6 L289.58,304.54 L290.14,304.49 L290.7,304.43 L291.26,304.35 L291.82,304.27 L292.38,304.18 L292.95,304.07 L293.51,303.95 L294.07,303.83 L294.63,303.69 L295.19,303.55 L295.75,303.41 L296.31,303.25 L296.87,303.1 L297.44,302.93 L298,302.75 L298.56,302.55 L299.12,302.34 L299.68,302.13 L300.24,301.91 L300.8,301.69 L301.36,301.46 L301.93,301.24 L302.49,301.02 L303.05,300.78 L303.61,300.54 L304.17,300.3 L304.73,300.06 L305.29,299.82 L305.85,299.6 L306.42,299.38 L306.98,299.18 L307.54,298.98 L308.1,298.8 L308.66,298.62 L309.22,298.45 L309.78,298.28 L310.34,298.11 L310.91,297.95 L311.47,297.79 L312.03,297.64 L312.59,297.48 L313.15,297.33 L313.71,297.17 L314.27,297.02 L314.83,296.88 L315.39,296.74 L315.96,296.62 L316.52,296.51 L317.08,296.41 L317.64,296.31 L318.2,296.21 L318.76,296.12 L319.32,296.06 L319.88,296.01 L320.73,296 L321.57,296 L322.41,296 L323.25,296 L324.09,296.01 L324.94,296.07 L325.5,296.14 L326.06,296.22 L326.62,296.33 L327.18,296.44 L327.74,296.56 L328.3,296.72 L328.86,296.93 L329.43,297.18 L329.99,297.45 L330.55,297.75 L331.11,298.06 L331.67,298.38 L332.23,298.72 L332.79,299.08 L333.35,299.48 L333.92,299.89 L334.48,300.31 L335.04,300.75 L335.6,301.18 L336.16,301.6 L336.72,302.03 L337.28,302.45 L337.84,302.88 L338.41,303.33 L338.97,303.8 L339.53,304.31 L340.09,304.86 L340.65,305.45 L341.21,306.08 L341.49,306.4 L341.77,306.73 L342.05,307.06 L342.33,307.4 L342.61,307.75 L342.9,308.11 L343.18,308.48 L343.46,308.85 L343.74,309.23 L344.02,309.61 L344.3,309.99 L344.58,310.37 L344.86,310.75 L345.14,311.14 L345.42,311.52 L345.7,311.92 L345.98,312.31 L346.26,312.71 L346.54,313.11 L346.82,313.51 L347.1,313.89 L347.39,314.27 L347.67,314.63 L347.95,314.98 L348.23,315.31 L348.51,315.64 L348.79,315.96 L349.35,316.57 L349.91,317.13 L350.47,317.6 L351.03,317.99 L351.59,318.33 L352.16,318.63 L352.72,318.89 L353.28,319.09 L353.84,319.25 L354.4,319.39 L354.96,319.51 L355.52,319.63 L356.08,319.73 L356.65,319.82 L357.21,319.89 L357.77,319.96 L358.33,320.01 L358.89,320.06 L359.45,320.1 L360.29,320.16 L361.14,320.21 L361.98,320.26 L362.82,320.3 L363.66,320.34 L364.5,320.37 L365.34,320.4 L366.19,320.43 L367.03,320.46 L367.87,320.49 L368.71,320.52 L369.55,320.56 L370.4,320.59 L371.24,320.62 L372.08,320.65 L372.92,320.68 L373.76,320.71 L374.61,320.74 L375.45,320.77 L376.29,320.8 L377.13,320.82 L377.97,320.85 L378.81,320.88 L379.66,320.9 L380.5,320.93 L381.34,320.95 L382.18,320.98 L383.02,321 L383.87,321.03 L384.71,321.05 L385.55,321.07 L386.39,321.09 L387.23,321.11 L388.07,321.13 L388.92,321.15 L389.76,321.17 L390.6,321.19 L391.44,321.21 L392.28,321.23 L393.13,321.24 L393.97,321.26 L394.81,321.28 L395.65,321.29 L396.49,321.31 L397.34,321.33 L398.18,321.34 L399.02,321.36 L399.86,321.38 L400.7,321.39 L401.54,321.41 L402.39,321.43 L403.23,321.45 L404.07,321.47 L404.91,321.49 L405.75,321.51 L406.6,321.53 L407.44,321.55 L408.28,321.57 L409.12,321.59 L409.96,321.61 L410.8,321.63 L411.65,321.65 L412.49,321.67 L413.33,321.69 L414.17,321.71 L415.01,321.73 L415.86,321.75 L416.7,321.77 L417.54,321.79 L418.38,321.82 L419.22,321.84 L420.07,321.86 L420.91,321.88 L421.75,321.9 L422.59,321.93 L423.43,321.95 L424.27,321.97 L425.12,321.99 L425.96,322.02 L426.8,322.04 L427.64,322.06 L428.48,322.08 L429.33,322.11 L430.17,322.13 L431.01,322.15 L431.29,322.16" fill="none" stroke="#1e98f0" stroke-width="1.9" stroke-linejoin="round"/>
<text x="282.3" y="283.0" font-size="8.6" font-weight="bold" fill="#1a1a1a">330 nm</text>
<text x="364.6" y="270.1" font-size="8.6" font-weight="bold" fill="#1a1a1a">392 nm</text>
<line x1="307.7" y1="259.4" x2="300.5" y2="269.8" stroke="#111" stroke-width="0.8"/>
<path d="M298.8,272.0 L299.0,267.6 L302.2,269.8 Z" fill="#111"/>
<line x1="342.8" y1="267.1" x2="357.5" y2="267.1" stroke="#111" stroke-width="0.8"/>
<path d="M361.0,267.1 L356.4,265.2 L356.4,269.0 Z" fill="#111"/>
<line x1="339.3" y1="280.6" x2="353.3" y2="280.6" stroke="#f25a5a" stroke-width="1.5"/>
<line x1="339.3" y1="290.3" x2="353.3" y2="290.3" stroke="#1e98f0" stroke-width="1.5"/>
<text x="355.0" y="283.5" font-size="7.1" fill="#1a1a1a" stroke="#1a1a1a" stroke-width="0.14">(<tspan font-style="italic">R</tspan>,<tspan font-style="italic">R</tspan>)-NU/CBS=1000/1</text>
<text x="355.0" y="293.2" font-size="7.1" fill="#1a1a1a" stroke="#1a1a1a" stroke-width="0.14">(<tspan font-style="italic">S</tspan>,<tspan font-style="italic">S</tspan>)-NU/CBS=1000/1</text>
<rect x="507.6" y="211.5" width="166.9" height="122.7" fill="none" stroke="#bababa" stroke-width="1"/>
<line x1="507.6" y1="272.9" x2="674.5" y2="272.9" stroke="#b0b0b0" stroke-width="1"/>
<line x1="504.6" y1="266.7" x2="507.6" y2="266.7" stroke="#b2b2b2" stroke-width="1"/>
<line x1="505.8" y1="254.45" x2="507.6" y2="254.45" stroke="#b2b2b2" stroke-width="1"/>
<line x1="504.6" y1="242.2" x2="507.6" y2="242.2" stroke="#b2b2b2" stroke-width="1"/>
<line x1="505.8" y1="229.95" x2="507.6" y2="229.95" stroke="#b2b2b2" stroke-width="1"/>
<line x1="504.6" y1="217.7" x2="507.6" y2="217.7" stroke="#b2b2b2" stroke-width="1"/>
<line x1="504.6" y1="331.5" x2="507.6" y2="331.5" stroke="#b2b2b2" stroke-width="1"/>
<line x1="505.8" y1="315.15" x2="507.6" y2="315.15" stroke="#b2b2b2" stroke-width="1"/>
<line x1="504.6" y1="298.8" x2="507.6" y2="298.8" stroke="#b2b2b2" stroke-width="1"/>
<line x1="505.8" y1="282.45" x2="507.6" y2="282.45" stroke="#b2b2b2" stroke-width="1"/>
<line x1="507.6" y1="334.2" x2="507.6" y2="337.2" stroke="#b2b2b2" stroke-width="1"/>
<line x1="524.29" y1="334.2" x2="524.29" y2="336" stroke="#b2b2b2" stroke-width="1"/>
<line x1="540.98" y1="334.2" x2="540.98" y2="337.2" stroke="#b2b2b2" stroke-width="1"/>
<line x1="557.67" y1="334.2" x2="557.67" y2="336" stroke="#b2b2b2" stroke-width="1"/>
<line x1="574.36" y1="334.2" x2="574.36" y2="337.2" stroke="#b2b2b2" stroke-width="1"/>
<line x1="591.05" y1="334.2" x2="591.05" y2="336" stroke="#b2b2b2" stroke-width="1"/>
<line x1="607.74" y1="334.2" x2="607.74" y2="337.2" stroke="#b2b2b2" stroke-width="1"/>
<line x1="624.43" y1="334.2" x2="624.43" y2="336" stroke="#b2b2b2" stroke-width="1"/>
<line x1="641.12" y1="334.2" x2="641.12" y2="337.2" stroke="#b2b2b2" stroke-width="1"/>
<line x1="657.81" y1="334.2" x2="657.81" y2="336" stroke="#b2b2b2" stroke-width="1"/>
<line x1="674.5" y1="334.2" x2="674.5" y2="337.2" stroke="#b2b2b2" stroke-width="1"/>
<text x="503.6" y="221.4" font-size="10.6" text-anchor="end" font-weight="normal" fill="#1a1a1a" stroke="#1a1a1a" stroke-width="0.2">40</text>
<text x="503.6" y="245.9" font-size="10.6" text-anchor="end" font-weight="normal" fill="#1a1a1a" stroke="#1a1a1a" stroke-width="0.2">0</text>
<text x="503.6" y="270.4" font-size="10.6" text-anchor="end" font-weight="normal" fill="#1a1a1a" stroke="#1a1a1a" stroke-width="0.2">-40</text>
<text x="503.6" y="302.5" font-size="10.6" text-anchor="end" font-weight="normal" fill="#1a1a1a" stroke="#1a1a1a" stroke-width="0.2">0.5</text>
<text x="503.6" y="335.2" font-size="10.6" text-anchor="end" font-weight="normal" fill="#1a1a1a" stroke="#1a1a1a" stroke-width="0.2">0.0</text>
<text x="507.6" y="347.4" font-size="10.6" text-anchor="middle" font-weight="normal" fill="#1a1a1a" stroke="#1a1a1a" stroke-width="0.2">350</text>
<text x="540.98" y="347.4" font-size="10.6" text-anchor="middle" font-weight="normal" fill="#1a1a1a" stroke="#1a1a1a" stroke-width="0.2">400</text>
<text x="574.36" y="347.4" font-size="10.6" text-anchor="middle" font-weight="normal" fill="#1a1a1a" stroke="#1a1a1a" stroke-width="0.2">450</text>
<text x="607.74" y="347.4" font-size="10.6" text-anchor="middle" font-weight="normal" fill="#1a1a1a" stroke="#1a1a1a" stroke-width="0.2">500</text>
<text x="641.12" y="347.4" font-size="10.6" text-anchor="middle" font-weight="normal" fill="#1a1a1a" stroke="#1a1a1a" stroke-width="0.2">550</text>
<text x="674.5" y="347.4" font-size="10.6" text-anchor="middle" font-weight="normal" fill="#1a1a1a" stroke="#1a1a1a" stroke-width="0.2">600</text>
<text x="591.2" y="364" font-size="12.2" text-anchor="middle" font-weight="normal" fill="#1a1a1a" stroke="#1a1a1a" stroke-width="0.2">Wavelength (nm)</text>
<text x="471.8" y="241.8" font-size="12.6" text-anchor="middle" font-weight="normal" fill="#1a1a1a" stroke="#1a1a1a" stroke-width="0.2" transform="rotate(-90 471.8 241.8)">CPL (mdeg)</text>
<text x="471.2" y="307.9" font-size="12.6" text-anchor="middle" font-weight="normal" fill="#1a1a1a" stroke="#1a1a1a" stroke-width="0.2" transform="rotate(-90 471.2 307.9)">DC (V)</text>
<text x="437.4" y="197.2" font-size="19" text-anchor="start" font-weight="bold" fill="#1a1a1a">f</text>
<path d="M507.6,242.38 L508,242.57 L508.4,242.57 L508.8,242.29 L509.2,242.58 L509.6,242.61 L510,242.35 L510.4,242.62 L510.8,242.79 L511.21,242.52 L511.61,241.86 L512.01,241.49 L512.41,242.03 L512.81,242.43 L513.21,242.29 L513.61,242.29 L514.01,242.13 L514.41,241.98 L514.81,242.24 L515.21,242.42 L515.61,242.46 L516.01,242.33 L516.41,242.29 L516.81,242.48 L517.21,242.46 L517.61,242.4 L518.01,242.57 L518.42,242.81 L518.82,242.78 L519.22,242.48 L519.62,241.99 L520.02,241.96 L520.42,242.55 L520.82,242.45 L521.22,241.89 L521.62,241.71 L522.02,241.99 L522.42,242.36 L522.82,242.24 L523.22,242.09 L523.62,242.11 L524.02,242.29 L524.42,242.37 L524.82,241.78 L525.22,241.6 L525.63,242.01 L526.03,242.07 L526.43,242.22 L526.83,242.41 L527.23,242.15 L527.63,241.96 L528.03,242.22 L528.43,242.37 L528.83,242.21 L529.23,241.91 L529.63,241.88 L530.03,242.13 L530.43,242.12 L530.83,242.33 L531.23,242.74 L531.63,242.58 L532.03,242.28 L532.43,242.15 L532.84,242.35 L533.24,242.64 L533.64,242.46 L534.04,242.45 L534.44,242.45 L534.84,241.92 L535.24,241.68 L535.64,241.66 L536.04,241.39 L536.44,241.21 L536.84,241.13 L537.24,240.73 L537.64,240.44 L538.04,240.56 L538.44,239.95 L538.84,239.34 L539.24,239.29 L539.64,238.67 L540.05,237.77 L540.45,236.95 L540.85,236.45 L541.25,236.47 L541.65,236.06 L542.05,234.89 L542.45,234.21 L542.85,234.01 L543.25,233.46 L543.65,232.8 L544.05,232.32 L544.45,231.81 L544.85,231.59 L545.25,231.56 L545.65,230.99 L546.05,230.55 L546.45,230.28 L546.85,230.1 L547.26,230.01 L547.66,229.23 L548.06,228.76 L548.46,228.65 L548.86,228.09 L549.26,227.22 L549.66,226.16 L550.06,225.68 L550.46,225.82 L550.86,225.77 L551.26,225.28 L551.66,224.62 L552.06,224.08 L552.46,223.55 L552.86,222.86 L553.26,222.17 L553.66,221.65 L554.06,221.2 L554.47,220.23 L554.87,219.29 L555.27,219.31 L555.67,219.06 L556.07,218.31 L556.47,217.89 L556.87,217.47 L557.27,216.95 L557.67,216.62 L558.07,216.75 L558.47,216.89 L558.87,216.88 L559.27,217.14 L559.67,217.14 L560.07,217.12 L560.47,217.14 L560.87,216.91 L561.28,216.77 L561.68,216.95 L562.08,217.2 L562.48,217.01 L562.88,216.91 L563.28,217.37 L563.68,217.79 L564.08,217.99 L564.48,218.39 L564.88,218.12 L565.28,217.19 L565.68,217.14 L566.08,217.7 L566.48,218.21 L566.88,218.37 L567.28,218.39 L567.68,218.66 L568.08,219.04 L568.49,219.61 L568.89,219.96 L569.29,219.69 L569.69,219.47 L570.09,219.69 L570.49,219.89 L570.89,220.03 L571.29,220.66 L571.69,221.08 L572.09,220.97 L572.49,221.35 L572.89,221.75 L573.29,221.56 L573.69,221.42 L574.09,221.6 L574.49,221.26 L574.89,220.84 L575.29,221.31 L575.7,222.21 L576.1,222.9 L576.5,222.82 L576.9,222.67 L577.3,223.11 L577.7,223.33 L578.1,223.22 L578.5,223.34 L578.9,223.32 L579.3,222.89 L579.7,222.77 L580.1,223.15 L580.5,223.39 L580.9,223.21 L581.3,223.04 L581.7,223.36 L582.1,223.84 L582.5,223.76 L582.91,223.43 L583.31,223.28 L583.71,223.28 L584.11,223.68 L584.51,224.33 L584.91,224.72 L585.31,224.59 L585.71,224.26 L586.11,224.46 L586.51,224.73 L586.91,224.95 L587.31,225.58 L587.71,226.08 L588.11,226.14 L588.51,225.92 L588.91,225.7 L589.31,226.1 L589.71,226.67 L590.12,226.63 L590.52,226.81 L590.92,227.35 L591.32,227.75 L591.72,227.99 L592.12,227.9 L592.52,228.1 L592.92,228.56 L593.32,228.57 L593.72,228.51 L594.12,228.64 L594.52,228.65 L594.92,228.81 L595.32,229.25 L595.72,229.11 L596.12,228.8 L596.52,229.31 L596.92,229.89 L597.33,230.13 L597.73,230.22 L598.13,230.01 L598.53,229.97 L598.93,230.09 L599.33,230.31 L599.73,230.61 L600.13,230.85 L600.53,231.34 L600.93,232 L601.33,232.42 L601.73,232.89 L602.13,233.09 L602.53,232.98 L602.93,233.46 L603.33,233.99 L603.73,234.52 L604.13,234.92 L604.54,234.81 L604.94,234.87 L605.34,235.05 L605.74,235.3 L606.14,235.7 L606.54,235.9 L606.94,236.16 L607.34,236.67 L607.74,236.94 L608.14,237.01 L608.54,237.21 L608.94,237.73 L609.34,238.15 L609.74,237.82 L610.14,237.48 L610.54,237.52 L610.94,237.25 L611.35,237.01 L611.75,237.22 L612.15,237.53 L612.55,237.85 L612.95,237.97 L613.35,237.87 L613.75,237.74 L614.15,237.57 L614.55,237.51 L614.95,237.57 L615.35,237.84 L615.75,237.96 L616.15,237.82 L616.55,237.8 L616.95,237.81 L617.35,237.79 L617.75,237.62 L618.15,237.26 L618.56,237.17 L618.96,237.56 L619.36,237.8 L619.76,237.96 L620.16,238.71 L620.56,239.03 L620.96,238.58 L621.36,238.43 L621.76,238.54 L622.16,238.81 L622.56,239.24 L622.96,239.07 L623.36,238.43 L623.76,238.46 L624.16,238.66 L624.56,238.64 L624.96,239.09 L625.36,239.3 L625.77,239.25 L626.17,239.5 L626.57,239.51 L626.97,239.41 L627.37,239.31 L627.77,239.07 L628.17,239.26 L628.57,239.75 L628.97,239.8 L629.37,239.59 L629.77,239.68 L630.17,239.8 L630.57,239.55 L630.97,239.52 L631.37,239.72 L631.77,239.9 L632.17,240.42 L632.57,240.5 L632.98,240.14 L633.38,240.29 L633.78,240.46 L634.18,240.38 L634.58,240.29 L634.98,240.36 L635.38,240.61 L635.78,240.11 L636.18,239.44 L636.58,240.12 L636.98,240.79 L637.38,240.42 L637.78,240.01 L638.18,240 L638.58,240.37 L638.98,240.51 L639.38,240.19 L639.78,240.48 L640.19,240.95 L640.59,240.76 L640.99,240.53 L641.39,240.53 L641.79,240.63 L642.19,240.62 L642.59,240.61 L642.99,240.69 L643.39,240.89 L643.79,241.05 L644.19,240.92 L644.59,240.76 L644.99,240.61 L645.39,240.5 L645.79,240.66 L646.19,240.6 L646.59,240.47 L646.99,240.8 L647.4,241.13 L647.8,241.32 L648.2,241.1 L648.6,240.78 L649,240.8 L649.4,241.04 L649.8,241.65 L650.2,241.87 L650.6,241.7 L651,241.4 L651.4,240.73 L651.8,240.93 L652.2,241.69 L652.6,241.81 L653,241.66 L653.4,241.52 L653.8,241.4 L654.2,241.14 L654.61,241.1 L655.01,241.64 L655.41,241.92 L655.81,241.69 L656.21,241.48 L656.61,241.42 L657.01,241.47 L657.41,241.47 L657.81,241.55 L658.21,241.82 L658.61,241.82 L659.01,241.3 L659.41,240.88 L659.81,241.25 L660.21,241.64 L660.61,241.64 L661.01,241.9 L661.42,242.16 L661.82,241.75 L662.22,241.46 L662.62,241.93 L663.02,242.2 L663.42,241.69 L663.82,241.23 L664.22,241.3 L664.62,241.23 L665.02,240.97 L665.42,241.12 L665.82,241.6 L666.22,241.94 L666.62,242.02 L667.02,241.92 L667.42,241.94 L667.82,241.96 L668.22,241.73 L668.63,241.87 L669.03,242.06 L669.43,242.21 L669.83,242.67 L670.23,242.72 L670.63,242.3 L671.03,242.06 L671.43,241.96 L671.83,241.88 L672.23,242.01 L672.63,242.18 L673.03,242.14 L673.43,241.99 L673.83,242.03 L674.23,242.01" fill="none" stroke="#f24a4a" stroke-width="1.4" stroke-linejoin="round"/>
<path d="M507.6,241.4 L508,241.82 L508.4,242.37 L508.8,242.74 L509.2,242.58 L509.6,242.35 L510,242.36 L510.4,242.39 L510.8,242.36 L511.21,242.52 L511.61,242.51 L512.01,242.02 L512.41,241.6 L512.81,241.6 L513.21,242.01 L513.61,242.38 L514.01,242.62 L514.41,242.57 L514.81,242.29 L515.21,242.53 L515.61,242.71 L516.01,242.22 L516.41,241.79 L516.81,242.07 L517.21,242.55 L517.61,242.45 L518.01,242.15 L518.42,242.26 L518.82,242.47 L519.22,242.27 L519.62,241.75 L520.02,241.72 L520.42,242.36 L520.82,242.65 L521.22,242.84 L521.62,243.1 L522.02,242.93 L522.42,242.45 L522.82,242.05 L523.22,242.31 L523.62,242.58 L524.02,242.29 L524.42,242.45 L524.82,242.81 L525.22,242.69 L525.63,242.56 L526.03,242.52 L526.43,242.62 L526.83,242.85 L527.23,242.44 L527.63,241.84 L528.03,241.67 L528.43,241.62 L528.83,241.53 L529.23,241.79 L529.63,242.19 L530.03,242.38 L530.43,242.68 L530.83,242.89 L531.23,242.67 L531.63,241.99 L532.03,241.72 L532.43,241.83 L532.84,241.84 L533.24,242.23 L533.64,242.61 L534.04,243.11 L534.44,243.84 L534.84,244.1 L535.24,244.67 L535.64,245.82 L536.04,246.63 L536.44,247.13 L536.84,247.58 L537.24,248.21 L537.64,248.86 L538.04,249.41 L538.44,250.25 L538.84,250.87 L539.24,251.19 L539.64,251.82 L540.05,252.17 L540.45,252.52 L540.85,253.2 L541.25,253.45 L541.65,253.66 L542.05,254.43 L542.45,255.57 L542.85,256.44 L543.25,256.59 L543.65,256.66 L544.05,257.1 L544.45,257.47 L544.85,257.74 L545.25,258.19 L545.65,258.51 L546.05,258.87 L546.45,259.53 L546.85,259.66 L547.26,259.5 L547.66,260.21 L548.06,261.22 L548.46,261.5 L548.86,261.46 L549.26,261.74 L549.66,262.43 L550.06,263.18 L550.46,263.52 L550.86,263.59 L551.26,263.97 L551.66,264.54 L552.06,264.93 L552.46,265.11 L552.86,265.33 L553.26,265.7 L553.66,265.82 L554.06,265.92 L554.47,266.47 L554.87,266.9 L555.27,267.06 L555.67,267.46 L556.07,267.86 L556.47,268.4 L556.87,268.76 L557.27,268.5 L557.67,268.37 L558.07,268.46 L558.47,268.55 L558.87,268.73 L559.27,268.74 L559.67,268.22 L560.07,267.62 L560.47,267.69 L560.87,267.91 L561.28,267.73 L561.68,267.54 L562.08,267.09 L562.48,266.49 L562.88,266.47 L563.28,266.55 L563.68,266.05 L564.08,265.36 L564.48,264.79 L564.88,264.52 L565.28,264.56 L565.68,264.42 L566.08,264.41 L566.48,264.57 L566.88,264.57 L567.28,264.89 L567.68,265.22 L568.08,265.36 L568.49,265.71 L568.89,265.85 L569.29,265.82 L569.69,266.06 L570.09,266.41 L570.49,266.56 L570.89,266.47 L571.29,266.51 L571.69,266.75 L572.09,266.76 L572.49,266.76 L572.89,266.35 L573.29,265.54 L573.69,265.66 L574.09,265.73 L574.49,265.14 L574.89,264.91 L575.29,264.47 L575.7,264.05 L576.1,264.09 L576.5,263.96 L576.9,263.6 L577.3,263.4 L577.7,263.39 L578.1,263.02 L578.5,262.18 L578.9,261.45 L579.3,260.94 L579.7,260.53 L580.1,260.53 L580.5,260.64 L580.9,260.66 L581.3,260.68 L581.7,260.36 L582.1,259.76 L582.5,259.08 L582.91,258.69 L583.31,258.71 L583.71,258.76 L584.11,258.57 L584.51,258.01 L584.91,257.43 L585.31,257.25 L585.71,256.95 L586.11,256.23 L586.51,256.02 L586.91,256.33 L587.31,256.39 L587.71,256.12 L588.11,255.8 L588.51,255.52 L588.91,255.19 L589.31,254.79 L589.71,254.45 L590.12,254.44 L590.52,254.58 L590.92,254.57 L591.32,254.58 L591.72,254.24 L592.12,253.75 L592.52,253.56 L592.92,253.36 L593.32,253.42 L593.72,253.29 L594.12,252.96 L594.52,252.91 L594.92,252.88 L595.32,252.86 L595.72,252.81 L596.12,252.66 L596.52,252.27 L596.92,251.8 L597.33,251.57 L597.73,251.76 L598.13,252.2 L598.53,251.85 L598.93,251.31 L599.33,251.16 L599.73,250.84 L600.13,250.79 L600.53,250.9 L600.93,250.39 L601.33,249.89 L601.73,250.16 L602.13,250.51 L602.53,250.53 L602.93,250.58 L603.33,250.65 L603.73,250.08 L604.13,249.3 L604.54,249.29 L604.94,249.44 L605.34,249.18 L605.74,248.98 L606.14,248.93 L606.54,248.75 L606.94,248.85 L607.34,248.92 L607.74,249.08 L608.14,249.64 L608.54,249.49 L608.94,249.07 L609.34,249.07 L609.74,248.98 L610.14,248.9 L610.54,248.4 L610.94,247.65 L611.35,247.74 L611.75,247.92 L612.15,247.73 L612.55,247.71 L612.95,247.58 L613.35,247.29 L613.75,247.32 L614.15,247.58 L614.55,247.38 L614.95,247.33 L615.35,247.36 L615.75,247.1 L616.15,246.89 L616.55,246.53 L616.95,246.38 L617.35,246.48 L617.75,246.43 L618.15,246.59 L618.56,246.9 L618.96,246.76 L619.36,246.49 L619.76,246.31 L620.16,246.11 L620.56,246.1 L620.96,245.97 L621.36,245.3 L621.76,245.08 L622.16,245.61 L622.56,245.8 L622.96,245.49 L623.36,245.03 L623.76,245.08 L624.16,245.71 L624.56,245.97 L624.96,245.96 L625.36,246.05 L625.77,245.86 L626.17,245.54 L626.57,245.26 L626.97,244.76 L627.37,244.77 L627.77,245.33 L628.17,245.48 L628.57,245.04 L628.97,244.68 L629.37,245.06 L629.77,245.3 L630.17,244.88 L630.57,244.66 L630.97,244.52 L631.37,244.17 L631.77,244.16 L632.17,244.43 L632.57,244.6 L632.98,244.53 L633.38,244.69 L633.78,244.89 L634.18,244.72 L634.58,244.66 L634.98,244.61 L635.38,244.25 L635.78,243.67 L636.18,243.54 L636.58,243.58 L636.98,243.76 L637.38,244.46 L637.78,244.73 L638.18,244.11 L638.58,243.58 L638.98,243.49 L639.38,243.36 L639.78,243.51 L640.19,243.88 L640.59,243.45 L640.99,243.06 L641.39,243.69 L641.79,244.15 L642.19,243.85 L642.59,243.51 L642.99,243.44 L643.39,243.51 L643.79,243.7 L644.19,243.74 L644.59,243.08 L644.99,242.46 L645.39,242.79 L645.79,243.31 L646.19,243.62 L646.59,243.79 L646.99,243.36 L647.4,243.1 L647.8,243.18 L648.2,242.94 L648.6,242.67 L649,242.55 L649.4,242.62 L649.8,242.97 L650.2,243.42 L650.6,243.38 L651,242.95 L651.4,242.66 L651.8,242.39 L652.2,242.32 L652.6,242.64 L653,242.7 L653.4,242.51 L653.8,242.44 L654.2,242.42 L654.61,242.31 L655.01,242.12 L655.41,242.09 L655.81,242.07 L656.21,241.95 L656.61,242.06 L657.01,242.37 L657.41,242.35 L657.81,242.24 L658.21,242.04 L658.61,242 L659.01,242.53 L659.41,242.86 L659.81,242.62 L660.21,242.53 L660.61,242.67 L661.01,242.61 L661.42,242.7 L661.82,242.74 L662.22,242.41 L662.62,242.23 L663.02,242.39 L663.42,242.43 L663.82,242.32 L664.22,242.65 L664.62,243.03 L665.02,242.68 L665.42,242.08 L665.82,241.6 L666.22,241.39 L666.62,241.72 L667.02,242.22 L667.42,242.44 L667.82,242.2 L668.22,241.8 L668.63,241.87 L669.03,242.24 L669.43,242.14 L669.83,241.69 L670.23,241.54 L670.63,241.95 L671.03,242.41 L671.43,242.51 L671.83,242.48 L672.23,242.32 L672.63,241.91 L673.03,241.69 L673.43,241.69 L673.83,241.83 L674.23,242.22" fill="none" stroke="#f24a4a" stroke-width="1.3" stroke-linejoin="round" stroke-dasharray="3,2.2"/>
<path d="M526.96,242.67 L527.36,242.64 L527.76,242.6 L528.16,242.7 L528.56,242.73 L528.96,242.73 L529.36,242.85 L529.76,242.91 L530.16,242.89 L530.57,242.95 L530.97,243.01 L531.37,243 L531.77,242.97 L532.17,243.01 L532.57,243.11 L532.97,243.09 L533.37,242.94 L533.77,242.97 L534.17,243.11 L534.57,243.15 L534.97,243.19 L535.37,243.26 L535.77,243.26 L536.17,243.2 L536.57,243.13 L536.97,243.13 L537.37,243.21 L537.78,243.26 L538.18,243.26 L538.58,243.24 L538.98,243.24 L539.38,243.29 L539.78,243.31 L540.18,243.3 L540.58,243.3 L540.98,243.28 L541.38,243.24 L541.78,243.22 L542.18,243.23 L542.58,243.23 L542.98,243.3 L543.38,243.36 L543.78,243.32 L544.18,243.29 L544.59,243.26 L544.99,243.21 L545.39,243.21 L545.79,243.28 L546.19,243.35 L546.59,243.31 L546.99,243.25 L547.39,243.33 L547.79,243.44 L548.19,243.45 L548.59,243.37 L548.99,243.31 L549.39,243.26 L549.79,243.2 L550.19,243.25 L550.59,243.35 L550.99,243.36 L551.39,243.33 L551.8,243.38 L552.2,243.41 L552.6,243.36 L553,243.32 L553.4,243.31 L553.8,243.44 L554.2,243.54 L554.6,243.48 L555,243.43 L555.4,243.29 L555.8,243.24 L556.2,243.4 L556.6,243.52 L557,243.49 L557.4,243.39 L557.8,243.4 L558.2,243.45 L558.6,243.37 L559.01,243.27 L559.41,243.29 L559.81,243.32 L560.21,243.3 L560.61,243.29 L561.01,243.33 L561.41,243.43 L561.81,243.47 L562.21,243.48 L562.61,243.44 L563.01,243.38 L563.41,243.41 L563.81,243.45 L564.21,243.48 L564.61,243.45 L565.01,243.4 L565.41,243.43 L565.81,243.45 L566.22,243.39 L566.62,243.35 L567.02,243.35 L567.42,243.44 L567.82,243.5 L568.22,243.42 L568.62,243.34 L569.02,243.37 L569.42,243.37 L569.82,243.33 L570.22,243.4 L570.62,243.42 L571.02,243.41 L571.42,243.43 L571.82,243.4 L572.22,243.49 L572.62,243.61 L573.02,243.55 L573.43,243.36 L573.83,243.32 L574.23,243.45 L574.63,243.43 L575.03,243.32 L575.43,243.35 L575.83,243.47 L576.23,243.58 L576.63,243.6 L577.03,243.54 L577.43,243.54 L577.83,243.62 L578.23,243.59 L578.63,243.47 L579.03,243.46 L579.43,243.49 L579.83,243.49 L580.23,243.45 L580.64,243.34 L581.04,243.23 L581.44,243.22 L581.84,243.29 L582.24,243.3 L582.64,243.25 L583.04,243.22 L583.44,243.23 L583.84,243.31 L584.24,243.46 L584.64,243.5 L585.04,243.41 L585.44,243.39 L585.84,243.44 L586.24,243.5 L586.64,243.47 L587.04,243.34 L587.44,243.36 L587.85,243.44 L588.25,243.4 L588.65,243.35 L589.05,243.29 L589.45,243.24 L589.85,243.37 L590.25,243.47 L590.65,243.45 L591.05,243.41 L591.45,243.37 L591.85,243.34 L592.25,243.37 L592.65,243.39 L593.05,243.39 L593.45,243.38 L593.85,243.37 L594.25,243.41 L594.66,243.44 L595.06,243.4 L595.46,243.35 L595.86,243.29 L596.26,243.28 L596.66,243.32 L597.06,243.34 L597.46,243.43 L597.86,243.47 L598.26,243.38 L598.66,243.34 L599.06,243.34 L599.46,243.36 L599.86,243.38 L600.26,243.39 L600.66,243.42 L601.06,243.37 L601.46,243.33 L601.87,243.39 L602.27,243.44 L602.67,243.4 L603.07,243.3 L603.47,243.22 L603.87,243.23 L604.27,243.31 L604.67,243.34 L605.07,243.29 L605.47,243.29 L605.87,243.3 L606.27,243.24 L606.67,243.23 L607.07,243.29 L607.47,243.38 L607.87,243.43 L608.27,243.42 L608.67,243.34 L609.08,243.26 L609.48,243.23 L609.88,243.26 L610.28,243.24 L610.68,243.19 L611.08,243.32 L611.48,243.4 L611.88,243.33 L612.28,243.26 L612.68,243.28 L613.08,243.33 L613.48,243.29 L613.88,243.21 L614.28,243.27 L614.68,243.32 L615.08,243.3 L615.48,243.28 L615.88,243.22 L616.29,243.15 L616.69,243.2 L617.09,243.23 L617.49,243.23 L617.89,243.19 L618.29,243.12 L618.69,243.13 L619.09,243.2 L619.49,243.24 L619.89,243.17 L620.29,243.1 L620.69,243.12 L621.09,243.2 L621.49,243.22 L621.89,243.16 L622.29,243.22 L622.69,243.25 L623.09,243.16 L623.5,243.1 L623.9,243.11 L624.3,243.14 L624.7,243.14 L625.1,243.17 L625.5,243.2 L625.9,243.15 L626.3,243.08 L626.7,243.04 L627.1,243 L627.5,242.95 L627.9,242.92 L628.3,242.9 L628.7,242.88 L629.1,242.92 L629.5,242.94 L629.9,242.93 L630.3,242.99 L630.71,242.97 L631.11,242.92 L631.51,242.92 L631.91,242.94 L632.31,242.98 L632.71,242.98 L633.11,242.89 L633.51,242.82 L633.91,242.82 L634.31,242.87 L634.71,242.87 L635.11,242.83 L635.51,242.88 L635.91,242.97 L636.31,242.91 L636.71,242.84 L637.11,242.88 L637.51,242.87 L637.92,242.83 L638.32,242.82 L638.72,242.86 L639.12,242.92 L639.52,242.96 L639.92,242.86 L640.32,242.8 L640.72,242.84 L641.12,242.81 L641.52,242.82 L641.92,242.91 L642.32,242.94 L642.72,242.84 L643.12,242.83 L643.52,242.88 L643.92,242.91 L644.32,242.84 L644.73,242.75 L645.13,242.74 L645.53,242.73 L645.93,242.73 L646.33,242.75 L646.73,242.76 L647.13,242.66 L647.53,242.55 L647.93,242.6 L648.33,242.7 L648.73,242.71 L649.13,242.64 L649.53,242.66 L649.93,242.82 L650.33,242.78 L650.73,242.61 L651.13,242.61 L651.53,242.66 L651.94,242.62 L652.34,242.58 L652.74,242.61 L653.14,242.61 L653.54,242.56 L653.94,242.64 L654.34,242.74 L654.74,242.73 L655.14,242.7 L655.54,242.69 L655.94,242.67 L656.34,242.74 L656.74,242.86 L657.14,242.76 L657.54,242.59 L657.94,242.6 L658.34,242.68 L658.74,242.65 L659.15,242.58 L659.55,242.62 L659.95,242.6 L660.35,242.53 L660.75,242.56 L661.15,242.58 L661.55,242.59 L661.95,242.63 L662.35,242.68 L662.75,242.64 L663.15,242.57 L663.55,242.61 L663.95,242.64 L664.35,242.65 L664.75,242.63 L665.15,242.63 L665.55,242.64 L665.95,242.55 L666.36,242.5 L666.76,242.52 L667.16,242.55 L667.56,242.46 L667.96,242.37 L668.36,242.48 L668.76,242.56 L669.16,242.53 L669.56,242.52 L669.96,242.55 L670.36,242.57 L670.76,242.56 L671.16,242.53 L671.56,242.56 L671.96,242.56 L672.36,242.5 L672.76,242.42 L673.16,242.37 L673.57,242.47 L673.97,242.58 L674.37,242.58" fill="none" stroke="#1e7ef0" stroke-width="1.3" stroke-linejoin="round" stroke-dasharray="3,2.2"/>
<path d="M526.96,242.15 L527.36,242.19 L527.76,242.25 L528.16,242.18 L528.56,242.3 L528.96,242.49 L529.36,242.33 L529.76,242.08 L530.16,242.13 L530.57,242.23 L530.97,242.12 L531.37,242.04 L531.77,242.01 L532.17,242.09 L532.57,242.2 L532.97,242.14 L533.37,241.99 L533.77,241.79 L534.17,241.79 L534.57,242.02 L534.97,242.14 L535.37,242.03 L535.77,242.02 L536.17,241.95 L536.57,241.65 L536.97,241.55 L537.37,241.68 L537.78,241.78 L538.18,241.79 L538.58,241.96 L538.98,241.97 L539.38,241.75 L539.78,241.9 L540.18,242.19 L540.58,242.01 L540.98,241.51 L541.38,241.24 L541.78,241.39 L542.18,241.57 L542.58,241.62 L542.98,241.69 L543.38,241.71 L543.78,241.75 L544.18,241.68 L544.59,241.5 L544.99,241.44 L545.39,241.4 L545.79,241.34 L546.19,241.35 L546.59,241.28 L546.99,241.39 L547.39,241.63 L547.79,241.53 L548.19,241.43 L548.59,241.46 L548.99,241.49 L549.39,241.49 L549.79,241.3 L550.19,241.15 L550.59,241 L550.99,240.83 L551.39,240.99 L551.8,241.24 L552.2,241.29 L552.6,241.27 L553,241.19 L553.4,241.07 L553.8,241.11 L554.2,240.98 L554.6,240.68 L555,240.71 L555.4,240.8 L555.8,240.77 L556.2,240.81 L556.6,240.81 L557,240.9 L557.4,240.97 L557.8,240.76 L558.2,240.65 L558.6,240.83 L559.01,240.97 L559.41,241.06 L559.81,241.15 L560.21,241.04 L560.61,240.73 L561.01,240.49 L561.41,240.72 L561.81,240.89 L562.21,240.68 L562.61,240.65 L563.01,240.69 L563.41,240.66 L563.81,240.71 L564.21,240.71 L564.61,240.6 L565.01,240.66 L565.41,240.84 L565.81,240.95 L566.22,240.97 L566.62,240.82 L567.02,240.68 L567.42,240.68 L567.82,240.77 L568.22,240.77 L568.62,240.71 L569.02,240.85 L569.42,240.99 L569.82,241.01 L570.22,241 L570.62,240.85 L571.02,240.65 L571.42,240.88 L571.82,241.22 L572.22,241.26 L572.62,241.12 L573.02,240.79 L573.43,240.66 L573.83,240.8 L574.23,240.81 L574.63,240.78 L575.03,240.62 L575.43,240.5 L575.83,240.76 L576.23,240.88 L576.63,240.63 L577.03,240.47 L577.43,240.41 L577.83,240.45 L578.23,240.76 L578.63,240.83 L579.03,240.56 L579.43,240.59 L579.83,240.81 L580.23,240.68 L580.64,240.39 L581.04,240.35 L581.44,240.36 L581.84,240.39 L582.24,240.63 L582.64,240.81 L583.04,240.84 L583.44,240.82 L583.84,240.79 L584.24,240.78 L584.64,240.75 L585.04,240.76 L585.44,240.71 L585.84,240.55 L586.24,240.4 L586.64,240.46 L587.04,240.7 L587.44,240.88 L587.85,240.9 L588.25,240.72 L588.65,240.71 L589.05,240.92 L589.45,240.99 L589.85,241.06 L590.25,241.11 L590.65,241.1 L591.05,241.08 L591.45,241.11 L591.85,241.33 L592.25,241.35 L592.65,241.28 L593.05,241.27 L593.45,241.28 L593.85,241.35 L594.25,241.37 L594.66,241.38 L595.06,241.26 L595.46,240.93 L595.86,240.71 L596.26,240.72 L596.66,240.85 L597.06,240.89 L597.46,240.88 L597.86,241.09 L598.26,241.35 L598.66,241.4 L599.06,241.19 L599.46,241.08 L599.86,241.26 L600.26,241.36 L600.66,241.35 L601.06,241.36 L601.46,241.45 L601.87,241.38 L602.27,241.28 L602.67,241.5 L603.07,241.51 L603.47,241.18 L603.87,241.08 L604.27,241.23 L604.67,241.31 L605.07,241.29 L605.47,241.23 L605.87,241.19 L606.27,241.35 L606.67,241.5 L607.07,241.42 L607.47,241.21 L607.87,240.96 L608.27,240.98 L608.67,241.34 L609.08,241.65 L609.48,241.46 L609.88,241.11 L610.28,241.17 L610.68,241.12 L611.08,241.04 L611.48,241.29 L611.88,241.45 L612.28,241.51 L612.68,241.48 L613.08,241.21 L613.48,241.25 L613.88,241.47 L614.28,241.35 L614.68,241.29 L615.08,241.32 L615.48,241.4 L615.88,241.56 L616.29,241.58 L616.69,241.39 L617.09,240.98 L617.49,240.88 L617.89,241.28 L618.29,241.46 L618.69,241.3 L619.09,241.19 L619.49,240.98 L619.89,240.82 L620.29,241.01 L620.69,241.4 L621.09,241.63 L621.49,241.58 L621.89,241.54 L622.29,241.46 L622.69,241.25 L623.09,241.23 L623.5,241.4 L623.9,241.44 L624.3,241.25 L624.7,241.32 L625.1,241.61 L625.5,241.57 L625.9,241.53 L626.3,241.61 L626.7,241.55 L627.1,241.32 L627.5,241.16 L627.9,241.35 L628.3,241.63 L628.7,241.64 L629.1,241.52 L629.5,241.55 L629.9,241.51 L630.3,241.4 L630.71,241.47 L631.11,241.58 L631.51,241.51 L631.91,241.4 L632.31,241.45 L632.71,241.47 L633.11,241.49 L633.51,241.55 L633.91,241.56 L634.31,241.5 L634.71,241.39 L635.11,241.55 L635.51,241.84 L635.91,241.68 L636.31,241.47 L636.71,241.6 L637.11,241.63 L637.51,241.6 L637.92,241.73 L638.32,241.68 L638.72,241.5 L639.12,241.57 L639.52,241.86 L639.92,241.84 L640.32,241.62 L640.72,241.71 L641.12,241.6 L641.52,241.39 L641.92,241.78 L642.32,241.89 L642.72,241.4 L643.12,241.35 L643.52,241.41 L643.92,241.32 L644.32,241.46 L644.73,241.56 L645.13,241.7 L645.53,241.79 L645.93,241.66 L646.33,241.53 L646.73,241.46 L647.13,241.58 L647.53,241.82 L647.93,241.74 L648.33,241.5 L648.73,241.6 L649.13,241.69 L649.53,241.54 L649.93,241.45 L650.33,241.61 L650.73,241.89 L651.13,241.93 L651.53,241.71 L651.94,241.75 L652.34,242.03 L652.74,242.09 L653.14,241.91 L653.54,241.87 L653.94,241.81 L654.34,241.6 L654.74,241.67 L655.14,241.67 L655.54,241.51 L655.94,241.63 L656.34,241.81 L656.74,241.9 L657.14,242 L657.54,242.11 L657.94,242.07 L658.34,242.07 L658.74,242.07 L659.15,241.89 L659.55,242 L659.95,242.2 L660.35,242.11 L660.75,242.06 L661.15,242.07 L661.55,242.14 L661.95,242.12 L662.35,241.86 L662.75,241.84 L663.15,242.17 L663.55,242.26 L663.95,242.06 L664.35,241.95 L664.75,242 L665.15,241.94 L665.55,241.79 L665.95,241.91 L666.36,242.14 L666.76,242.22 L667.16,242.17 L667.56,242.18 L667.96,242.24 L668.36,242.15 L668.76,242.08 L669.16,242.2 L669.56,242.23 L669.96,242.08 L670.36,242.11 L670.76,242.37 L671.16,242.31 L671.56,242.04 L671.96,242.16 L672.36,242.33 L672.76,242.12 L673.16,241.98 L673.57,242.23 L673.97,242.41 L674.37,242.33" fill="none" stroke="#1e7ef0" stroke-width="1.6" stroke-linejoin="round"/>
<line x1="601.5" y1="232" x2="609.5" y2="225.3" stroke="#f24a4a" stroke-width="0.9"/>
<path d="M612.2,223.0 L606.9,224.9 L610.2,228.4 Z" fill="#f24a4a"/>
<text x="611.9" y="224.4" font-size="8.5" font-weight="bold" fill="#f24a4a">&#955;<tspan font-size="6" dy="1.8">ex</tspan><tspan dy="-1.8"> = 290 nm</tspan></text>
<line x1="583.1" y1="247.2" x2="591.6" y2="256.8" stroke="#1e7ef0" stroke-width="0.9"/>
<path d="M594.2,259.7 L589.0,257.7 L592.4,254.6 Z" fill="#1e7ef0"/>
<text x="594.8" y="268.0" font-size="8.5" font-weight="bold" fill="#1e7ef0">&#955;<tspan font-size="6" dy="1.8">ex</tspan><tspan dy="-1.8"> = 350 nm</tspan></text>
<path d="M537.64,319.22 L538.31,318.28 L538.98,317.54 L539.64,316.05 L540.31,315.17 L540.98,314.23 L541.65,313.68 L542.32,312.33 L542.98,311.3 L543.65,310.55 L544.32,309.15 L544.99,307.85 L545.65,307.59 L546.32,306.65 L546.99,305.47 L547.66,305.32 L548.32,304.22 L548.99,304.54 L549.66,303.63 L550.33,302.49 L550.99,302.19 L551.66,301.93 L552.33,301.09 L553,300.82 L553.66,300.3 L554.33,300.21 L555,299.59 L555.67,299.18 L556.33,299.19 L557,299.52 L557.67,298.43 L558.34,297.18 L559.01,299 L559.67,298.24 L560.34,298.01 L561.01,297.91 L561.68,297.73 L562.34,297.96 L563.01,298.08 L563.68,298.28 L564.35,299.34 L565.01,299.35 L565.68,299.78 L566.35,299.71 L567.02,300.36 L567.68,300.94 L568.35,300.21 L569.02,301.42 L569.69,302.02 L570.35,301.86 L571.02,303.07 L571.69,303.21 L572.36,303.74 L573.02,304.7 L573.69,305.45 L574.36,304.91 L575.03,305.64 L575.7,306.12 L576.36,306.05 L577.03,307.19 L577.7,306.67 L578.37,308.5 L579.03,309.44 L579.7,308.93 L580.37,309.19 L581.04,309.2 L581.7,310.54 L582.37,310.98 L583.04,311.39 L583.71,310.87 L584.37,313.02 L585.04,312.67 L585.71,313.29 L586.38,314.14 L587.04,314.38 L587.71,314.65 L588.38,315.48 L589.05,315.6 L589.71,315.8 L590.38,316.21 L591.05,317.13 L591.72,317.49 L592.39,317.79 L593.05,317.87 L593.72,318.52 L594.39,318.47 L595.06,319.09 L595.72,320.24 L596.39,319.54 L597.06,320.5 L597.73,320.33 L598.39,320.84 L599.06,320.75 L599.73,321.36 L600.4,321.58 L601.06,322.54 L601.73,321.59 L602.4,322.34 L603.07,322.73 L603.73,322.28 L604.4,322.77 L605.07,323.1 L605.74,323.2 L606.4,323.56 L607.07,324.19 L607.74,324.46 L608.41,323.79 L609.08,323.92 L609.74,324.31 L610.41,324.58 L611.08,324.5 L611.75,324.6 L612.41,325.05 L613.08,324.99 L613.75,325.19 L614.42,325.89 L615.08,325.5 L615.75,326.36 L616.42,326.98 L617.09,325.96 L617.75,326.52 L618.42,325.73 L619.09,327.1 L619.76,326.37 L620.42,326.95 L621.09,326.86 L621.76,327.5 L622.43,326.23 L623.09,327.38 L623.76,326.56 L624.43,327.48 L625.1,328 L625.77,327.92 L626.43,327.16 L627.1,327.98 L627.77,327.79 L628.44,327.35 L629.1,327.54 L629.77,328.43 L630.44,328.21 L631.11,327.55 L631.77,328.44 L632.44,327.9 L633.11,328.26 L633.78,328.88 L634.44,328.33 L635.11,328.74 L635.78,328.51 L636.45,328.92 L637.11,328.4 L637.78,328.73 L638.45,328.39 L639.12,329.22 L639.78,328.91 L640.45,328.47 L641.12,328.44 L641.79,328.57 L642.46,328.67 L643.12,329.34 L643.79,328.92 L644.46,328.88 L645.13,329.07 L645.79,328.93 L646.46,329.42 L647.13,328.97" fill="none" stroke="#f24a4a" stroke-width="1.2" stroke-linejoin="round" stroke-dasharray="2.5,1.5"/>
<path d="M507.6,331.5 L508.27,331.5 L508.94,331.5 L509.61,331.5 L510.28,331.5 L510.94,331.5 L511.61,331.5 L512.28,331.5 L512.95,331.5 L513.62,331.5 L514.29,331.5 L514.96,331.5 L515.63,331.5 L516.3,331.5 L516.97,331.5 L517.63,331.5 L518.3,331.5 L518.97,331.5 L519.64,331.5 L520.31,331.5 L520.98,331.5 L521.65,331.49 L522.32,331.46 L522.99,331.41 L523.65,331.35 L524.32,331.27 L524.99,331.18 L525.66,331.08 L526.33,330.96 L527,330.78 L527.67,330.51 L528.34,330.16 L529.01,329.75 L529.67,329.31 L530.34,328.85 L531.01,328.34 L531.35,328.06 L531.68,327.77 L532.02,327.45 L532.35,327.12 L532.69,326.78 L533.02,326.42 L533.35,326.06 L533.69,325.68 L534.02,325.29 L534.36,324.89 L534.69,324.46 L535.03,324 L535.36,323.52 L535.7,323.01 L536.03,322.5 L536.36,321.98 L536.7,321.46 L537.03,320.95 L537.37,320.43 L537.7,319.91 L538.04,319.39 L538.37,318.86 L538.71,318.32 L539.04,317.79 L539.37,317.26 L539.71,316.74 L540.04,316.22 L540.38,315.71 L540.71,315.21 L541.05,314.73 L541.38,314.25 L541.72,313.78 L542.05,313.3 L542.38,312.83 L542.72,312.36 L543.05,311.9 L543.39,311.44 L543.72,310.98 L544.06,310.53 L544.39,310.09 L544.73,309.66 L545.06,309.23 L545.39,308.81 L545.73,308.41 L546.06,308.01 L546.4,307.63 L546.73,307.25 L547.07,306.89 L547.4,306.54 L547.74,306.2 L548.07,305.86 L548.41,305.53 L548.74,305.21 L549.07,304.9 L549.41,304.59 L549.74,304.29 L550.08,304 L550.41,303.71 L550.75,303.44 L551.08,303.17 L551.75,302.66 L552.42,302.17 L553.09,301.69 L553.76,301.23 L554.43,300.8 L555.09,300.4 L555.76,300.05 L556.43,299.74 L557.1,299.44 L557.77,299.14 L558.44,298.9 L559.11,298.73 L559.78,298.68 L560.45,298.72 L561.12,298.83 L561.78,298.99 L562.45,299.19 L563.12,299.41 L563.79,299.66 L564.46,299.91 L565.13,300.15 L565.8,300.42 L566.47,300.73 L567.14,301.07 L567.8,301.43 L568.47,301.82 L569.14,302.22 L569.81,302.63 L570.48,303.04 L571.15,303.46 L571.82,303.89 L572.49,304.34 L573.16,304.81 L573.82,305.29 L574.49,305.77 L575.16,306.26 L575.83,306.75 L576.5,307.23 L577.17,307.73 L577.84,308.23 L578.51,308.73 L579.18,309.23 L579.85,309.74 L580.51,310.24 L581.18,310.74 L581.85,311.24 L582.52,311.73 L583.19,312.22 L583.86,312.72 L584.53,313.21 L585.2,313.7 L585.87,314.18 L586.53,314.66 L587.2,315.13 L587.87,315.59 L588.54,316.04 L589.21,316.5 L589.88,316.95 L590.55,317.4 L591.22,317.84 L591.89,318.27 L592.56,318.69 L593.22,319.08 L593.89,319.46 L594.56,319.82 L595.23,320.16 L595.9,320.49 L596.57,320.8 L597.24,321.11 L597.91,321.41 L598.58,321.69 L599.24,321.97 L599.91,322.24 L600.58,322.49 L601.25,322.74 L601.92,322.97 L602.59,323.2 L603.26,323.42 L603.93,323.63 L604.6,323.84 L605.26,324.04 L605.93,324.23 L606.6,324.42 L607.27,324.61 L607.94,324.8 L608.61,324.99 L609.28,325.18 L609.95,325.36 L610.62,325.54 L611.29,325.72 L611.95,325.89 L612.62,326.05 L613.29,326.21 L613.96,326.37 L614.63,326.51 L615.3,326.65 L615.97,326.79 L616.64,326.92 L617.31,327.06 L617.97,327.19 L618.64,327.32 L619.31,327.44 L619.98,327.56 L620.65,327.67 L621.32,327.79 L621.99,327.89 L622.66,327.99 L623.33,328.09 L624,328.18 L624.66,328.26 L625.33,328.34 L626,328.42 L626.67,328.49 L627.34,328.57 L628.01,328.64 L628.68,328.71 L629.35,328.77 L630.02,328.84 L630.68,328.91 L631.35,328.97 L632.02,329.03 L632.69,329.09 L633.36,329.15 L634.03,329.2 L634.7,329.26 L635.37,329.31 L636.04,329.36 L636.71,329.41 L637.37,329.46 L638.04,329.51 L638.71,329.55 L639.38,329.6 L640.05,329.64 L640.72,329.69 L641.39,329.73 L642.06,329.77 L642.73,329.81 L643.39,329.85 L644.06,329.89 L644.73,329.93 L645.4,329.97 L646.07,330.01 L646.74,330.04 L647.41,330.08 L648.08,330.12 L648.75,330.15 L649.41,330.19 L650.08,330.22 L650.75,330.25 L651.42,330.28 L652.09,330.31 L652.76,330.34 L653.43,330.37 L654.1,330.39 L654.77,330.42 L655.44,330.44 L656.1,330.47 L656.77,330.49 L657.44,330.51 L658.11,330.53 L658.78,330.55 L659.45,330.56 L660.12,330.58 L660.79,330.6 L661.46,330.62 L662.12,330.64 L662.79,330.65 L663.46,330.67 L664.13,330.68 L664.8,330.7 L665.47,330.72 L666.14,330.73 L666.81,330.74 L667.48,330.76 L668.15,330.77 L668.81,330.78 L669.48,330.79 L670.15,330.8 L670.82,330.81 L671.49,330.82 L672.16,330.83 L672.83,330.83 L673.5,330.84 L674.17,330.84 L674.5,330.85" fill="none" stroke="#f24a4a" stroke-width="1.6" stroke-linejoin="round"/>
<path d="M527.36,328.77 L527.95,328.19 L528.25,327.83 L528.54,327.47 L528.84,327.1 L529.13,326.73 L529.43,326.35 L529.72,325.97 L530.01,325.59 L530.31,325.19 L530.6,324.8 L530.9,324.39 L531.19,323.98 L531.49,323.56 L531.78,323.13 L532.08,322.69 L532.37,322.24 L532.67,321.79 L532.96,321.33 L533.26,320.87 L533.55,320.41 L533.85,319.95 L534.14,319.49 L534.44,319.04 L534.73,318.59 L535.03,318.14 L535.32,317.71 L535.62,317.28 L535.91,316.86 L536.21,316.44 L536.5,316.02 L536.8,315.61 L537.09,315.2 L537.39,314.79 L537.68,314.38 L537.98,313.98 L538.27,313.58 L538.57,313.17 L538.86,312.77 L539.16,312.38 L539.45,311.98 L539.75,311.58 L540.04,311.18 L540.34,310.79 L540.63,310.39 L540.92,309.99 L541.22,309.59 L541.51,309.18 L541.81,308.76 L542.1,308.33 L542.4,307.91 L542.69,307.48 L542.99,307.05 L543.28,306.63 L543.58,306.21 L543.87,305.8 L544.17,305.4 L544.46,305.02 L544.76,304.65 L545.05,304.3 L545.35,303.96 L545.64,303.66 L546.23,303.09 L546.82,302.57 L547.41,302.07 L548,301.6 L548.59,301.16 L549.18,300.75 L549.77,300.39 L550.36,300.07 L550.95,299.8 L551.54,299.56 L552.13,299.32 L552.72,299.11 L553.31,298.94 L553.9,298.83 L554.49,298.8 L555.37,298.81 L555.96,298.83 L556.55,298.85 L557.14,298.87 L557.73,298.9 L558.32,298.93 L558.91,298.99 L559.5,299.08 L560.09,299.2 L560.68,299.35 L561.27,299.53 L561.86,299.72 L562.45,299.91 L563.04,300.12 L563.63,300.36 L564.22,300.64 L564.81,300.95 L565.4,301.29 L565.99,301.66 L566.58,302.03 L567.17,302.4 L567.76,302.77 L568.35,303.14 L568.94,303.51 L569.53,303.89 L570.12,304.28 L570.71,304.68 L571.3,305.08 L571.89,305.5 L572.48,305.92 L573.07,306.34 L573.66,306.78 L574.24,307.22 L574.83,307.67 L575.42,308.14 L576.01,308.62 L576.6,309.12 L577.19,309.63 L577.78,310.14 L578.37,310.66 L578.96,311.17 L579.55,311.69 L580.14,312.2 L580.73,312.71 L581.32,313.2 L581.91,313.69 L582.5,314.16 L583.09,314.63 L583.68,315.11 L584.27,315.58 L584.86,316.04 L585.45,316.5 L586.04,316.94 L586.63,317.36 L587.22,317.77 L587.81,318.15 L588.4,318.52 L588.99,318.88 L589.58,319.22 L590.17,319.56 L590.76,319.88 L591.35,320.2 L591.94,320.51 L592.53,320.8 L593.12,321.09 L593.71,321.37 L594.3,321.65 L594.89,321.91 L595.48,322.17 L596.07,322.42 L596.65,322.66 L597.24,322.89 L597.83,323.12 L598.42,323.35 L599.01,323.56 L599.6,323.78 L600.19,323.99 L600.78,324.21 L601.37,324.42 L601.96,324.63 L602.55,324.84 L603.14,325.05 L603.73,325.25 L604.32,325.45 L604.91,325.65 L605.5,325.83 L606.09,326 L606.68,326.17 L607.27,326.32 L607.86,326.46 L608.45,326.59 L609.04,326.72 L609.63,326.85 L610.22,326.97 L610.81,327.08 L611.4,327.19 L611.99,327.3 L612.58,327.4 L613.17,327.5 L613.76,327.6 L614.35,327.7 L614.94,327.79 L615.53,327.88 L616.12,327.97 L616.71,328.06 L617.3,328.14 L617.89,328.23 L618.48,328.31 L619.06,328.39 L619.65,328.47 L620.24,328.55 L620.83,328.62 L621.42,328.69 L622.01,328.76 L622.6,328.83 L623.19,328.89 L623.78,328.95 L624.37,329.01 L624.96,329.07 L625.55,329.12 L626.14,329.18 L626.73,329.23 L627.32,329.28 L627.91,329.34 L628.5,329.39 L629.09,329.44 L629.68,329.49 L630.27,329.54 L630.86,329.59 L631.45,329.63 L632.04,329.68 L632.63,329.72 L633.22,329.77 L633.81,329.81 L634.4,329.85 L634.99,329.89 L635.58,329.93 L636.17,329.97 L636.76,330 L637.35,330.04 L637.94,330.07 L638.53,330.1 L639.12,330.13 L639.71,330.16 L640.3,330.19 L640.89,330.21 L641.47,330.23 L642.06,330.26 L642.65,330.28 L643.24,330.3 L643.83,330.33 L644.42,330.35 L645.01,330.37 L645.6,330.39 L646.19,330.41 L646.78,330.43 L647.37,330.45 L647.96,330.47 L648.55,330.48 L649.14,330.5 L649.73,330.52 L650.32,330.54 L650.91,330.55 L651.5,330.57 L652.09,330.58 L652.68,330.6 L653.27,330.61 L653.86,330.63 L654.45,330.64 L655.04,330.66 L655.63,330.67 L656.22,330.68 L656.81,330.69 L657.4,330.71 L657.99,330.72 L658.58,330.73 L659.17,330.74 L659.76,330.75 L660.35,330.77 L660.94,330.78 L661.53,330.79 L662.12,330.8 L662.71,330.81 L663.3,330.82 L663.88,330.83 L664.47,330.84 L665.36,330.86 L666.24,330.87 L667.13,330.89 L668.01,330.9 L668.9,330.91 L669.78,330.92 L670.67,330.94 L671.55,330.95 L672.44,330.96 L673.32,330.97 L674.21,330.97 L674.5,330.98" fill="none" stroke="#1e7ef0" stroke-width="1.6" stroke-linejoin="round"/>
<line x1="581.1" y1="277.8" x2="594.8" y2="277.8" stroke="#f24a4a" stroke-width="1.5"/>
<text x="596.9" y="280.7" font-size="7.0" fill="#1a1a1a" stroke="#1a1a1a" stroke-width="0.14">(<tspan font-style="italic">R</tspan>,<tspan font-style="italic">R</tspan>)-NU / CBS=1000/1</text>
<line x1="581.1" y1="287.2" x2="594.8" y2="287.2" stroke="#f24a4a" stroke-width="1.5" stroke-dasharray="3,2"/>
<text x="596.9" y="290.1" font-size="7.0" fill="#1a1a1a" stroke="#1a1a1a" stroke-width="0.14">(<tspan font-style="italic">S</tspan>,<tspan font-style="italic">S</tspan>)-NU / CBS=1000/1</text>
<line x1="581.1" y1="296.5" x2="594.8" y2="296.5" stroke="#1e7ef0" stroke-width="1.5"/>
<text x="596.9" y="299.4" font-size="7.0" fill="#1a1a1a" stroke="#1a1a1a" stroke-width="0.14">(<tspan font-style="italic">R</tspan>,<tspan font-style="italic">R</tspan>)-NU / CBS=1000/1</text>
<line x1="581.1" y1="305.8" x2="594.8" y2="305.8" stroke="#1e7ef0" stroke-width="1.5" stroke-dasharray="3,2"/>
<text x="596.9" y="308.7" font-size="7.0" fill="#1a1a1a" stroke="#1a1a1a" stroke-width="0.14">(<tspan font-style="italic">S</tspan>,<tspan font-style="italic">S</tspan>)-NU / CBS=1000/1</text>
<rect x="42.4" y="384.1" width="167.7" height="122.4" fill="none" stroke="#bababa" stroke-width="1"/>
<line x1="39.4" y1="506.7" x2="42.4" y2="506.7" stroke="#b2b2b2" stroke-width="1"/>
<line x1="40.6" y1="491.3" x2="42.4" y2="491.3" stroke="#b2b2b2" stroke-width="1"/>
<line x1="39.4" y1="475.9" x2="42.4" y2="475.9" stroke="#b2b2b2" stroke-width="1"/>
<line x1="40.6" y1="460.5" x2="42.4" y2="460.5" stroke="#b2b2b2" stroke-width="1"/>
<line x1="39.4" y1="445.1" x2="42.4" y2="445.1" stroke="#b2b2b2" stroke-width="1"/>
<line x1="40.6" y1="429.7" x2="42.4" y2="429.7" stroke="#b2b2b2" stroke-width="1"/>
<line x1="39.4" y1="414.3" x2="42.4" y2="414.3" stroke="#b2b2b2" stroke-width="1"/>
<line x1="40.6" y1="398.9" x2="42.4" y2="398.9" stroke="#b2b2b2" stroke-width="1"/>
<line x1="39.4" y1="383.5" x2="42.4" y2="383.5" stroke="#b2b2b2" stroke-width="1"/>
<line x1="210.5" y1="506.38" x2="212.3" y2="506.38" stroke="#b2b2b2" stroke-width="1"/>
<line x1="210.5" y1="493.9" x2="213.5" y2="493.9" stroke="#b2b2b2" stroke-width="1"/>
<line x1="210.5" y1="481.42" x2="212.3" y2="481.42" stroke="#b2b2b2" stroke-width="1"/>
<line x1="210.5" y1="468.95" x2="213.5" y2="468.95" stroke="#b2b2b2" stroke-width="1"/>
<line x1="210.5" y1="456.47" x2="212.3" y2="456.47" stroke="#b2b2b2" stroke-width="1"/>
<line x1="210.5" y1="444" x2="213.5" y2="444" stroke="#b2b2b2" stroke-width="1"/>
<line x1="210.5" y1="431.52" x2="212.3" y2="431.52" stroke="#b2b2b2" stroke-width="1"/>
<line x1="210.5" y1="419.05" x2="213.5" y2="419.05" stroke="#b2b2b2" stroke-width="1"/>
<line x1="210.5" y1="406.57" x2="212.3" y2="406.57" stroke="#b2b2b2" stroke-width="1"/>
<line x1="210.5" y1="394.1" x2="213.5" y2="394.1" stroke="#b2b2b2" stroke-width="1"/>
<line x1="55.2" y1="506.4" x2="55.2" y2="509.4" stroke="#b2b2b2" stroke-width="1"/>
<line x1="102.9" y1="506.4" x2="102.9" y2="509.4" stroke="#b2b2b2" stroke-width="1"/>
<line x1="150.5" y1="506.4" x2="150.5" y2="509.4" stroke="#b2b2b2" stroke-width="1"/>
<line x1="198.1" y1="506.4" x2="198.1" y2="509.4" stroke="#b2b2b2" stroke-width="1"/>
<line x1="79" y1="506.4" x2="79" y2="509.4" stroke="#b2b2b2" stroke-width="1"/>
<line x1="126.7" y1="506.4" x2="126.7" y2="509.4" stroke="#b2b2b2" stroke-width="1"/>
<line x1="174.3" y1="506.4" x2="174.3" y2="509.4" stroke="#b2b2b2" stroke-width="1"/>
<line x1="67.1" y1="506.4" x2="67.1" y2="508.2" stroke="#b2b2b2" stroke-width="1"/>
<line x1="91" y1="506.4" x2="91" y2="508.2" stroke="#b2b2b2" stroke-width="1"/>
<line x1="114.8" y1="506.4" x2="114.8" y2="508.2" stroke="#b2b2b2" stroke-width="1"/>
<line x1="138.6" y1="506.4" x2="138.6" y2="508.2" stroke="#b2b2b2" stroke-width="1"/>
<line x1="162.4" y1="506.4" x2="162.4" y2="508.2" stroke="#b2b2b2" stroke-width="1"/>
<line x1="186.2" y1="506.4" x2="186.2" y2="508.2" stroke="#b2b2b2" stroke-width="1"/>
<text x="38.4" y="511.6" font-size="11.0" text-anchor="end" font-weight="normal" fill="#1a1a1a" stroke="#1a1a1a" stroke-width="0.2">10</text>
<text x="38.4" y="480.8" font-size="11.0" text-anchor="end" font-weight="normal" fill="#1a1a1a" stroke="#1a1a1a" stroke-width="0.2">20</text>
<text x="38.4" y="450" font-size="11.0" text-anchor="end" font-weight="normal" fill="#1a1a1a" stroke="#1a1a1a" stroke-width="0.2">30</text>
<text x="38.4" y="419.2" font-size="11.0" text-anchor="end" font-weight="normal" fill="#1a1a1a" stroke="#1a1a1a" stroke-width="0.2">40</text>
<text x="38.4" y="388.4" font-size="11.0" text-anchor="end" font-weight="normal" fill="#1a1a1a" stroke="#1a1a1a" stroke-width="0.2">50</text>
<text x="213.8" y="497.8" font-size="11.0" text-anchor="start" font-weight="normal" fill="#1a1a1a" stroke="#1a1a1a" stroke-width="0.2">10</text>
<text x="213.8" y="472.85" font-size="11.0" text-anchor="start" font-weight="normal" fill="#1a1a1a" stroke="#1a1a1a" stroke-width="0.2">15</text>
<text x="213.8" y="447.9" font-size="11.0" text-anchor="start" font-weight="normal" fill="#1a1a1a" stroke="#1a1a1a" stroke-width="0.2">20</text>
<text x="213.8" y="422.95" font-size="11.0" text-anchor="start" font-weight="normal" fill="#1a1a1a" stroke="#1a1a1a" stroke-width="0.2">25</text>
<text x="213.8" y="398" font-size="11.0" text-anchor="start" font-weight="normal" fill="#1a1a1a" stroke="#1a1a1a" stroke-width="0.2">30</text>
<text x="55.2" y="518.9" font-size="10.6" text-anchor="middle" font-weight="normal" fill="#1a1a1a" stroke="#1a1a1a" stroke-width="0.2">NU</text>
<text x="102.9" y="518.9" font-size="10.6" text-anchor="middle" font-weight="normal" fill="#1a1a1a" stroke="#1a1a1a" stroke-width="0.2">1000/1</text>
<text x="150.5" y="518.9" font-size="10.6" text-anchor="middle" font-weight="normal" fill="#1a1a1a" stroke="#1a1a1a" stroke-width="0.2">50/1</text>
<text x="198.1" y="518.9" font-size="10.6" text-anchor="middle" font-weight="normal" fill="#1a1a1a" stroke="#1a1a1a" stroke-width="0.2">1/1</text>
<text x="126.5" y="534.2" font-size="13.5" text-anchor="middle" font-weight="normal" fill="#1a1a1a" stroke="#1a1a1a" stroke-width="0.2">D/A Ratio</text>
<text x="11.2" y="445.6" font-size="12.3" text-anchor="middle" font-weight="normal" fill="#1a1a1a" stroke="#1a1a1a" stroke-width="0.2" transform="rotate(-90 11.2 445.6)">Pitch Length(nm)</text>
<text x="239.1" y="445.9" font-size="12.3" text-anchor="middle" font-weight="normal" fill="#1a1a1a" stroke="#1a1a1a" stroke-width="0.2" transform="rotate(-90 239.1 445.9)">Height(nm)</text>
<text x="-0.5" y="376.3" font-size="19" text-anchor="start" font-weight="bold" fill="#1a1a1a">g</text>
<rect x="50.3" y="492.6" width="10" height="13.8" fill="#ffa040"/>
<line x1="55.3" y1="490.9" x2="55.3" y2="495" stroke="#f08020" stroke-width="0.8"/>
<line x1="53.5" y1="490.9" x2="57.1" y2="490.9" stroke="#f08020" stroke-width="0.8"/>
<line x1="53.5" y1="495" x2="57.1" y2="495" stroke="#f08020" stroke-width="0.8"/>
<rect x="97.7" y="489.3" width="10.5" height="17.1" fill="#ffa040"/>
<line x1="102.95" y1="483.3" x2="102.95" y2="496.5" stroke="#f08020" stroke-width="0.8"/>
<line x1="101.15" y1="483.3" x2="104.75" y2="483.3" stroke="#f08020" stroke-width="0.8"/>
<line x1="101.15" y1="496.5" x2="104.75" y2="496.5" stroke="#f08020" stroke-width="0.8"/>
<rect x="145.1" y="462.6" width="10.8" height="43.8" fill="#ffa040"/>
<line x1="150.5" y1="455.4" x2="150.5" y2="470.4" stroke="#f08020" stroke-width="0.8"/>
<line x1="148.7" y1="455.4" x2="152.3" y2="455.4" stroke="#f08020" stroke-width="0.8"/>
<line x1="148.7" y1="470.4" x2="152.3" y2="470.4" stroke="#f08020" stroke-width="0.8"/>
<path d="M55.2,423.1 L102.9,419.5 L150.3,418.4 L198.1,417.4" fill="none" stroke="#1e9ff0" stroke-width="1.2" stroke-linejoin="round"/>
<line x1="55.2" y1="417.8" x2="55.2" y2="427.9" stroke="#7cc4f4" stroke-width="0.8"/>
<line x1="53.4" y1="417.8" x2="57" y2="417.8" stroke="#7cc4f4" stroke-width="0.8"/>
<line x1="53.4" y1="427.9" x2="57" y2="427.9" stroke="#7cc4f4" stroke-width="0.8"/>
<path d="M55.2,419.70000000000005 L58.6,423.1 L55.2,426.5 L51.800000000000004,423.1 Z" fill="#1e9ff0"/>
<line x1="102.9" y1="412.1" x2="102.9" y2="427.1" stroke="#7cc4f4" stroke-width="0.8"/>
<line x1="101.1" y1="412.1" x2="104.7" y2="412.1" stroke="#7cc4f4" stroke-width="0.8"/>
<line x1="101.1" y1="427.1" x2="104.7" y2="427.1" stroke="#7cc4f4" stroke-width="0.8"/>
<path d="M102.9,416.1 L106.30000000000001,419.5 L102.9,422.9 L99.5,419.5 Z" fill="#1e9ff0"/>
<line x1="150.3" y1="410.8" x2="150.3" y2="425.4" stroke="#7cc4f4" stroke-width="0.8"/>
<line x1="148.5" y1="410.8" x2="152.1" y2="410.8" stroke="#7cc4f4" stroke-width="0.8"/>
<line x1="148.5" y1="425.4" x2="152.1" y2="425.4" stroke="#7cc4f4" stroke-width="0.8"/>
<path d="M150.3,415.0 L153.70000000000002,418.4 L150.3,421.79999999999995 L146.9,418.4 Z" fill="#1e9ff0"/>
<line x1="198.1" y1="411.4" x2="198.1" y2="422.8" stroke="#7cc4f4" stroke-width="0.8"/>
<line x1="196.3" y1="411.4" x2="199.9" y2="411.4" stroke="#7cc4f4" stroke-width="0.8"/>
<line x1="196.3" y1="422.8" x2="199.9" y2="422.8" stroke="#7cc4f4" stroke-width="0.8"/>
<path d="M198.1,414.0 L201.5,417.4 L198.1,420.79999999999995 L194.7,417.4 Z" fill="#1e9ff0"/>
<rect x="193.0" y="398.1" width="9.9" height="108.3" fill="#ffc88a" opacity="0.62"/>
<line x1="197.95" y1="388.4" x2="197.95" y2="407" stroke="#f5a060" stroke-width="0.8"/>
<line x1="196.1" y1="388.4" x2="199.8" y2="388.4" stroke="#f5a060" stroke-width="0.8"/>
<line x1="196.1" y1="407" x2="199.8" y2="407" stroke="#f5a060" stroke-width="0.8"/>
<line x1="45.1" y1="392.5" x2="53.9" y2="392.5" stroke="#1e9ff0" stroke-width="1.2"/>
<path d="M49.5,389.6 L52.4,392.5 L49.5,395.4 L46.6,392.5 Z" fill="#1e9ff0"/>
<text x="59.8" y="395.3" font-size="8.3" text-anchor="start" font-weight="normal" fill="#1a1a1a" stroke="#1a1a1a" stroke-width="0.14">Pitch Length</text>
<rect x="45.1" y="400.6" width="8.8" height="4.6" fill="#ffa040"/>
<text x="59.8" y="405.4" font-size="8.3" text-anchor="start" font-weight="normal" fill="#1a1a1a" stroke="#1a1a1a" stroke-width="0.14">Height</text>
<defs><radialGradient id="gT" cx="0.38" cy="0.36" r="0.72"><stop offset="0" stop-color="#86e4e4"/><stop offset="0.35" stop-color="#38b4b4"/><stop offset="0.75" stop-color="#187a7a"/><stop offset="1" stop-color="#084242"/></radialGradient><radialGradient id="gW" cx="0.38" cy="0.36" r="0.7"><stop offset="0" stop-color="#ffffff"/><stop offset="0.55" stop-color="#eeeeee"/><stop offset="1" stop-color="#909090"/></radialGradient><radialGradient id="gR" cx="0.38" cy="0.36" r="0.7"><stop offset="0" stop-color="#ff8080"/><stop offset="0.5" stop-color="#ee1010"/><stop offset="1" stop-color="#900000"/></radialGradient><radialGradient id="gB" cx="0.38" cy="0.36" r="0.7"><stop offset="0" stop-color="#7070ff"/><stop offset="0.5" stop-color="#1515e0"/><stop offset="1" stop-color="#000080"/></radialGradient><radialGradient id="gC" cx="0.38" cy="0.34" r="0.7"><stop offset="0" stop-color="#e8e8e8"/><stop offset="0.45" stop-color="#9a9a9a"/><stop offset="1" stop-color="#555555"/></radialGradient><radialGradient id="gH" cx="0.38" cy="0.34" r="0.7"><stop offset="0" stop-color="#ffffff"/><stop offset="0.5" stop-color="#e4e4e4"/><stop offset="1" stop-color="#8a8a8a"/></radialGradient><radialGradient id="gN" cx="0.38" cy="0.34" r="0.7"><stop offset="0" stop-color="#8080ff"/><stop offset="0.45" stop-color="#1a1af0"/><stop offset="1" stop-color="#000070"/></radialGradient><radialGradient id="gO" cx="0.38" cy="0.34" r="0.7"><stop offset="0" stop-color="#ff9090"/><stop offset="0.45" stop-color="#f01010"/><stop offset="1" stop-color="#800000"/></radialGradient><radialGradient id="gS" cx="0.38" cy="0.34" r="0.7"><stop offset="0" stop-color="#fff0a0"/><stop offset="0.45" stop-color="#e8c020"/><stop offset="1" stop-color="#806000"/></radialGradient></defs>
<g fill="url(#gT)"><circle cx="302.0" cy="386.5" r="1.98"/><circle cx="304.9" cy="386.8" r="2.37"/><circle cx="307.3" cy="386.4" r="1.97"/><circle cx="313.1" cy="386.0" r="2.40"/><circle cx="300.0" cy="388.9" r="2.14"/><circle cx="304.0" cy="388.7" r="2.22"/><circle cx="305.7" cy="388.8" r="2.31"/><circle cx="309.2" cy="389.1" r="2.16"/><circle cx="312.0" cy="389.2" r="2.03"/><circle cx="314.7" cy="388.2" r="1.96"/><circle cx="317.7" cy="389.2" r="1.90"/><circle cx="298.9" cy="390.5" r="2.29"/><circle cx="301.2" cy="391.8" r="2.11"/><circle cx="305.4" cy="391.8" r="1.94"/><circle cx="307.3" cy="390.3" r="2.38"/><circle cx="310.5" cy="391.4" r="2.01"/><circle cx="313.6" cy="390.4" r="2.10"/><circle cx="315.8" cy="391.4" r="2.03"/><circle cx="318.4" cy="391.6" r="2.23"/><circle cx="322.8" cy="390.7" r="2.20"/><circle cx="293.8" cy="394.3" r="2.21"/><circle cx="297.7" cy="394.3" r="2.01"/><circle cx="300.8" cy="393.1" r="2.02"/><circle cx="302.7" cy="394.3" r="2.00"/><circle cx="305.8" cy="394.1" r="2.05"/><circle cx="308.5" cy="393.3" r="1.94"/><circle cx="312.2" cy="393.2" r="1.95"/><circle cx="315.2" cy="394.2" r="2.43"/><circle cx="317.4" cy="393.3" r="2.43"/><circle cx="319.8" cy="393.5" r="1.96"/><circle cx="290.6" cy="395.7" r="1.86"/><circle cx="293.5" cy="396.8" r="1.97"/><circle cx="296.0" cy="395.5" r="2.27"/><circle cx="299.0" cy="395.9" r="2.32"/><circle cx="302.4" cy="395.7" r="1.86"/><circle cx="304.2" cy="396.1" r="2.20"/><circle cx="307.5" cy="395.6" r="1.85"/><circle cx="310.2" cy="396.4" r="2.16"/><circle cx="313.3" cy="395.4" r="2.23"/><circle cx="316.1" cy="396.0" r="2.44"/><circle cx="319.1" cy="395.4" r="2.01"/><circle cx="321.7" cy="396.8" r="2.33"/><circle cx="288.3" cy="398.4" r="2.37"/><circle cx="291.8" cy="398.3" r="2.40"/><circle cx="294.3" cy="398.4" r="1.85"/><circle cx="297.1" cy="399.2" r="2.13"/><circle cx="300.4" cy="397.9" r="2.44"/><circle cx="303.6" cy="398.6" r="2.09"/><circle cx="306.5" cy="398.6" r="2.34"/><circle cx="308.7" cy="399.2" r="2.18"/><circle cx="311.4" cy="398.3" r="2.31"/><circle cx="314.8" cy="399.2" r="2.14"/><circle cx="317.1" cy="398.4" r="1.87"/><circle cx="320.7" cy="398.9" r="1.90"/><circle cx="322.9" cy="399.0" r="1.92"/><circle cx="286.7" cy="400.7" r="2.00"/><circle cx="290.4" cy="401.6" r="2.43"/><circle cx="293.6" cy="400.8" r="2.23"/><circle cx="295.5" cy="400.5" r="2.34"/><circle cx="298.7" cy="401.3" r="2.19"/><circle cx="302.3" cy="400.4" r="2.23"/><circle cx="304.0" cy="401.4" r="2.34"/><circle cx="307.8" cy="400.6" r="2.41"/><circle cx="309.8" cy="400.4" r="2.40"/><circle cx="313.6" cy="400.8" r="2.34"/><circle cx="315.8" cy="401.4" r="1.91"/><circle cx="318.5" cy="401.2" r="2.07"/><circle cx="321.4" cy="400.5" r="1.87"/><circle cx="282.7" cy="404.0" r="2.18"/><circle cx="285.4" cy="404.3" r="2.33"/><circle cx="289.4" cy="402.9" r="1.88"/><circle cx="290.8" cy="404.1" r="1.96"/><circle cx="294.4" cy="404.1" r="2.07"/><circle cx="297.6" cy="403.6" r="2.00"/><circle cx="300.6" cy="403.9" r="2.33"/><circle cx="302.4" cy="403.6" r="2.06"/><circle cx="306.7" cy="404.1" r="2.23"/><circle cx="309.2" cy="403.9" r="2.15"/><circle cx="312.4" cy="403.4" r="2.20"/><circle cx="314.6" cy="403.9" r="2.41"/><circle cx="318.2" cy="403.4" r="2.42"/><circle cx="320.1" cy="403.3" r="1.92"/><circle cx="323.4" cy="403.0" r="2.36"/><circle cx="285.1" cy="406.1" r="2.06"/><circle cx="287.3" cy="407.0" r="1.91"/><circle cx="290.5" cy="406.2" r="2.08"/><circle cx="293.5" cy="406.2" r="2.16"/><circle cx="296.3" cy="405.8" r="2.43"/><circle cx="298.2" cy="406.4" r="2.07"/><circle cx="301.8" cy="406.1" r="1.86"/><circle cx="304.0" cy="406.9" r="2.37"/><circle cx="308.3" cy="405.9" r="1.92"/><circle cx="313.7" cy="406.9" r="2.14"/><circle cx="315.7" cy="406.8" r="2.36"/><circle cx="319.3" cy="405.9" r="2.16"/><circle cx="322.2" cy="405.6" r="2.12"/><circle cx="325.4" cy="406.4" r="2.33"/><circle cx="285.8" cy="408.3" r="1.86"/><circle cx="288.4" cy="408.8" r="2.19"/><circle cx="291.0" cy="409.1" r="2.10"/><circle cx="296.9" cy="409.4" r="2.44"/><circle cx="300.4" cy="409.5" r="2.33"/><circle cx="317.2" cy="409.0" r="1.88"/><circle cx="320.4" cy="409.3" r="1.96"/><circle cx="324.1" cy="408.1" r="2.12"/><circle cx="302.6" cy="411.0" r="2.27"/><circle cx="295.9" cy="412.2" r="2.05"/><circle cx="298.4" cy="412.5" r="2.07"/><circle cx="300.9" cy="413.4" r="2.40"/><circle cx="303.9" cy="413.3" r="2.42"/><circle cx="306.6" cy="412.3" r="2.09"/><circle cx="310.4" cy="412.3" r="2.39"/><circle cx="318.9" cy="413.1" r="2.05"/><circle cx="296.1" cy="416.0" r="1.90"/><circle cx="299.1" cy="416.0" r="2.17"/><circle cx="303.2" cy="415.6" r="2.25"/><circle cx="305.6" cy="415.2" r="2.39"/><circle cx="308.2" cy="416.1" r="2.43"/><circle cx="311.6" cy="415.4" r="2.31"/><circle cx="314.0" cy="416.2" r="2.31"/><circle cx="317.8" cy="416.1" r="2.28"/><circle cx="320.7" cy="415.2" r="2.27"/><circle cx="292.5" cy="418.1" r="2.31"/><circle cx="296.0" cy="418.7" r="2.43"/><circle cx="297.9" cy="418.6" r="2.07"/><circle cx="301.2" cy="418.2" r="1.90"/><circle cx="303.4" cy="417.8" r="1.99"/><circle cx="307.7" cy="418.7" r="1.98"/><circle cx="309.7" cy="417.6" r="2.07"/><circle cx="313.5" cy="418.0" r="2.34"/><circle cx="316.4" cy="417.2" r="1.89"/><circle cx="318.7" cy="417.6" r="2.12"/><circle cx="320.7" cy="418.0" r="2.34"/><circle cx="325.1" cy="417.9" r="2.01"/><circle cx="291.3" cy="420.8" r="1.89"/><circle cx="294.4" cy="420.8" r="2.00"/><circle cx="296.1" cy="421.1" r="1.90"/><circle cx="300.1" cy="420.0" r="2.33"/><circle cx="302.8" cy="420.4" r="1.95"/><circle cx="304.7" cy="421.0" r="1.97"/><circle cx="308.2" cy="420.7" r="2.34"/><circle cx="311.8" cy="421.2" r="2.34"/><circle cx="314.2" cy="420.4" r="2.20"/><circle cx="316.3" cy="419.9" r="2.40"/><circle cx="320.4" cy="420.0" r="1.89"/><circle cx="322.9" cy="420.0" r="2.43"/><circle cx="289.0" cy="422.5" r="2.19"/><circle cx="293.2" cy="422.6" r="2.03"/><circle cx="295.8" cy="422.3" r="2.35"/><circle cx="298.4" cy="422.4" r="2.25"/><circle cx="300.9" cy="422.7" r="2.44"/><circle cx="304.2" cy="422.2" r="1.91"/><circle cx="306.6" cy="423.4" r="2.20"/><circle cx="310.3" cy="423.5" r="2.13"/><circle cx="312.9" cy="423.4" r="2.24"/><circle cx="315.5" cy="422.7" r="2.00"/><circle cx="319.0" cy="422.9" r="1.87"/><circle cx="320.9" cy="423.7" r="2.18"/><circle cx="323.8" cy="423.4" r="2.07"/><circle cx="326.8" cy="423.6" r="2.39"/><circle cx="285.7" cy="425.5" r="2.13"/><circle cx="288.7" cy="425.4" r="2.10"/><circle cx="291.7" cy="425.8" r="2.23"/><circle cx="294.6" cy="424.8" r="2.17"/><circle cx="296.6" cy="426.2" r="2.43"/><circle cx="299.3" cy="425.6" r="2.32"/><circle cx="302.5" cy="424.8" r="2.15"/><circle cx="304.8" cy="425.5" r="1.98"/><circle cx="308.2" cy="426.2" r="2.21"/><circle cx="311.0" cy="425.0" r="2.30"/><circle cx="313.6" cy="425.4" r="2.30"/><circle cx="317.9" cy="426.2" r="2.45"/><circle cx="320.1" cy="425.6" r="1.98"/><circle cx="323.1" cy="425.9" r="2.11"/><circle cx="325.1" cy="426.2" r="2.10"/><circle cx="283.8" cy="428.1" r="2.04"/><circle cx="286.4" cy="427.5" r="2.07"/><circle cx="289.9" cy="428.7" r="2.14"/><circle cx="292.7" cy="427.7" r="2.18"/><circle cx="295.2" cy="427.6" r="2.01"/><circle cx="298.9" cy="427.7" r="1.93"/><circle cx="300.9" cy="428.3" r="2.03"/><circle cx="304.4" cy="428.0" r="1.93"/><circle cx="306.4" cy="427.9" r="2.04"/><circle cx="310.4" cy="427.7" r="2.26"/><circle cx="312.6" cy="427.7" r="2.21"/><circle cx="315.4" cy="427.8" r="2.45"/><circle cx="318.5" cy="428.6" r="2.19"/><circle cx="322.0" cy="427.5" r="2.18"/><circle cx="323.9" cy="427.8" r="2.24"/><circle cx="285.3" cy="431.0" r="2.29"/><circle cx="287.6" cy="430.8" r="2.22"/><circle cx="290.7" cy="430.6" r="2.20"/><circle cx="293.8" cy="431.2" r="2.21"/><circle cx="296.6" cy="431.0" r="2.06"/><circle cx="299.4" cy="430.8" r="2.32"/><circle cx="303.2" cy="430.2" r="2.21"/><circle cx="305.4" cy="431.3" r="2.04"/><circle cx="308.9" cy="431.2" r="2.00"/><circle cx="311.5" cy="430.4" r="1.89"/><circle cx="313.6" cy="431.2" r="2.06"/><circle cx="316.5" cy="431.3" r="1.86"/><circle cx="320.7" cy="431.3" r="1.95"/><circle cx="286.1" cy="433.2" r="1.89"/><circle cx="290.0" cy="433.9" r="2.02"/><circle cx="292.0" cy="432.9" r="2.06"/><circle cx="295.3" cy="433.1" r="2.20"/><circle cx="297.8" cy="432.8" r="2.32"/><circle cx="300.5" cy="433.2" r="2.22"/><circle cx="304.8" cy="432.5" r="1.95"/><circle cx="307.3" cy="433.2" r="2.39"/><circle cx="309.6" cy="432.8" r="2.29"/><circle cx="313.5" cy="432.5" r="2.15"/><circle cx="315.8" cy="433.2" r="2.24"/><circle cx="319.3" cy="432.6" r="2.16"/><circle cx="320.7" cy="433.7" r="1.95"/><circle cx="324.1" cy="433.0" r="2.23"/><circle cx="285.0" cy="434.9" r="2.44"/><circle cx="288.9" cy="436.2" r="2.31"/><circle cx="291.4" cy="436.0" r="1.96"/><circle cx="293.7" cy="435.9" r="1.92"/><circle cx="297.3" cy="436.0" r="2.41"/><circle cx="300.3" cy="436.1" r="2.40"/><circle cx="303.0" cy="436.3" r="2.30"/><circle cx="306.0" cy="435.4" r="2.31"/><circle cx="308.4" cy="435.0" r="1.94"/><circle cx="311.2" cy="435.9" r="2.34"/><circle cx="313.7" cy="435.8" r="1.97"/><circle cx="316.8" cy="435.2" r="1.94"/><circle cx="319.8" cy="435.8" r="2.09"/><circle cx="289.6" cy="438.3" r="1.85"/><circle cx="291.9" cy="437.4" r="2.36"/><circle cx="296.0" cy="438.9" r="1.95"/><circle cx="298.3" cy="438.3" r="2.29"/><circle cx="301.6" cy="437.5" r="2.20"/><circle cx="304.4" cy="438.6" r="2.31"/><circle cx="306.5" cy="438.3" r="2.21"/><circle cx="310.3" cy="438.9" r="2.43"/><circle cx="312.6" cy="437.6" r="2.08"/><circle cx="316.0" cy="438.3" r="2.15"/><circle cx="318.5" cy="438.0" r="2.05"/><circle cx="320.7" cy="438.8" r="2.30"/><circle cx="290.3" cy="440.8" r="2.03"/><circle cx="293.5" cy="440.2" r="2.33"/><circle cx="296.5" cy="441.0" r="1.90"/><circle cx="299.6" cy="441.0" r="1.99"/><circle cx="303.3" cy="441.3" r="2.11"/><circle cx="305.6" cy="440.3" r="1.93"/><circle cx="308.6" cy="440.0" r="1.97"/><circle cx="311.0" cy="440.4" r="2.35"/><circle cx="314.9" cy="440.8" r="2.07"/><circle cx="316.9" cy="440.3" r="1.98"/><circle cx="320.0" cy="440.7" r="2.36"/><circle cx="286.5" cy="442.5" r="2.20"/><circle cx="290.1" cy="442.6" r="2.23"/><circle cx="292.1" cy="443.0" r="2.38"/><circle cx="294.7" cy="442.7" r="2.28"/><circle cx="297.8" cy="443.1" r="2.01"/><circle cx="300.6" cy="443.4" r="1.86"/><circle cx="304.0" cy="443.5" r="2.18"/><circle cx="306.5" cy="442.8" r="2.27"/><circle cx="309.8" cy="443.0" r="2.33"/><circle cx="312.5" cy="442.6" r="1.96"/><circle cx="315.6" cy="443.0" r="2.23"/><circle cx="318.4" cy="443.7" r="2.41"/><circle cx="320.7" cy="442.7" r="2.00"/><circle cx="325.1" cy="443.0" r="2.03"/><circle cx="285.7" cy="445.8" r="2.11"/><circle cx="288.7" cy="445.5" r="2.19"/><circle cx="290.9" cy="445.8" r="2.44"/><circle cx="294.1" cy="445.7" r="2.20"/><circle cx="296.4" cy="445.8" r="2.38"/><circle cx="300.4" cy="445.8" r="2.24"/><circle cx="302.5" cy="445.0" r="2.13"/><circle cx="306.3" cy="445.0" r="2.03"/><circle cx="307.6" cy="445.5" r="2.06"/><circle cx="312.0" cy="445.5" r="2.32"/><circle cx="314.9" cy="446.3" r="1.96"/><circle cx="316.9" cy="445.8" r="1.93"/><circle cx="319.8" cy="446.3" r="1.98"/><circle cx="323.2" cy="446.0" r="2.25"/><circle cx="326.0" cy="445.9" r="2.07"/><circle cx="287.2" cy="448.1" r="1.97"/><circle cx="289.6" cy="448.7" r="2.05"/><circle cx="292.9" cy="448.7" r="1.90"/><circle cx="295.4" cy="448.5" r="2.11"/><circle cx="297.7" cy="448.3" r="2.34"/><circle cx="300.4" cy="448.2" r="2.12"/><circle cx="303.4" cy="448.9" r="2.12"/><circle cx="307.5" cy="448.4" r="1.87"/><circle cx="310.5" cy="447.7" r="2.02"/><circle cx="313.1" cy="448.1" r="1.90"/><circle cx="316.0" cy="448.7" r="1.88"/><circle cx="319.2" cy="449.0" r="2.37"/><circle cx="321.5" cy="448.9" r="2.28"/><circle cx="282.9" cy="451.1" r="2.35"/><circle cx="285.4" cy="451.3" r="1.93"/><circle cx="287.6" cy="451.5" r="2.07"/><circle cx="290.7" cy="450.2" r="2.40"/><circle cx="294.1" cy="450.0" r="2.11"/><circle cx="297.0" cy="450.7" r="2.41"/><circle cx="300.4" cy="450.4" r="2.43"/><circle cx="302.6" cy="450.0" r="1.85"/><circle cx="305.4" cy="451.0" r="2.11"/><circle cx="307.9" cy="450.5" r="2.20"/><circle cx="311.7" cy="450.6" r="2.06"/><circle cx="313.8" cy="450.2" r="2.08"/><circle cx="316.3" cy="451.2" r="2.06"/><circle cx="319.9" cy="450.4" r="1.99"/><circle cx="322.2" cy="451.1" r="1.87"/><circle cx="287.3" cy="453.7" r="2.29"/><circle cx="289.2" cy="452.6" r="2.45"/><circle cx="293.1" cy="453.7" r="1.87"/><circle cx="295.1" cy="453.6" r="2.37"/><circle cx="297.7" cy="453.0" r="2.18"/><circle cx="301.5" cy="453.4" r="1.86"/><circle cx="304.2" cy="453.4" r="1.89"/><circle cx="306.8" cy="453.3" r="2.17"/><circle cx="310.2" cy="454.1" r="1.91"/><circle cx="312.3" cy="454.0" r="2.03"/><circle cx="315.3" cy="453.3" r="2.01"/><circle cx="318.2" cy="454.0" r="2.43"/><circle cx="321.8" cy="453.0" r="2.13"/><circle cx="284.9" cy="455.4" r="2.02"/><circle cx="291.5" cy="455.5" r="2.41"/><circle cx="293.2" cy="455.4" r="2.43"/><circle cx="296.2" cy="455.7" r="2.28"/><circle cx="311.1" cy="455.9" r="1.93"/><circle cx="313.8" cy="455.2" r="2.38"/><circle cx="316.3" cy="455.1" r="2.11"/><circle cx="304.9" cy="456.0" r="2.32"/><circle cx="298.2" cy="458.8" r="2.28"/><circle cx="300.5" cy="458.9" r="2.24"/><circle cx="303.8" cy="458.0" r="2.31"/><circle cx="306.7" cy="458.1" r="2.34"/><circle cx="310.3" cy="459.0" r="2.13"/><circle cx="312.7" cy="457.8" r="2.14"/><circle cx="315.4" cy="458.4" r="1.91"/><circle cx="319.0" cy="458.5" r="2.07"/><circle cx="291.7" cy="461.2" r="2.38"/><circle cx="294.1" cy="460.0" r="1.98"/><circle cx="296.2" cy="460.9" r="2.30"/><circle cx="299.3" cy="460.9" r="2.33"/><circle cx="302.8" cy="461.1" r="1.97"/><circle cx="306.1" cy="460.6" r="2.31"/><circle cx="308.2" cy="461.5" r="2.24"/><circle cx="311.3" cy="460.6" r="2.44"/><circle cx="314.3" cy="461.0" r="2.08"/><circle cx="316.5" cy="460.5" r="2.30"/><circle cx="319.5" cy="461.1" r="2.36"/><circle cx="323.6" cy="461.4" r="2.08"/><circle cx="289.3" cy="462.5" r="1.98"/><circle cx="291.9" cy="463.8" r="2.07"/><circle cx="295.3" cy="463.9" r="2.24"/><circle cx="297.8" cy="463.0" r="2.00"/><circle cx="302.0" cy="463.4" r="2.37"/><circle cx="304.8" cy="463.9" r="2.03"/><circle cx="307.2" cy="463.6" r="2.31"/><circle cx="310.7" cy="462.9" r="2.04"/><circle cx="313.4" cy="463.9" r="2.15"/><circle cx="315.1" cy="463.0" r="2.37"/><circle cx="318.7" cy="463.7" r="2.14"/><circle cx="321.4" cy="463.3" r="2.22"/><circle cx="323.7" cy="462.7" r="2.06"/><circle cx="285.4" cy="466.3" r="2.13"/><circle cx="287.9" cy="465.4" r="1.89"/><circle cx="290.7" cy="465.8" r="2.16"/><circle cx="294.2" cy="466.5" r="2.12"/><circle cx="296.6" cy="466.0" r="2.03"/><circle cx="299.2" cy="465.6" r="1.95"/><circle cx="302.2" cy="466.2" r="2.05"/><circle cx="305.4" cy="466.1" r="2.03"/><circle cx="308.6" cy="465.7" r="2.07"/><circle cx="311.7" cy="465.3" r="2.34"/><circle cx="314.9" cy="466.2" r="2.39"/><circle cx="317.0" cy="465.8" r="2.40"/><circle cx="320.6" cy="466.3" r="2.10"/><circle cx="323.6" cy="466.3" r="2.39"/><circle cx="326.4" cy="466.1" r="2.20"/><circle cx="287.4" cy="468.0" r="2.45"/><circle cx="289.9" cy="468.9" r="1.92"/><circle cx="291.9" cy="468.6" r="2.30"/><circle cx="295.8" cy="469.0" r="2.20"/><circle cx="297.7" cy="468.6" r="2.16"/><circle cx="301.4" cy="468.6" r="2.30"/><circle cx="304.2" cy="469.0" r="2.35"/><circle cx="307.7" cy="468.1" r="2.35"/><circle cx="309.8" cy="467.9" r="2.06"/><circle cx="313.5" cy="468.0" r="2.08"/><circle cx="316.5" cy="467.5" r="2.21"/><circle cx="319.4" cy="468.0" r="1.88"/><circle cx="321.1" cy="467.6" r="2.34"/><circle cx="324.9" cy="468.2" r="2.20"/><circle cx="285.8" cy="470.2" r="2.12"/><circle cx="288.9" cy="470.1" r="2.23"/><circle cx="291.2" cy="470.4" r="2.42"/><circle cx="293.7" cy="470.9" r="2.33"/><circle cx="296.2" cy="470.6" r="2.24"/><circle cx="299.4" cy="471.3" r="1.97"/><circle cx="303.2" cy="470.9" r="2.43"/><circle cx="305.8" cy="470.7" r="2.08"/><circle cx="307.9" cy="471.4" r="2.39"/><circle cx="311.2" cy="470.7" r="2.15"/><circle cx="315.1" cy="471.6" r="2.25"/><circle cx="316.9" cy="471.4" r="2.38"/><circle cx="320.6" cy="470.6" r="1.89"/><circle cx="323.1" cy="471.5" r="2.03"/><circle cx="325.8" cy="470.7" r="1.96"/><circle cx="287.1" cy="473.3" r="1.88"/><circle cx="290.1" cy="472.8" r="2.06"/><circle cx="292.6" cy="473.6" r="2.40"/><circle cx="294.9" cy="473.0" r="2.00"/><circle cx="298.1" cy="473.6" r="1.92"/><circle cx="301.9" cy="472.6" r="2.42"/><circle cx="304.5" cy="473.5" r="2.15"/><circle cx="307.7" cy="473.3" r="2.13"/><circle cx="310.4" cy="473.4" r="2.26"/><circle cx="312.2" cy="473.6" r="2.34"/><circle cx="316.1" cy="474.1" r="1.99"/><circle cx="318.1" cy="472.7" r="1.97"/><circle cx="322.3" cy="473.0" r="2.10"/><circle cx="324.2" cy="472.7" r="2.36"/><circle cx="288.0" cy="475.5" r="2.41"/><circle cx="291.6" cy="476.5" r="1.96"/><circle cx="294.1" cy="475.9" r="2.26"/><circle cx="296.5" cy="476.5" r="2.12"/><circle cx="299.4" cy="475.8" r="2.38"/><circle cx="302.9" cy="476.6" r="2.03"/><circle cx="305.1" cy="476.5" r="2.01"/><circle cx="309.0" cy="475.4" r="1.86"/><circle cx="311.3" cy="476.6" r="2.37"/><circle cx="314.5" cy="475.5" r="1.95"/><circle cx="318.0" cy="475.9" r="2.02"/><circle cx="320.0" cy="475.2" r="2.00"/><circle cx="322.4" cy="475.8" r="2.40"/><circle cx="286.9" cy="477.9" r="1.90"/><circle cx="289.2" cy="478.3" r="2.05"/><circle cx="292.2" cy="478.2" r="2.26"/><circle cx="295.9" cy="477.6" r="1.95"/><circle cx="299.1" cy="479.2" r="2.20"/><circle cx="300.9" cy="478.9" r="2.10"/><circle cx="303.5" cy="478.6" r="1.86"/><circle cx="306.5" cy="478.2" r="2.21"/><circle cx="310.6" cy="478.5" r="2.06"/><circle cx="312.7" cy="477.8" r="1.98"/><circle cx="315.2" cy="479.0" r="2.44"/><circle cx="318.0" cy="478.6" r="2.35"/><circle cx="287.4" cy="481.3" r="2.12"/><circle cx="290.6" cy="481.2" r="2.04"/><circle cx="294.5" cy="481.6" r="1.86"/><circle cx="296.3" cy="481.2" r="2.29"/><circle cx="299.4" cy="481.2" r="2.01"/><circle cx="302.0" cy="481.1" r="2.16"/><circle cx="306.0" cy="481.5" r="2.23"/><circle cx="307.9" cy="480.2" r="2.30"/><circle cx="310.7" cy="481.3" r="1.94"/><circle cx="314.6" cy="481.4" r="1.90"/><circle cx="317.6" cy="480.5" r="2.31"/><circle cx="320.3" cy="480.2" r="1.88"/><circle cx="284.3" cy="483.6" r="2.09"/><circle cx="286.3" cy="482.9" r="1.87"/><circle cx="289.5" cy="483.7" r="1.97"/><circle cx="292.8" cy="483.8" r="1.96"/><circle cx="295.5" cy="483.0" r="2.35"/><circle cx="299.0" cy="483.3" r="2.30"/><circle cx="301.6" cy="483.8" r="2.00"/><circle cx="304.4" cy="483.9" r="2.20"/><circle cx="307.7" cy="484.0" r="2.15"/><circle cx="310.7" cy="483.8" r="1.90"/><circle cx="313.5" cy="484.2" r="2.06"/><circle cx="315.5" cy="483.4" r="2.30"/><circle cx="318.6" cy="483.0" r="1.93"/><circle cx="321.4" cy="483.3" r="1.99"/><circle cx="282.5" cy="485.6" r="2.06"/><circle cx="285.7" cy="486.0" r="1.85"/><circle cx="288.4" cy="485.9" r="2.31"/><circle cx="291.6" cy="486.1" r="2.09"/><circle cx="294.1" cy="486.2" r="2.23"/><circle cx="296.9" cy="486.3" r="2.17"/><circle cx="299.5" cy="486.4" r="2.32"/><circle cx="303.1" cy="485.7" r="2.25"/><circle cx="304.9" cy="486.3" r="2.09"/><circle cx="308.8" cy="485.2" r="1.92"/><circle cx="311.6" cy="486.4" r="2.10"/><circle cx="314.2" cy="485.2" r="1.85"/><circle cx="317.1" cy="485.9" r="1.90"/><circle cx="320.0" cy="485.8" r="2.35"/><circle cx="322.9" cy="485.5" r="2.16"/><circle cx="280.4" cy="488.1" r="2.32"/><circle cx="283.8" cy="488.4" r="2.29"/><circle cx="286.8" cy="488.4" r="2.17"/><circle cx="289.8" cy="487.7" r="2.29"/><circle cx="292.6" cy="487.9" r="2.42"/><circle cx="295.7" cy="487.8" r="2.42"/><circle cx="297.8" cy="488.1" r="2.00"/><circle cx="301.4" cy="488.3" r="2.40"/><circle cx="304.8" cy="489.1" r="2.13"/><circle cx="307.3" cy="489.2" r="1.98"/><circle cx="309.4" cy="488.3" r="2.10"/><circle cx="312.4" cy="489.2" r="2.20"/><circle cx="315.1" cy="488.4" r="2.38"/><circle cx="318.0" cy="489.2" r="2.39"/><circle cx="321.7" cy="488.0" r="2.19"/><circle cx="285.7" cy="491.2" r="2.33"/><circle cx="288.7" cy="490.5" r="2.17"/><circle cx="291.8" cy="491.1" r="1.91"/><circle cx="293.3" cy="491.3" r="2.11"/><circle cx="296.8" cy="490.9" r="2.27"/><circle cx="299.6" cy="491.8" r="2.30"/><circle cx="302.7" cy="491.3" r="2.26"/><circle cx="306.4" cy="491.7" r="1.85"/><circle cx="308.1" cy="491.3" r="2.26"/><circle cx="311.5" cy="490.5" r="2.44"/><circle cx="314.8" cy="491.7" r="1.98"/><circle cx="317.3" cy="491.4" r="2.28"/><circle cx="320.7" cy="490.6" r="1.97"/><circle cx="322.3" cy="490.6" r="2.31"/><circle cx="326.3" cy="491.6" r="2.41"/><circle cx="289.7" cy="493.7" r="1.97"/><circle cx="293.2" cy="494.1" r="2.35"/><circle cx="296.0" cy="493.7" r="2.03"/><circle cx="298.2" cy="493.1" r="2.38"/><circle cx="301.1" cy="494.3" r="1.87"/><circle cx="304.6" cy="493.1" r="2.30"/><circle cx="307.1" cy="493.2" r="1.98"/><circle cx="309.6" cy="492.9" r="2.07"/><circle cx="313.3" cy="493.4" r="1.94"/><circle cx="315.4" cy="493.3" r="2.33"/><circle cx="318.0" cy="493.9" r="1.97"/><circle cx="321.5" cy="494.3" r="2.06"/><circle cx="325.1" cy="494.0" r="2.07"/><circle cx="294.5" cy="495.9" r="2.01"/><circle cx="296.7" cy="496.7" r="1.98"/><circle cx="300.0" cy="496.1" r="2.30"/><circle cx="302.8" cy="496.0" r="2.20"/><circle cx="305.1" cy="496.2" r="2.31"/><circle cx="308.0" cy="495.8" r="1.94"/><circle cx="311.5" cy="496.4" r="2.18"/><circle cx="314.7" cy="495.4" r="1.90"/><circle cx="316.9" cy="496.0" r="1.91"/><circle cx="320.5" cy="496.8" r="2.11"/><circle cx="322.7" cy="496.8" r="2.21"/><circle cx="326.2" cy="496.1" r="2.28"/><circle cx="301.1" cy="498.9" r="2.19"/><circle cx="306.5" cy="499.3" r="1.90"/><circle cx="309.2" cy="497.9" r="2.08"/><circle cx="312.8" cy="498.5" r="2.29"/><circle cx="316.4" cy="498.3" r="2.42"/><circle cx="318.3" cy="498.8" r="2.39"/><circle cx="321.5" cy="498.9" r="2.14"/><circle cx="309.3" cy="500.4" r="2.41"/><circle cx="311.0" cy="500.5" r="2.00"/><circle cx="314.4" cy="501.3" r="2.22"/><circle cx="317.8" cy="500.5" r="2.31"/><circle cx="312.3" cy="502.9" r="1.85"/><circle cx="315.9" cy="503.0" r="1.90"/><circle cx="301.7" cy="502.5" r="2.04"/><circle cx="293.3" cy="505.0" r="1.98"/><circle cx="296.4" cy="504.9" r="1.95"/><circle cx="300.1" cy="505.1" r="2.18"/><circle cx="303.4" cy="505.5" r="2.23"/><circle cx="305.6" cy="505.5" r="2.14"/><circle cx="309.1" cy="505.8" r="2.27"/><circle cx="316.8" cy="504.9" r="2.04"/><circle cx="289.3" cy="507.9" r="2.07"/><circle cx="293.0" cy="507.4" r="1.93"/><circle cx="295.6" cy="507.8" r="1.98"/><circle cx="298.5" cy="507.4" r="2.14"/><circle cx="301.0" cy="507.2" r="2.35"/><circle cx="303.9" cy="507.1" r="2.13"/><circle cx="307.2" cy="507.1" r="2.38"/><circle cx="310.4" cy="508.5" r="2.41"/><circle cx="312.2" cy="507.2" r="2.31"/><circle cx="315.7" cy="508.4" r="2.32"/><circle cx="291.9" cy="510.7" r="1.86"/><circle cx="294.2" cy="510.1" r="2.27"/><circle cx="296.4" cy="511.0" r="1.87"/><circle cx="300.4" cy="509.6" r="2.30"/><circle cx="302.2" cy="510.7" r="2.10"/><circle cx="305.8" cy="510.0" r="1.90"/><circle cx="308.3" cy="510.9" r="2.41"/><circle cx="312.0" cy="510.6" r="1.96"/><circle cx="314.6" cy="510.4" r="2.43"/><circle cx="316.5" cy="510.2" r="2.32"/><circle cx="320.8" cy="510.3" r="2.40"/><circle cx="322.7" cy="510.8" r="2.23"/><circle cx="289.9" cy="512.6" r="2.06"/><circle cx="292.9" cy="512.9" r="2.27"/><circle cx="295.5" cy="512.4" r="2.13"/><circle cx="298.6" cy="513.0" r="2.29"/><circle cx="300.6" cy="512.1" r="2.42"/><circle cx="304.6" cy="513.4" r="1.88"/><circle cx="307.6" cy="513.1" r="1.95"/><circle cx="309.9" cy="512.9" r="2.11"/><circle cx="312.1" cy="512.2" r="1.87"/><circle cx="315.2" cy="513.4" r="2.07"/><circle cx="318.4" cy="512.3" r="2.10"/><circle cx="322.3" cy="513.2" r="1.95"/><circle cx="324.2" cy="513.6" r="1.88"/><circle cx="327.3" cy="512.0" r="2.23"/><circle cx="288.5" cy="515.1" r="1.99"/><circle cx="290.5" cy="515.5" r="2.27"/><circle cx="294.1" cy="514.7" r="2.10"/><circle cx="296.4" cy="515.6" r="2.39"/><circle cx="299.2" cy="514.6" r="2.03"/><circle cx="302.9" cy="515.3" r="2.17"/><circle cx="306.3" cy="515.4" r="2.02"/><circle cx="307.8" cy="514.7" r="2.42"/><circle cx="311.7" cy="515.7" r="2.02"/><circle cx="314.1" cy="515.8" r="2.26"/><circle cx="316.9" cy="514.7" r="2.06"/><circle cx="320.0" cy="515.1" r="2.26"/><circle cx="322.9" cy="515.8" r="2.22"/><circle cx="326.4" cy="514.8" r="2.31"/><circle cx="283.7" cy="517.9" r="2.23"/><circle cx="286.5" cy="518.3" r="2.12"/><circle cx="289.7" cy="517.5" r="2.12"/><circle cx="292.1" cy="517.6" r="1.94"/><circle cx="295.6" cy="517.6" r="1.92"/><circle cx="298.2" cy="518.1" r="1.94"/><circle cx="301.2" cy="517.5" r="2.41"/><circle cx="303.6" cy="517.2" r="2.25"/><circle cx="306.6" cy="517.2" r="2.39"/><circle cx="310.5" cy="517.3" r="2.22"/><circle cx="312.6" cy="517.8" r="1.98"/><circle cx="316.4" cy="518.4" r="1.86"/><circle cx="318.8" cy="517.1" r="2.17"/><circle cx="321.5" cy="517.4" r="2.43"/><circle cx="324.5" cy="517.4" r="2.33"/><circle cx="285.2" cy="519.7" r="1.89"/><circle cx="287.6" cy="520.8" r="2.07"/><circle cx="291.2" cy="520.6" r="1.93"/><circle cx="294.0" cy="521.1" r="2.01"/><circle cx="297.4" cy="519.9" r="2.26"/><circle cx="299.8" cy="519.7" r="2.05"/><circle cx="302.5" cy="520.6" r="2.16"/><circle cx="305.8" cy="521.0" r="2.02"/><circle cx="307.9" cy="520.5" r="2.10"/><circle cx="311.8" cy="520.0" r="2.08"/><circle cx="313.6" cy="519.7" r="2.20"/><circle cx="317.0" cy="520.6" r="1.90"/><circle cx="319.7" cy="520.2" r="2.45"/><circle cx="322.6" cy="521.1" r="1.93"/><circle cx="284.1" cy="522.5" r="1.88"/><circle cx="286.5" cy="522.6" r="2.40"/><circle cx="290.2" cy="523.2" r="2.07"/><circle cx="293.1" cy="522.2" r="1.85"/><circle cx="295.5" cy="523.2" r="2.00"/><circle cx="298.1" cy="523.0" r="2.34"/><circle cx="301.8" cy="523.2" r="2.30"/><circle cx="303.9" cy="523.4" r="2.24"/><circle cx="307.8" cy="522.1" r="2.35"/><circle cx="310.2" cy="523.0" r="2.13"/><circle cx="313.5" cy="522.1" r="2.40"/><circle cx="316.3" cy="522.2" r="2.01"/><circle cx="319.5" cy="522.8" r="2.15"/><circle cx="321.1" cy="522.3" r="2.35"/><circle cx="324.0" cy="522.9" r="2.18"/><circle cx="297.0" cy="524.7" r="1.99"/><circle cx="300.0" cy="524.9" r="2.05"/><circle cx="313.8" cy="525.0" r="2.37"/><circle cx="317.9" cy="524.7" r="2.17"/><circle cx="319.9" cy="525.1" r="2.06"/><circle cx="322.8" cy="525.5" r="2.22"/><circle cx="315.9" cy="527.5" r="1.94"/><circle cx="349.0" cy="377.8" r="2.29"/><circle cx="345.6" cy="380.3" r="2.07"/><circle cx="348.4" cy="380.5" r="2.16"/><circle cx="350.9" cy="380.7" r="2.06"/><circle cx="343.9" cy="382.8" r="2.36"/><circle cx="347.3" cy="382.8" r="1.96"/><circle cx="350.3" cy="383.4" r="2.37"/><circle cx="337.4" cy="385.4" r="2.25"/><circle cx="339.3" cy="385.4" r="1.96"/><circle cx="342.4" cy="385.1" r="1.94"/><circle cx="345.8" cy="384.8" r="2.01"/><circle cx="349.0" cy="385.0" r="2.12"/><circle cx="350.9" cy="385.9" r="2.42"/><circle cx="354.3" cy="385.0" r="2.32"/><circle cx="357.5" cy="385.7" r="2.02"/><circle cx="362.2" cy="385.6" r="2.14"/><circle cx="335.3" cy="387.8" r="1.88"/><circle cx="338.5" cy="388.4" r="2.32"/><circle cx="341.7" cy="388.3" r="2.28"/><circle cx="343.5" cy="387.7" r="2.24"/><circle cx="347.6" cy="387.1" r="2.21"/><circle cx="349.4" cy="387.6" r="1.89"/><circle cx="352.2" cy="387.2" r="2.16"/><circle cx="355.8" cy="388.1" r="2.21"/><circle cx="358.2" cy="387.0" r="2.22"/><circle cx="360.7" cy="387.1" r="2.39"/><circle cx="365.1" cy="388.0" r="2.05"/><circle cx="366.6" cy="387.5" r="2.00"/><circle cx="370.0" cy="388.3" r="2.11"/><circle cx="333.8" cy="390.7" r="2.22"/><circle cx="337.0" cy="389.6" r="2.36"/><circle cx="339.8" cy="390.8" r="2.30"/><circle cx="342.8" cy="390.4" r="2.16"/><circle cx="345.3" cy="389.5" r="2.08"/><circle cx="349.0" cy="389.9" r="2.30"/><circle cx="351.4" cy="389.9" r="2.07"/><circle cx="354.3" cy="389.8" r="2.10"/><circle cx="356.5" cy="389.8" r="1.86"/><circle cx="359.5" cy="390.4" r="2.15"/><circle cx="362.5" cy="390.8" r="1.97"/><circle cx="366.0" cy="389.9" r="2.43"/><circle cx="368.3" cy="389.4" r="1.91"/><circle cx="371.8" cy="389.8" r="1.87"/><circle cx="329.0" cy="393.4" r="2.16"/><circle cx="332.5" cy="393.2" r="2.44"/><circle cx="335.8" cy="393.4" r="2.01"/><circle cx="338.8" cy="392.6" r="1.93"/><circle cx="341.5" cy="392.6" r="1.90"/><circle cx="343.3" cy="393.3" r="1.85"/><circle cx="347.3" cy="392.2" r="2.22"/><circle cx="350.3" cy="392.3" r="2.06"/><circle cx="352.1" cy="392.1" r="2.34"/><circle cx="354.8" cy="393.1" r="1.98"/><circle cx="357.9" cy="393.4" r="2.18"/><circle cx="362.2" cy="392.0" r="1.88"/><circle cx="364.2" cy="392.1" r="2.04"/><circle cx="366.8" cy="392.9" r="2.39"/><circle cx="370.8" cy="392.3" r="2.21"/><circle cx="334.2" cy="395.1" r="2.13"/><circle cx="336.5" cy="395.3" r="2.41"/><circle cx="339.5" cy="394.8" r="2.06"/><circle cx="343.3" cy="394.7" r="1.89"/><circle cx="345.7" cy="395.4" r="2.12"/><circle cx="347.9" cy="395.5" r="2.20"/><circle cx="351.2" cy="395.1" r="2.33"/><circle cx="354.3" cy="395.7" r="2.07"/><circle cx="357.5" cy="395.1" r="2.16"/><circle cx="360.7" cy="395.3" r="2.38"/><circle cx="362.4" cy="395.6" r="2.23"/><circle cx="365.6" cy="395.8" r="2.01"/><circle cx="368.9" cy="396.0" r="2.41"/><circle cx="371.0" cy="395.2" r="2.19"/><circle cx="331.8" cy="397.2" r="2.35"/><circle cx="336.0" cy="397.1" r="2.33"/><circle cx="337.6" cy="397.6" r="2.25"/><circle cx="340.8" cy="397.7" r="2.03"/><circle cx="343.4" cy="397.8" r="2.24"/><circle cx="347.7" cy="397.7" r="1.92"/><circle cx="349.2" cy="397.5" r="2.25"/><circle cx="353.2" cy="398.3" r="2.17"/><circle cx="356.1" cy="397.4" r="2.04"/><circle cx="359.0" cy="398.5" r="2.12"/><circle cx="360.6" cy="398.1" r="2.02"/><circle cx="364.3" cy="397.7" r="2.13"/><circle cx="366.7" cy="398.4" r="2.11"/><circle cx="370.1" cy="397.4" r="2.15"/><circle cx="331.1" cy="401.0" r="1.87"/><circle cx="333.8" cy="399.8" r="1.92"/><circle cx="336.9" cy="400.6" r="2.36"/><circle cx="339.1" cy="399.7" r="1.96"/><circle cx="342.0" cy="400.9" r="2.04"/><circle cx="345.4" cy="400.8" r="2.27"/><circle cx="348.2" cy="401.0" r="2.08"/><circle cx="350.7" cy="400.2" r="2.09"/><circle cx="354.8" cy="400.3" r="1.87"/><circle cx="356.7" cy="400.3" r="2.11"/><circle cx="359.5" cy="400.5" r="2.19"/><circle cx="362.3" cy="400.6" r="2.11"/><circle cx="366.4" cy="399.6" r="2.08"/><circle cx="368.6" cy="400.7" r="1.95"/><circle cx="332.7" cy="402.1" r="2.08"/><circle cx="335.1" cy="402.4" r="1.88"/><circle cx="338.2" cy="402.1" r="2.02"/><circle cx="340.7" cy="402.8" r="1.86"/><circle cx="344.2" cy="403.3" r="1.95"/><circle cx="346.6" cy="403.6" r="1.89"/><circle cx="349.1" cy="402.1" r="2.41"/><circle cx="353.2" cy="402.5" r="2.17"/><circle cx="354.8" cy="402.1" r="1.99"/><circle cx="357.9" cy="402.5" r="2.22"/><circle cx="361.3" cy="402.8" r="2.01"/><circle cx="364.9" cy="403.0" r="2.24"/><circle cx="367.7" cy="403.3" r="2.16"/><circle cx="336.7" cy="404.7" r="2.09"/><circle cx="339.3" cy="405.4" r="2.39"/><circle cx="346.1" cy="405.6" r="2.26"/><circle cx="348.0" cy="405.3" r="2.42"/><circle cx="351.9" cy="405.7" r="2.01"/><circle cx="354.1" cy="405.5" r="2.08"/><circle cx="356.7" cy="405.4" r="2.25"/><circle cx="360.7" cy="406.1" r="2.22"/><circle cx="362.7" cy="405.1" r="2.01"/><circle cx="365.8" cy="405.8" r="1.91"/><circle cx="355.1" cy="407.0" r="2.35"/><circle cx="339.1" cy="409.9" r="2.05"/><circle cx="341.4" cy="409.9" r="1.85"/><circle cx="344.6" cy="410.0" r="2.27"/><circle cx="347.6" cy="408.9" r="2.05"/><circle cx="351.5" cy="409.5" r="2.29"/><circle cx="353.0" cy="409.8" r="1.92"/><circle cx="356.0" cy="408.9" r="2.00"/><circle cx="359.4" cy="409.4" r="2.40"/><circle cx="334.8" cy="412.3" r="2.22"/><circle cx="337.3" cy="411.4" r="2.09"/><circle cx="340.0" cy="411.0" r="2.36"/><circle cx="343.9" cy="412.2" r="2.25"/><circle cx="346.8" cy="411.4" r="1.96"/><circle cx="348.7" cy="411.1" r="2.01"/><circle cx="353.0" cy="411.9" r="2.38"/><circle cx="355.2" cy="412.0" r="2.41"/><circle cx="358.2" cy="411.9" r="2.27"/><circle cx="360.8" cy="412.5" r="2.17"/><circle cx="363.9" cy="411.8" r="2.40"/><circle cx="335.8" cy="414.5" r="2.25"/><circle cx="339.8" cy="414.8" r="2.41"/><circle cx="341.4" cy="413.6" r="2.27"/><circle cx="344.3" cy="413.6" r="1.98"/><circle cx="347.5" cy="415.1" r="2.38"/><circle cx="350.1" cy="414.6" r="2.17"/><circle cx="354.1" cy="414.3" r="2.06"/><circle cx="356.7" cy="415.0" r="1.99"/><circle cx="359.0" cy="413.6" r="2.01"/><circle cx="362.5" cy="414.4" r="2.18"/><circle cx="364.9" cy="414.8" r="1.88"/><circle cx="332.4" cy="417.2" r="2.07"/><circle cx="334.7" cy="417.5" r="2.00"/><circle cx="337.7" cy="416.2" r="1.91"/><circle cx="341.0" cy="417.0" r="2.15"/><circle cx="342.9" cy="416.2" r="2.06"/><circle cx="345.9" cy="417.6" r="2.38"/><circle cx="349.0" cy="416.8" r="2.17"/><circle cx="351.8" cy="416.5" r="1.94"/><circle cx="355.8" cy="417.3" r="1.90"/><circle cx="358.3" cy="417.4" r="2.19"/><circle cx="360.3" cy="417.6" r="2.32"/><circle cx="364.2" cy="416.1" r="2.10"/><circle cx="365.9" cy="416.8" r="2.17"/><circle cx="333.1" cy="419.5" r="2.33"/><circle cx="336.2" cy="419.6" r="2.24"/><circle cx="338.5" cy="419.9" r="2.21"/><circle cx="342.8" cy="420.0" r="2.39"/><circle cx="344.5" cy="419.4" r="1.95"/><circle cx="347.6" cy="419.8" r="1.95"/><circle cx="350.0" cy="418.6" r="2.42"/><circle cx="353.6" cy="420.0" r="2.33"/><circle cx="357.1" cy="419.2" r="2.44"/><circle cx="359.9" cy="419.8" r="2.17"/><circle cx="362.2" cy="419.8" r="2.10"/><circle cx="364.8" cy="418.9" r="2.42"/><circle cx="367.9" cy="419.4" r="2.22"/><circle cx="326.9" cy="421.9" r="2.10"/><circle cx="329.6" cy="422.0" r="2.11"/><circle cx="331.1" cy="421.3" r="2.14"/><circle cx="334.3" cy="421.6" r="1.89"/><circle cx="337.7" cy="421.2" r="1.94"/><circle cx="340.5" cy="421.3" r="2.23"/><circle cx="343.5" cy="422.1" r="2.26"/><circle cx="346.9" cy="422.2" r="2.38"/><circle cx="348.8" cy="421.7" r="2.19"/><circle cx="352.1" cy="422.2" r="1.94"/><circle cx="355.2" cy="421.2" r="2.26"/><circle cx="357.5" cy="422.5" r="1.95"/><circle cx="360.8" cy="422.3" r="2.17"/><circle cx="363.8" cy="421.5" r="1.97"/><circle cx="366.6" cy="421.9" r="2.02"/><circle cx="368.9" cy="422.6" r="2.37"/><circle cx="330.2" cy="424.5" r="2.18"/><circle cx="332.8" cy="424.5" r="2.30"/><circle cx="335.7" cy="423.9" r="1.94"/><circle cx="339.4" cy="424.5" r="2.12"/><circle cx="342.0" cy="424.1" r="2.09"/><circle cx="344.3" cy="424.6" r="2.44"/><circle cx="348.3" cy="423.6" r="2.29"/><circle cx="351.1" cy="425.2" r="2.34"/><circle cx="352.9" cy="423.7" r="2.26"/><circle cx="357.2" cy="425.0" r="1.89"/><circle cx="360.0" cy="425.1" r="2.32"/><circle cx="361.9" cy="423.7" r="2.29"/><circle cx="364.8" cy="424.8" r="2.27"/><circle cx="368.0" cy="425.0" r="2.11"/><circle cx="370.3" cy="424.4" r="2.01"/><circle cx="329.1" cy="427.1" r="2.15"/><circle cx="332.6" cy="427.3" r="2.09"/><circle cx="334.5" cy="426.6" r="1.91"/><circle cx="337.3" cy="426.6" r="2.31"/><circle cx="341.1" cy="427.4" r="2.25"/><circle cx="342.8" cy="427.0" r="1.94"/><circle cx="346.4" cy="426.7" r="2.22"/><circle cx="348.7" cy="427.3" r="2.42"/><circle cx="351.5" cy="426.9" r="2.17"/><circle cx="354.6" cy="427.0" r="1.88"/><circle cx="358.0" cy="426.2" r="2.43"/><circle cx="360.4" cy="427.1" r="2.24"/><circle cx="364.2" cy="427.4" r="2.14"/><circle cx="366.7" cy="427.4" r="2.42"/><circle cx="370.4" cy="427.5" r="2.12"/><circle cx="328.3" cy="430.1" r="1.98"/><circle cx="330.4" cy="429.6" r="1.85"/><circle cx="332.9" cy="429.3" r="2.33"/><circle cx="335.7" cy="429.3" r="1.94"/><circle cx="338.9" cy="429.5" r="2.33"/><circle cx="342.5" cy="429.8" r="1.90"/><circle cx="344.7" cy="429.4" r="2.23"/><circle cx="347.6" cy="429.6" r="1.86"/><circle cx="350.3" cy="429.2" r="2.28"/><circle cx="354.3" cy="428.8" r="1.86"/><circle cx="356.2" cy="429.6" r="2.39"/><circle cx="360.0" cy="429.5" r="2.20"/><circle cx="362.6" cy="430.2" r="2.33"/><circle cx="366.0" cy="428.8" r="2.40"/><circle cx="368.3" cy="429.7" r="2.20"/><circle cx="370.6" cy="430.0" r="2.18"/><circle cx="329.5" cy="431.8" r="2.41"/><circle cx="332.2" cy="432.3" r="2.26"/><circle cx="335.0" cy="431.3" r="2.33"/><circle cx="337.9" cy="431.9" r="2.15"/><circle cx="340.3" cy="431.2" r="2.45"/><circle cx="343.8" cy="431.2" r="2.19"/><circle cx="345.7" cy="431.8" r="1.93"/><circle cx="352.4" cy="431.2" r="1.87"/><circle cx="355.4" cy="432.7" r="2.35"/><circle cx="358.6" cy="432.0" r="1.91"/><circle cx="361.6" cy="431.8" r="2.20"/><circle cx="363.7" cy="432.0" r="2.15"/><circle cx="366.1" cy="431.7" r="2.34"/><circle cx="370.0" cy="431.4" r="2.07"/><circle cx="333.6" cy="434.4" r="1.95"/><circle cx="335.6" cy="434.0" r="1.96"/><circle cx="356.3" cy="433.7" r="1.92"/><circle cx="359.1" cy="434.9" r="2.16"/><circle cx="362.2" cy="434.7" r="1.89"/><circle cx="365.2" cy="435.0" r="2.10"/><circle cx="342.7" cy="431.7" r="1.99"/><circle cx="348.3" cy="431.6" r="1.94"/><circle cx="341.9" cy="434.1" r="2.29"/><circle cx="344.7" cy="434.4" r="2.33"/><circle cx="347.1" cy="434.3" r="2.29"/><circle cx="349.6" cy="433.4" r="2.09"/><circle cx="353.5" cy="433.7" r="2.13"/><circle cx="355.2" cy="433.7" r="2.28"/><circle cx="334.2" cy="436.5" r="2.24"/><circle cx="337.1" cy="435.6" r="2.17"/><circle cx="340.1" cy="436.7" r="1.99"/><circle cx="342.4" cy="436.7" r="2.00"/><circle cx="345.4" cy="435.4" r="2.18"/><circle cx="348.1" cy="436.1" r="2.32"/><circle cx="351.4" cy="435.8" r="2.08"/><circle cx="354.3" cy="435.4" r="2.19"/><circle cx="360.1" cy="436.4" r="2.44"/><circle cx="339.1" cy="438.9" r="2.06"/><circle cx="341.0" cy="438.2" r="2.33"/><circle cx="343.8" cy="438.6" r="2.20"/><circle cx="347.5" cy="438.7" r="2.08"/><circle cx="349.5" cy="437.9" r="2.16"/><circle cx="352.3" cy="439.1" r="1.89"/><circle cx="356.0" cy="438.6" r="2.20"/><circle cx="359.3" cy="438.7" r="2.35"/><circle cx="361.7" cy="438.8" r="1.89"/><circle cx="364.3" cy="437.9" r="2.24"/><circle cx="366.6" cy="438.1" r="1.88"/><circle cx="334.8" cy="440.7" r="1.92"/><circle cx="337.2" cy="440.6" r="2.23"/><circle cx="339.4" cy="440.8" r="2.17"/><circle cx="341.9" cy="440.9" r="1.96"/><circle cx="345.6" cy="440.7" r="2.06"/><circle cx="348.1" cy="441.7" r="1.92"/><circle cx="350.6" cy="441.7" r="2.26"/><circle cx="354.1" cy="440.9" r="2.26"/><circle cx="356.5" cy="440.8" r="2.43"/><circle cx="359.4" cy="440.9" r="2.26"/><circle cx="362.6" cy="441.0" r="2.40"/><circle cx="365.9" cy="441.6" r="2.33"/><circle cx="369.0" cy="442.0" r="2.20"/><circle cx="371.2" cy="441.9" r="2.17"/><circle cx="335.0" cy="443.5" r="1.91"/><circle cx="337.7" cy="443.7" r="1.95"/><circle cx="342.0" cy="443.5" r="2.21"/><circle cx="344.0" cy="443.9" r="2.08"/><circle cx="347.7" cy="444.2" r="1.92"/><circle cx="349.3" cy="444.3" r="2.34"/><circle cx="353.0" cy="443.9" r="2.07"/><circle cx="356.0" cy="443.0" r="1.89"/><circle cx="358.3" cy="444.1" r="1.91"/><circle cx="361.4" cy="443.9" r="1.89"/><circle cx="364.5" cy="444.5" r="1.98"/><circle cx="367.0" cy="443.3" r="2.18"/><circle cx="369.6" cy="443.1" r="2.15"/><circle cx="372.4" cy="443.6" r="1.97"/><circle cx="334.7" cy="447.0" r="1.93"/><circle cx="337.1" cy="446.8" r="2.13"/><circle cx="339.9" cy="447.0" r="2.22"/><circle cx="342.9" cy="445.8" r="2.14"/><circle cx="345.4" cy="446.0" r="2.15"/><circle cx="347.8" cy="446.5" r="2.40"/><circle cx="351.1" cy="446.3" r="2.35"/><circle cx="353.7" cy="446.4" r="2.30"/><circle cx="356.5" cy="446.6" r="2.09"/><circle cx="360.3" cy="446.5" r="2.19"/><circle cx="362.7" cy="445.5" r="2.29"/><circle cx="365.2" cy="446.6" r="2.11"/><circle cx="368.6" cy="446.0" r="1.88"/><circle cx="371.3" cy="446.8" r="2.25"/><circle cx="374.5" cy="446.9" r="2.37"/><circle cx="334.8" cy="448.4" r="2.04"/><circle cx="337.7" cy="449.2" r="2.32"/><circle cx="340.8" cy="448.2" r="2.28"/><circle cx="344.0" cy="448.6" r="2.24"/><circle cx="346.7" cy="448.3" r="1.87"/><circle cx="350.1" cy="448.6" r="1.86"/><circle cx="353.0" cy="448.2" r="2.16"/><circle cx="355.3" cy="449.1" r="2.17"/><circle cx="358.4" cy="449.5" r="1.92"/><circle cx="361.9" cy="448.3" r="2.43"/><circle cx="364.6" cy="448.8" r="1.99"/><circle cx="367.0" cy="449.1" r="2.31"/><circle cx="371.0" cy="449.3" r="2.10"/><circle cx="372.9" cy="448.9" r="2.12"/><circle cx="375.9" cy="448.7" r="2.34"/><circle cx="337.2" cy="451.9" r="2.43"/><circle cx="339.4" cy="450.9" r="1.88"/><circle cx="343.1" cy="451.3" r="2.29"/><circle cx="344.9" cy="452.1" r="2.24"/><circle cx="347.8" cy="451.9" r="2.17"/><circle cx="352.0" cy="451.2" r="2.08"/><circle cx="354.2" cy="450.5" r="2.15"/><circle cx="357.3" cy="451.5" r="2.01"/><circle cx="360.0" cy="452.0" r="2.41"/><circle cx="362.3" cy="451.8" r="1.93"/><circle cx="366.0" cy="451.2" r="1.94"/><circle cx="369.6" cy="450.9" r="2.28"/><circle cx="371.6" cy="452.1" r="2.13"/><circle cx="374.3" cy="450.5" r="2.23"/><circle cx="377.5" cy="450.8" r="2.22"/><circle cx="338.2" cy="453.5" r="2.28"/><circle cx="344.3" cy="453.1" r="1.94"/><circle cx="347.2" cy="453.8" r="2.27"/><circle cx="355.4" cy="454.3" r="2.05"/><circle cx="362.0" cy="454.3" r="2.27"/><circle cx="364.2" cy="453.0" r="2.06"/><circle cx="367.4" cy="453.8" r="2.35"/><circle cx="369.6" cy="454.1" r="2.36"/><circle cx="373.0" cy="454.6" r="2.23"/><circle cx="353.0" cy="458.7" r="2.01"/><circle cx="358.7" cy="458.5" r="2.09"/><circle cx="342.7" cy="461.3" r="2.07"/><circle cx="347.9" cy="461.1" r="1.96"/><circle cx="351.2" cy="459.8" r="1.89"/><circle cx="354.4" cy="459.8" r="2.22"/><circle cx="357.3" cy="460.5" r="2.12"/><circle cx="360.0" cy="460.1" r="1.89"/><circle cx="362.4" cy="460.3" r="2.23"/><circle cx="366.2" cy="460.6" r="2.21"/><circle cx="338.2" cy="463.8" r="2.16"/><circle cx="341.3" cy="462.5" r="1.92"/><circle cx="344.7" cy="463.1" r="2.13"/><circle cx="346.8" cy="462.6" r="2.15"/><circle cx="350.5" cy="462.5" r="1.92"/><circle cx="352.9" cy="463.3" r="2.00"/><circle cx="355.8" cy="463.1" r="2.45"/><circle cx="359.0" cy="462.8" r="2.43"/><circle cx="361.0" cy="463.0" r="2.39"/><circle cx="364.6" cy="462.7" r="2.14"/><circle cx="366.6" cy="462.9" r="2.29"/><circle cx="333.7" cy="465.4" r="1.91"/><circle cx="339.0" cy="466.3" r="2.11"/><circle cx="343.3" cy="466.1" r="2.27"/><circle cx="345.2" cy="465.7" r="2.04"/><circle cx="348.0" cy="466.2" r="2.36"/><circle cx="351.8" cy="465.9" r="2.33"/><circle cx="354.1" cy="465.3" r="2.02"/><circle cx="357.2" cy="466.3" r="1.88"/><circle cx="359.8" cy="465.2" r="2.23"/><circle cx="362.1" cy="465.3" r="1.99"/><circle cx="366.1" cy="465.7" r="2.30"/><circle cx="368.2" cy="465.7" r="2.19"/><circle cx="335.8" cy="468.2" r="2.37"/><circle cx="338.3" cy="467.5" r="1.89"/><circle cx="341.1" cy="467.5" r="2.12"/><circle cx="343.6" cy="467.9" r="2.36"/><circle cx="347.2" cy="467.6" r="2.34"/><circle cx="349.7" cy="467.4" r="2.35"/><circle cx="352.7" cy="467.9" r="1.90"/><circle cx="355.0" cy="467.4" r="2.14"/><circle cx="358.5" cy="467.9" r="2.21"/><circle cx="361.6" cy="468.1" r="2.17"/><circle cx="363.7" cy="468.2" r="1.86"/><circle cx="367.6" cy="467.5" r="2.31"/><circle cx="369.6" cy="468.6" r="2.30"/><circle cx="331.7" cy="470.8" r="2.15"/><circle cx="333.4" cy="470.8" r="1.94"/><circle cx="336.9" cy="470.0" r="1.95"/><circle cx="340.3" cy="470.4" r="1.86"/><circle cx="342.1" cy="471.1" r="2.18"/><circle cx="345.5" cy="471.2" r="2.27"/><circle cx="348.4" cy="470.6" r="2.25"/><circle cx="350.9" cy="470.5" r="2.17"/><circle cx="353.8" cy="471.1" r="2.10"/><circle cx="357.5" cy="470.3" r="2.27"/><circle cx="360.6" cy="470.1" r="2.18"/><circle cx="362.7" cy="470.6" r="2.20"/><circle cx="365.6" cy="471.1" r="1.91"/><circle cx="368.8" cy="470.0" r="2.44"/><circle cx="370.9" cy="470.7" r="1.86"/><circle cx="332.7" cy="473.6" r="2.25"/><circle cx="335.8" cy="472.8" r="2.28"/><circle cx="337.7" cy="473.3" r="2.09"/><circle cx="341.4" cy="473.5" r="2.28"/><circle cx="344.3" cy="472.7" r="2.43"/><circle cx="347.0" cy="472.8" r="2.29"/><circle cx="349.1" cy="473.6" r="2.33"/><circle cx="351.9" cy="472.9" r="1.98"/><circle cx="355.6" cy="472.4" r="2.21"/><circle cx="358.7" cy="473.0" r="1.98"/><circle cx="361.8" cy="472.9" r="2.23"/><circle cx="364.4" cy="472.4" r="2.36"/><circle cx="367.9" cy="472.5" r="2.08"/><circle cx="333.5" cy="475.3" r="1.98"/><circle cx="336.7" cy="475.0" r="2.39"/><circle cx="339.1" cy="475.8" r="2.01"/><circle cx="342.3" cy="474.9" r="2.03"/><circle cx="344.9" cy="476.0" r="2.44"/><circle cx="348.8" cy="476.4" r="2.42"/><circle cx="351.9" cy="476.0" r="2.36"/><circle cx="353.8" cy="476.1" r="1.92"/><circle cx="357.3" cy="475.9" r="2.32"/><circle cx="360.0" cy="476.4" r="2.10"/><circle cx="362.4" cy="476.2" r="2.10"/><circle cx="366.4" cy="475.6" r="2.02"/><circle cx="368.2" cy="475.1" r="2.02"/><circle cx="338.1" cy="478.6" r="1.97"/><circle cx="341.6" cy="477.6" r="2.05"/><circle cx="344.0" cy="477.4" r="1.88"/><circle cx="346.8" cy="478.0" r="2.09"/><circle cx="349.1" cy="478.0" r="2.15"/><circle cx="352.4" cy="477.4" r="2.45"/><circle cx="356.3" cy="478.2" r="1.97"/><circle cx="358.4" cy="478.1" r="2.27"/><circle cx="361.5" cy="478.0" r="2.01"/><circle cx="365.0" cy="477.6" r="2.04"/><circle cx="367.9" cy="478.7" r="2.41"/><circle cx="369.7" cy="478.3" r="2.18"/><circle cx="340.3" cy="481.3" r="2.36"/><circle cx="342.7" cy="481.3" r="2.43"/><circle cx="345.2" cy="480.0" r="2.18"/><circle cx="348.5" cy="480.8" r="2.36"/><circle cx="350.5" cy="480.5" r="2.41"/><circle cx="354.1" cy="480.7" r="2.10"/><circle cx="356.4" cy="480.9" r="1.92"/><circle cx="359.3" cy="480.3" r="2.14"/><circle cx="362.9" cy="481.5" r="2.03"/><circle cx="365.5" cy="480.1" r="2.37"/><circle cx="341.1" cy="483.7" r="2.42"/><circle cx="344.7" cy="483.5" r="1.88"/><circle cx="346.6" cy="484.0" r="2.13"/><circle cx="349.2" cy="483.0" r="1.98"/><circle cx="353.2" cy="483.9" r="2.14"/><circle cx="355.9" cy="483.3" r="1.90"/><circle cx="359.0" cy="482.5" r="2.04"/><circle cx="361.0" cy="483.0" r="1.92"/><circle cx="364.2" cy="483.4" r="2.10"/><circle cx="367.4" cy="484.0" r="1.88"/><circle cx="339.9" cy="486.2" r="2.26"/><circle cx="342.0" cy="485.5" r="2.40"/><circle cx="345.4" cy="485.0" r="2.38"/><circle cx="349.0" cy="485.5" r="2.15"/><circle cx="351.9" cy="485.3" r="1.91"/><circle cx="354.4" cy="485.3" r="2.34"/><circle cx="357.0" cy="485.3" r="2.17"/><circle cx="360.6" cy="485.7" r="1.96"/><circle cx="362.5" cy="485.1" r="2.24"/><circle cx="365.1" cy="486.1" r="2.33"/><circle cx="368.5" cy="486.3" r="2.04"/><circle cx="341.8" cy="488.1" r="2.29"/><circle cx="343.2" cy="487.6" r="2.05"/><circle cx="347.4" cy="489.0" r="2.31"/><circle cx="349.7" cy="488.1" r="2.20"/><circle cx="352.5" cy="488.7" r="2.36"/><circle cx="356.0" cy="487.6" r="2.01"/><circle cx="359.0" cy="488.6" r="2.31"/><circle cx="361.8" cy="488.0" r="2.02"/><circle cx="364.3" cy="487.8" r="2.14"/><circle cx="368.0" cy="488.7" r="2.38"/><circle cx="369.8" cy="488.3" r="2.26"/><circle cx="333.9" cy="490.3" r="2.35"/><circle cx="336.3" cy="490.5" r="2.22"/><circle cx="339.1" cy="491.6" r="2.22"/><circle cx="342.4" cy="490.0" r="2.41"/><circle cx="345.8" cy="491.2" r="1.98"/><circle cx="348.0" cy="491.5" r="2.35"/><circle cx="351.1" cy="491.4" r="2.22"/><circle cx="353.5" cy="490.4" r="2.37"/><circle cx="356.8" cy="491.4" r="2.44"/><circle cx="360.5" cy="490.8" r="2.02"/><circle cx="363.0" cy="491.0" r="2.39"/><circle cx="366.1" cy="490.1" r="1.97"/><circle cx="368.1" cy="490.1" r="2.09"/><circle cx="371.4" cy="491.3" r="2.43"/><circle cx="374.2" cy="491.2" r="1.95"/><circle cx="333.0" cy="494.0" r="2.03"/><circle cx="334.5" cy="493.6" r="2.40"/><circle cx="337.4" cy="492.8" r="2.08"/><circle cx="340.9" cy="493.8" r="2.17"/><circle cx="344.3" cy="492.8" r="2.01"/><circle cx="347.2" cy="494.0" r="2.15"/><circle cx="349.0" cy="492.8" r="2.16"/><circle cx="352.3" cy="492.7" r="2.43"/><circle cx="356.3" cy="494.1" r="2.11"/><circle cx="358.0" cy="493.0" r="2.44"/><circle cx="362.0" cy="494.0" r="2.10"/><circle cx="363.7" cy="493.6" r="1.92"/><circle cx="366.5" cy="493.5" r="2.22"/><circle cx="370.9" cy="492.9" r="2.20"/><circle cx="373.3" cy="492.7" r="2.33"/><circle cx="330.8" cy="496.2" r="2.20"/><circle cx="334.2" cy="495.6" r="2.34"/><circle cx="336.7" cy="495.2" r="2.18"/><circle cx="340.0" cy="495.6" r="2.36"/><circle cx="343.0" cy="496.0" r="2.16"/><circle cx="344.8" cy="495.2" r="2.16"/><circle cx="347.6" cy="496.6" r="2.16"/><circle cx="351.9" cy="495.4" r="2.32"/><circle cx="353.6" cy="495.8" r="2.13"/><circle cx="357.2" cy="496.0" r="1.97"/><circle cx="360.7" cy="495.7" r="2.26"/><circle cx="362.5" cy="495.8" r="2.39"/><circle cx="366.4" cy="495.4" r="1.93"/><circle cx="368.2" cy="495.7" r="2.00"/><circle cx="370.8" cy="496.0" r="2.09"/><circle cx="330.1" cy="499.1" r="1.94"/><circle cx="332.9" cy="497.9" r="2.31"/><circle cx="336.0" cy="498.7" r="2.30"/><circle cx="338.0" cy="498.3" r="2.13"/><circle cx="341.1" cy="498.5" r="2.41"/><circle cx="343.9" cy="498.4" r="2.39"/><circle cx="346.7" cy="498.3" r="2.34"/><circle cx="350.3" cy="497.6" r="2.25"/><circle cx="353.5" cy="498.4" r="2.43"/><circle cx="355.3" cy="497.9" r="2.31"/><circle cx="359.2" cy="499.0" r="2.37"/><circle cx="361.0" cy="498.0" r="2.14"/><circle cx="363.8" cy="498.3" r="2.41"/><circle cx="367.8" cy="498.6" r="2.32"/><circle cx="369.5" cy="498.8" r="2.15"/><circle cx="373.3" cy="497.7" r="2.37"/><circle cx="331.7" cy="500.7" r="1.93"/><circle cx="334.0" cy="500.4" r="2.09"/><circle cx="336.0" cy="500.4" r="2.19"/><circle cx="338.9" cy="500.4" r="2.34"/><circle cx="342.6" cy="501.0" r="2.35"/><circle cx="345.5" cy="501.4" r="2.07"/><circle cx="349.0" cy="500.6" r="2.18"/><circle cx="350.7" cy="501.4" r="2.11"/><circle cx="354.5" cy="501.1" r="2.01"/><circle cx="357.1" cy="501.0" r="1.93"/><circle cx="359.7" cy="501.0" r="2.17"/><circle cx="362.6" cy="500.3" r="2.27"/><circle cx="366.4" cy="500.3" r="2.28"/><circle cx="368.7" cy="500.7" r="2.33"/><circle cx="370.8" cy="500.2" r="2.29"/><circle cx="374.3" cy="500.5" r="2.12"/><circle cx="332.5" cy="502.6" r="1.94"/><circle cx="343.8" cy="502.7" r="2.17"/><circle cx="349.9" cy="504.2" r="2.09"/><circle cx="352.1" cy="503.4" r="1.86"/><circle cx="355.1" cy="503.6" r="2.40"/><circle cx="358.7" cy="503.4" r="2.22"/><circle cx="361.1" cy="503.8" r="2.35"/><circle cx="363.9" cy="504.1" r="2.15"/><circle cx="367.6" cy="503.5" r="1.92"/><circle cx="369.3" cy="502.8" r="2.02"/><circle cx="373.3" cy="503.3" r="2.25"/><circle cx="366.4" cy="506.1" r="2.40"/><circle cx="369.0" cy="505.5" r="2.22"/><circle cx="371.0" cy="506.5" r="2.40"/><circle cx="337.6" cy="510.4" r="2.38"/><circle cx="340.9" cy="509.4" r="2.01"/><circle cx="343.4" cy="509.3" r="1.96"/><circle cx="345.4" cy="510.4" r="2.25"/><circle cx="348.4" cy="509.1" r="2.31"/><circle cx="351.4" cy="510.2" r="2.18"/><circle cx="335.2" cy="513.0" r="2.33"/><circle cx="339.2" cy="512.9" r="2.43"/><circle cx="342.4" cy="511.5" r="1.95"/><circle cx="344.4" cy="511.6" r="2.14"/><circle cx="347.4" cy="511.6" r="1.91"/><circle cx="350.0" cy="512.6" r="2.05"/><circle cx="352.8" cy="512.5" r="1.90"/><circle cx="356.0" cy="512.5" r="2.30"/><circle cx="331.7" cy="515.2" r="2.20"/><circle cx="334.8" cy="514.1" r="2.28"/><circle cx="336.7" cy="514.4" r="2.16"/><circle cx="340.2" cy="514.1" r="1.86"/><circle cx="343.0" cy="515.0" r="1.97"/><circle cx="346.6" cy="514.1" r="2.12"/><circle cx="349.2" cy="515.2" r="1.95"/><circle cx="351.5" cy="515.1" r="2.35"/><circle cx="355.0" cy="514.8" r="1.86"/><circle cx="358.4" cy="514.3" r="2.05"/><circle cx="363.1" cy="515.0" r="2.15"/><circle cx="372.2" cy="514.2" r="2.12"/><circle cx="330.9" cy="517.0" r="1.99"/><circle cx="333.1" cy="518.1" r="2.42"/><circle cx="336.1" cy="517.0" r="2.23"/><circle cx="338.7" cy="517.6" r="1.93"/><circle cx="342.1" cy="516.7" r="2.43"/><circle cx="344.3" cy="517.2" r="1.88"/><circle cx="347.4" cy="517.5" r="2.26"/><circle cx="351.1" cy="516.8" r="2.44"/><circle cx="353.2" cy="517.8" r="2.26"/><circle cx="355.7" cy="517.1" r="2.16"/><circle cx="359.8" cy="517.0" r="1.96"/><circle cx="362.6" cy="517.9" r="2.19"/><circle cx="365.7" cy="517.8" r="2.29"/><circle cx="368.6" cy="516.9" r="1.91"/><circle cx="371.4" cy="517.8" r="2.33"/><circle cx="328.0" cy="520.2" r="2.22"/><circle cx="331.1" cy="519.8" r="1.89"/><circle cx="335.0" cy="520.1" r="2.33"/><circle cx="338.0" cy="520.2" r="2.21"/><circle cx="340.1" cy="519.2" r="2.34"/><circle cx="342.5" cy="520.2" r="1.97"/><circle cx="345.6" cy="519.4" r="2.04"/><circle cx="349.3" cy="519.5" r="2.40"/><circle cx="352.0" cy="519.5" r="2.41"/><circle cx="354.9" cy="519.9" r="2.43"/><circle cx="358.2" cy="519.7" r="1.86"/><circle cx="360.4" cy="519.4" r="2.11"/><circle cx="363.0" cy="519.4" r="2.43"/><circle cx="365.8" cy="519.3" r="2.25"/><circle cx="369.2" cy="519.6" r="2.13"/><circle cx="371.4" cy="519.8" r="1.94"/><circle cx="327.3" cy="522.5" r="2.15"/><circle cx="329.6" cy="523.0" r="2.32"/><circle cx="332.3" cy="521.8" r="2.20"/><circle cx="336.1" cy="522.7" r="2.09"/><circle cx="339.4" cy="522.1" r="2.45"/><circle cx="341.8" cy="521.9" r="1.93"/><circle cx="344.3" cy="522.9" r="2.37"/><circle cx="347.5" cy="522.8" r="1.96"/><circle cx="349.8" cy="522.4" r="2.01"/><circle cx="354.1" cy="522.3" r="2.38"/><circle cx="356.6" cy="521.6" r="2.03"/><circle cx="358.5" cy="522.6" r="1.98"/><circle cx="361.3" cy="522.0" r="1.99"/><circle cx="365.6" cy="521.6" r="2.43"/><circle cx="367.4" cy="523.0" r="2.42"/><circle cx="370.8" cy="522.3" r="2.29"/><circle cx="331.1" cy="524.2" r="2.18"/><circle cx="335.1" cy="524.5" r="2.44"/><circle cx="337.6" cy="525.0" r="2.24"/><circle cx="340.3" cy="524.8" r="2.14"/><circle cx="342.4" cy="524.2" r="2.37"/><circle cx="345.7" cy="524.8" r="2.21"/><circle cx="349.1" cy="524.9" r="2.16"/><circle cx="352.6" cy="524.2" r="2.24"/><circle cx="354.9" cy="525.1" r="2.01"/><circle cx="357.9" cy="524.7" r="1.90"/><circle cx="360.7" cy="525.0" r="2.28"/><circle cx="363.3" cy="525.4" r="2.16"/><circle cx="365.9" cy="524.4" r="2.12"/><circle cx="369.9" cy="525.3" r="2.37"/><circle cx="371.5" cy="524.6" r="2.35"/><circle cx="345.1" cy="526.8" r="2.02"/><circle cx="346.9" cy="527.2" r="2.12"/><circle cx="351.0" cy="527.0" r="2.26"/><circle cx="353.1" cy="528.1" r="2.18"/><circle cx="355.5" cy="528.2" r="2.29"/><circle cx="359.3" cy="526.6" r="1.89"/><circle cx="361.9" cy="526.8" r="2.29"/><circle cx="364.7" cy="527.0" r="2.01"/><circle cx="367.9" cy="528.0" r="1.93"/><circle cx="370.1" cy="528.0" r="2.06"/><circle cx="345.3" cy="529.3" r="2.24"/><circle cx="348.8" cy="530.1" r="2.18"/><circle cx="351.1" cy="529.4" r="1.86"/><circle cx="355.1" cy="530.6" r="2.07"/><circle cx="358.3" cy="530.7" r="1.95"/><circle cx="360.2" cy="530.5" r="2.23"/><circle cx="363.5" cy="529.8" r="2.00"/><circle cx="365.6" cy="529.7" r="2.00"/><circle cx="369.2" cy="530.4" r="2.23"/><circle cx="355.9" cy="531.9" r="2.07"/><circle cx="359.0" cy="532.9" r="2.27"/><circle cx="362.7" cy="532.2" r="2.11"/><circle cx="365.3" cy="531.9" r="2.10"/><circle cx="367.5" cy="532.6" r="2.07"/><circle cx="370.2" cy="532.7" r="2.17"/><circle cx="360.1" cy="535.1" r="2.44"/><circle cx="365.6" cy="534.2" r="2.08"/></g>
<g fill="url(#gW)"><circle cx="301.6" cy="387.1" r="1.35"/><circle cx="307.4" cy="386.1" r="1.35"/><circle cx="313.2" cy="386.1" r="1.35"/><circle cx="299.7" cy="388.8" r="1.35"/><circle cx="314.3" cy="387.9" r="1.35"/><circle cx="317.6" cy="389.4" r="1.35"/><circle cx="301.4" cy="392.1" r="1.35"/><circle cx="317.8" cy="391.6" r="1.35"/><circle cx="322.4" cy="390.5" r="1.35"/><circle cx="306.2" cy="394.3" r="1.35"/><circle cx="298.5" cy="395.7" r="1.35"/><circle cx="304.2" cy="396.6" r="1.35"/><circle cx="307.4" cy="396.0" r="1.35"/><circle cx="310.1" cy="396.4" r="1.35"/><circle cx="319.6" cy="395.3" r="1.35"/><circle cx="321.3" cy="396.8" r="1.35"/><circle cx="291.5" cy="398.7" r="1.35"/><circle cx="296.6" cy="399.3" r="1.35"/><circle cx="303.6" cy="398.2" r="1.35"/><circle cx="308.3" cy="399.2" r="1.35"/><circle cx="314.3" cy="398.9" r="1.35"/><circle cx="320.4" cy="398.8" r="1.35"/><circle cx="286.7" cy="400.7" r="1.35"/><circle cx="298.7" cy="400.8" r="1.35"/><circle cx="314.1" cy="400.6" r="1.35"/><circle cx="321.0" cy="400.4" r="1.35"/><circle cx="282.5" cy="403.7" r="1.35"/><circle cx="286.0" cy="404.3" r="1.35"/><circle cx="290.4" cy="403.8" r="1.35"/><circle cx="300.5" cy="403.9" r="1.35"/><circle cx="306.2" cy="404.5" r="1.35"/><circle cx="309.1" cy="404.2" r="1.35"/><circle cx="323.9" cy="403.1" r="1.35"/><circle cx="285.7" cy="406.4" r="1.35"/><circle cx="287.4" cy="406.8" r="1.35"/><circle cx="296.4" cy="405.4" r="1.35"/><circle cx="298.6" cy="406.6" r="1.35"/><circle cx="301.5" cy="406.3" r="1.35"/><circle cx="304.6" cy="406.7" r="1.35"/><circle cx="314.0" cy="407.4" r="1.35"/><circle cx="315.7" cy="407.0" r="1.35"/><circle cx="322.5" cy="405.6" r="1.35"/><circle cx="324.9" cy="406.5" r="1.35"/><circle cx="286.1" cy="407.9" r="1.35"/><circle cx="288.9" cy="408.7" r="1.35"/><circle cx="320.2" cy="409.0" r="1.35"/><circle cx="302.1" cy="410.7" r="1.35"/><circle cx="297.9" cy="412.8" r="1.35"/><circle cx="319.3" cy="413.0" r="1.35"/><circle cx="295.5" cy="416.5" r="1.35"/><circle cx="305.3" cy="415.0" r="1.35"/><circle cx="313.7" cy="415.7" r="1.35"/><circle cx="321.1" cy="415.5" r="1.35"/><circle cx="292.2" cy="417.7" r="1.35"/><circle cx="296.3" cy="419.2" r="1.35"/><circle cx="301.5" cy="418.3" r="1.35"/><circle cx="313.1" cy="417.5" r="1.35"/><circle cx="321.1" cy="417.9" r="1.35"/><circle cx="324.5" cy="417.4" r="1.35"/><circle cx="323.0" cy="419.6" r="1.35"/><circle cx="288.8" cy="422.0" r="1.35"/><circle cx="310.3" cy="423.9" r="1.35"/><circle cx="323.7" cy="423.8" r="1.35"/><circle cx="326.3" cy="423.4" r="1.35"/><circle cx="285.4" cy="425.0" r="1.35"/><circle cx="292.2" cy="425.2" r="1.35"/><circle cx="294.3" cy="425.3" r="1.35"/><circle cx="298.8" cy="425.9" r="1.35"/><circle cx="303.0" cy="424.6" r="1.35"/><circle cx="308.6" cy="426.7" r="1.35"/><circle cx="319.5" cy="425.6" r="1.35"/><circle cx="325.0" cy="426.1" r="1.35"/><circle cx="285.8" cy="427.1" r="1.35"/><circle cx="303.9" cy="428.4" r="1.35"/><circle cx="310.4" cy="427.8" r="1.35"/><circle cx="313.1" cy="428.1" r="1.35"/><circle cx="318.3" cy="429.1" r="1.35"/><circle cx="285.5" cy="431.6" r="1.35"/><circle cx="293.9" cy="431.2" r="1.35"/><circle cx="299.6" cy="431.3" r="1.35"/><circle cx="303.1" cy="430.1" r="1.35"/><circle cx="308.3" cy="431.0" r="1.35"/><circle cx="313.2" cy="431.4" r="1.35"/><circle cx="316.7" cy="431.2" r="1.35"/><circle cx="321.1" cy="431.2" r="1.35"/><circle cx="285.8" cy="433.6" r="1.35"/><circle cx="295.3" cy="433.1" r="1.35"/><circle cx="305.0" cy="432.8" r="1.35"/><circle cx="309.1" cy="433.1" r="1.35"/><circle cx="321.2" cy="433.9" r="1.35"/><circle cx="285.4" cy="435.3" r="1.35"/><circle cx="289.4" cy="435.7" r="1.35"/><circle cx="308.5" cy="435.0" r="1.35"/><circle cx="313.3" cy="436.0" r="1.35"/><circle cx="290.0" cy="437.9" r="1.35"/><circle cx="291.4" cy="437.8" r="1.35"/><circle cx="310.4" cy="438.9" r="1.35"/><circle cx="321.2" cy="438.6" r="1.35"/><circle cx="299.3" cy="441.1" r="1.35"/><circle cx="303.1" cy="441.1" r="1.35"/><circle cx="308.9" cy="439.9" r="1.35"/><circle cx="311.6" cy="440.7" r="1.35"/><circle cx="319.6" cy="440.2" r="1.35"/><circle cx="286.8" cy="442.1" r="1.35"/><circle cx="315.2" cy="443.1" r="1.35"/><circle cx="318.0" cy="444.3" r="1.35"/><circle cx="325.0" cy="443.0" r="1.35"/><circle cx="285.5" cy="445.5" r="1.35"/><circle cx="288.3" cy="446.0" r="1.35"/><circle cx="300.4" cy="446.3" r="1.35"/><circle cx="307.2" cy="446.0" r="1.35"/><circle cx="325.6" cy="446.3" r="1.35"/><circle cx="300.9" cy="447.6" r="1.35"/><circle cx="303.6" cy="448.4" r="1.35"/><circle cx="315.7" cy="449.0" r="1.35"/><circle cx="321.2" cy="448.5" r="1.35"/><circle cx="282.7" cy="450.9" r="1.35"/><circle cx="287.3" cy="451.5" r="1.35"/><circle cx="296.9" cy="451.0" r="1.35"/><circle cx="287.5" cy="453.8" r="1.35"/><circle cx="288.9" cy="452.9" r="1.35"/><circle cx="297.2" cy="453.2" r="1.35"/><circle cx="310.7" cy="454.5" r="1.35"/><circle cx="318.7" cy="454.6" r="1.35"/><circle cx="292.8" cy="455.4" r="1.35"/><circle cx="305.5" cy="455.5" r="1.35"/><circle cx="300.8" cy="459.1" r="1.35"/><circle cx="307.1" cy="458.3" r="1.35"/><circle cx="312.3" cy="457.9" r="1.35"/><circle cx="315.6" cy="458.6" r="1.35"/><circle cx="318.7" cy="458.2" r="1.35"/><circle cx="291.6" cy="461.7" r="1.35"/><circle cx="314.6" cy="461.4" r="1.35"/><circle cx="317.0" cy="460.3" r="1.35"/><circle cx="323.2" cy="460.8" r="1.35"/><circle cx="295.5" cy="463.6" r="1.35"/><circle cx="298.1" cy="463.3" r="1.35"/><circle cx="311.2" cy="462.6" r="1.35"/><circle cx="284.9" cy="466.0" r="1.35"/><circle cx="308.4" cy="465.1" r="1.35"/><circle cx="316.7" cy="466.0" r="1.35"/><circle cx="323.3" cy="466.6" r="1.35"/><circle cx="300.9" cy="469.1" r="1.35"/><circle cx="309.2" cy="467.4" r="1.35"/><circle cx="321.0" cy="467.7" r="1.35"/><circle cx="325.3" cy="468.3" r="1.35"/><circle cx="306.3" cy="470.3" r="1.35"/><circle cx="310.9" cy="470.4" r="1.35"/><circle cx="323.0" cy="471.2" r="1.35"/><circle cx="290.7" cy="473.2" r="1.35"/><circle cx="292.8" cy="473.3" r="1.35"/><circle cx="294.7" cy="472.5" r="1.35"/><circle cx="301.6" cy="472.5" r="1.35"/><circle cx="308.1" cy="473.6" r="1.35"/><circle cx="316.5" cy="474.2" r="1.35"/><circle cx="324.7" cy="472.9" r="1.35"/><circle cx="298.9" cy="475.7" r="1.35"/><circle cx="303.4" cy="476.1" r="1.35"/><circle cx="322.6" cy="475.8" r="1.35"/><circle cx="286.6" cy="478.4" r="1.35"/><circle cx="289.4" cy="478.3" r="1.35"/><circle cx="291.7" cy="478.8" r="1.35"/><circle cx="298.6" cy="478.8" r="1.35"/><circle cx="300.7" cy="479.4" r="1.35"/><circle cx="303.6" cy="478.4" r="1.35"/><circle cx="312.5" cy="477.6" r="1.35"/><circle cx="314.7" cy="479.0" r="1.35"/><circle cx="318.5" cy="478.2" r="1.35"/><circle cx="310.9" cy="481.7" r="1.35"/><circle cx="317.4" cy="480.1" r="1.35"/><circle cx="289.5" cy="483.5" r="1.35"/><circle cx="302.0" cy="483.2" r="1.35"/><circle cx="304.9" cy="483.6" r="1.35"/><circle cx="313.1" cy="484.1" r="1.35"/><circle cx="321.2" cy="483.8" r="1.35"/><circle cx="311.3" cy="485.9" r="1.35"/><circle cx="320.1" cy="485.3" r="1.35"/><circle cx="322.6" cy="485.0" r="1.35"/><circle cx="286.7" cy="488.8" r="1.35"/><circle cx="303.1" cy="491.0" r="1.35"/><circle cx="306.6" cy="491.3" r="1.35"/><circle cx="311.9" cy="490.1" r="1.35"/><circle cx="290.1" cy="493.4" r="1.35"/><circle cx="292.6" cy="494.4" r="1.35"/><circle cx="301.6" cy="494.9" r="1.35"/><circle cx="306.7" cy="493.4" r="1.35"/><circle cx="313.2" cy="493.8" r="1.35"/><circle cx="295.0" cy="496.4" r="1.35"/><circle cx="300.5" cy="496.7" r="1.35"/><circle cx="302.9" cy="496.5" r="1.35"/><circle cx="308.5" cy="496.1" r="1.35"/><circle cx="311.0" cy="496.5" r="1.35"/><circle cx="321.0" cy="496.6" r="1.35"/><circle cx="307.0" cy="499.5" r="1.35"/><circle cx="309.2" cy="497.6" r="1.35"/><circle cx="317.7" cy="499.3" r="1.35"/><circle cx="309.8" cy="500.7" r="1.35"/><circle cx="317.8" cy="500.5" r="1.35"/><circle cx="312.0" cy="502.6" r="1.35"/><circle cx="293.8" cy="505.2" r="1.35"/><circle cx="300.3" cy="504.5" r="1.35"/><circle cx="303.1" cy="505.6" r="1.35"/><circle cx="316.7" cy="505.0" r="1.35"/><circle cx="288.7" cy="508.1" r="1.35"/><circle cx="307.6" cy="506.5" r="1.35"/><circle cx="312.2" cy="506.9" r="1.35"/><circle cx="316.3" cy="508.9" r="1.35"/><circle cx="296.3" cy="511.1" r="1.35"/><circle cx="300.3" cy="510.0" r="1.35"/><circle cx="316.3" cy="509.9" r="1.35"/><circle cx="322.5" cy="510.2" r="1.35"/><circle cx="289.3" cy="512.6" r="1.35"/><circle cx="304.6" cy="512.9" r="1.35"/><circle cx="307.0" cy="513.3" r="1.35"/><circle cx="289.0" cy="514.6" r="1.35"/><circle cx="290.8" cy="516.0" r="1.35"/><circle cx="294.1" cy="514.3" r="1.35"/><circle cx="295.8" cy="515.4" r="1.35"/><circle cx="306.8" cy="515.7" r="1.35"/><circle cx="311.4" cy="515.9" r="1.35"/><circle cx="314.1" cy="516.3" r="1.35"/><circle cx="320.6" cy="514.6" r="1.35"/><circle cx="325.9" cy="515.3" r="1.35"/><circle cx="306.3" cy="517.0" r="1.35"/><circle cx="310.9" cy="517.4" r="1.35"/><circle cx="316.9" cy="518.7" r="1.35"/><circle cx="318.6" cy="517.3" r="1.35"/><circle cx="321.0" cy="517.1" r="1.35"/><circle cx="284.9" cy="520.1" r="1.35"/><circle cx="287.3" cy="520.4" r="1.35"/><circle cx="290.8" cy="520.6" r="1.35"/><circle cx="293.7" cy="521.4" r="1.35"/><circle cx="297.9" cy="520.1" r="1.35"/><circle cx="312.4" cy="520.4" r="1.35"/><circle cx="314.2" cy="519.8" r="1.35"/><circle cx="319.9" cy="519.8" r="1.35"/><circle cx="322.1" cy="521.2" r="1.35"/><circle cx="284.6" cy="522.6" r="1.35"/><circle cx="290.7" cy="523.1" r="1.35"/><circle cx="293.0" cy="522.3" r="1.35"/><circle cx="297.7" cy="523.3" r="1.35"/><circle cx="302.3" cy="523.4" r="1.35"/><circle cx="308.1" cy="521.6" r="1.35"/><circle cx="313.6" cy="521.7" r="1.35"/><circle cx="316.4" cy="521.9" r="1.35"/><circle cx="320.8" cy="521.9" r="1.35"/><circle cx="297.3" cy="525.1" r="1.35"/><circle cx="300.4" cy="525.0" r="1.35"/><circle cx="313.5" cy="524.7" r="1.35"/><circle cx="318.2" cy="525.1" r="1.35"/><circle cx="322.9" cy="525.4" r="1.35"/><circle cx="315.9" cy="527.4" r="1.35"/><circle cx="348.9" cy="381.0" r="1.35"/><circle cx="344.3" cy="383.0" r="1.35"/><circle cx="350.2" cy="383.5" r="1.35"/><circle cx="339.2" cy="385.6" r="1.35"/><circle cx="342.3" cy="384.5" r="1.35"/><circle cx="345.7" cy="384.5" r="1.35"/><circle cx="350.8" cy="385.5" r="1.35"/><circle cx="354.7" cy="384.4" r="1.35"/><circle cx="335.7" cy="387.9" r="1.35"/><circle cx="342.2" cy="388.2" r="1.35"/><circle cx="355.9" cy="387.8" r="1.35"/><circle cx="358.8" cy="387.2" r="1.35"/><circle cx="367.1" cy="387.6" r="1.35"/><circle cx="334.2" cy="390.3" r="1.35"/><circle cx="345.6" cy="390.0" r="1.35"/><circle cx="354.4" cy="389.3" r="1.35"/><circle cx="359.7" cy="390.6" r="1.35"/><circle cx="372.0" cy="389.2" r="1.35"/><circle cx="335.9" cy="393.6" r="1.35"/><circle cx="343.1" cy="393.6" r="1.35"/><circle cx="364.7" cy="392.4" r="1.35"/><circle cx="370.9" cy="392.7" r="1.35"/><circle cx="334.4" cy="395.0" r="1.35"/><circle cx="365.4" cy="395.5" r="1.35"/><circle cx="331.8" cy="397.1" r="1.35"/><circle cx="356.3" cy="397.7" r="1.35"/><circle cx="361.2" cy="397.8" r="1.35"/><circle cx="363.8" cy="398.2" r="1.35"/><circle cx="345.9" cy="401.4" r="1.35"/><circle cx="347.7" cy="401.1" r="1.35"/><circle cx="351.0" cy="400.3" r="1.35"/><circle cx="362.4" cy="401.0" r="1.35"/><circle cx="337.9" cy="402.0" r="1.35"/><circle cx="340.9" cy="403.3" r="1.35"/><circle cx="344.1" cy="402.8" r="1.35"/><circle cx="346.5" cy="404.2" r="1.35"/><circle cx="349.4" cy="402.6" r="1.35"/><circle cx="364.4" cy="402.5" r="1.35"/><circle cx="336.3" cy="405.3" r="1.35"/><circle cx="356.3" cy="405.4" r="1.35"/><circle cx="360.3" cy="405.8" r="1.35"/><circle cx="362.5" cy="405.2" r="1.35"/><circle cx="339.5" cy="410.3" r="1.35"/><circle cx="341.3" cy="410.1" r="1.35"/><circle cx="348.0" cy="409.3" r="1.35"/><circle cx="351.6" cy="409.3" r="1.35"/><circle cx="356.3" cy="408.4" r="1.35"/><circle cx="359.2" cy="409.9" r="1.35"/><circle cx="334.9" cy="412.7" r="1.35"/><circle cx="336.8" cy="410.9" r="1.35"/><circle cx="344.3" cy="411.9" r="1.35"/><circle cx="358.4" cy="411.5" r="1.35"/><circle cx="364.3" cy="411.6" r="1.35"/><circle cx="354.4" cy="414.2" r="1.35"/><circle cx="361.9" cy="414.7" r="1.35"/><circle cx="332.7" cy="416.8" r="1.35"/><circle cx="334.9" cy="417.2" r="1.35"/><circle cx="337.1" cy="415.9" r="1.35"/><circle cx="341.1" cy="416.5" r="1.35"/><circle cx="356.1" cy="417.9" r="1.35"/><circle cx="357.8" cy="417.6" r="1.35"/><circle cx="366.0" cy="416.7" r="1.35"/><circle cx="335.6" cy="419.2" r="1.35"/><circle cx="365.3" cy="419.4" r="1.35"/><circle cx="368.1" cy="419.0" r="1.35"/><circle cx="326.7" cy="422.4" r="1.35"/><circle cx="343.7" cy="421.7" r="1.35"/><circle cx="346.8" cy="421.8" r="1.35"/><circle cx="351.5" cy="422.1" r="1.35"/><circle cx="355.4" cy="421.8" r="1.35"/><circle cx="360.7" cy="422.2" r="1.35"/><circle cx="364.3" cy="421.0" r="1.35"/><circle cx="366.5" cy="421.7" r="1.35"/><circle cx="356.9" cy="425.2" r="1.35"/><circle cx="360.1" cy="425.7" r="1.35"/><circle cx="370.8" cy="425.0" r="1.35"/><circle cx="340.9" cy="427.3" r="1.35"/><circle cx="346.7" cy="427.0" r="1.35"/><circle cx="348.8" cy="427.3" r="1.35"/><circle cx="354.6" cy="427.4" r="1.35"/><circle cx="330.2" cy="429.5" r="1.35"/><circle cx="343.0" cy="429.3" r="1.35"/><circle cx="332.6" cy="432.5" r="1.35"/><circle cx="337.8" cy="432.3" r="1.35"/><circle cx="343.6" cy="431.2" r="1.35"/><circle cx="345.2" cy="432.1" r="1.35"/><circle cx="352.9" cy="431.4" r="1.35"/><circle cx="355.2" cy="433.1" r="1.35"/><circle cx="358.0" cy="432.5" r="1.35"/><circle cx="362.1" cy="432.2" r="1.35"/><circle cx="364.0" cy="431.4" r="1.35"/><circle cx="370.4" cy="431.6" r="1.35"/><circle cx="355.9" cy="433.6" r="1.35"/><circle cx="358.5" cy="435.0" r="1.35"/><circle cx="365.7" cy="434.7" r="1.35"/><circle cx="342.5" cy="432.0" r="1.35"/><circle cx="348.4" cy="431.3" r="1.35"/><circle cx="344.9" cy="433.9" r="1.35"/><circle cx="353.8" cy="434.0" r="1.35"/><circle cx="355.4" cy="433.1" r="1.35"/><circle cx="333.9" cy="436.6" r="1.35"/><circle cx="339.7" cy="437.2" r="1.35"/><circle cx="353.8" cy="435.2" r="1.35"/><circle cx="339.6" cy="438.6" r="1.35"/><circle cx="359.2" cy="439.2" r="1.35"/><circle cx="334.9" cy="440.2" r="1.35"/><circle cx="356.4" cy="440.4" r="1.35"/><circle cx="368.6" cy="441.7" r="1.35"/><circle cx="370.8" cy="441.7" r="1.35"/><circle cx="335.3" cy="443.3" r="1.35"/><circle cx="344.2" cy="444.5" r="1.35"/><circle cx="348.9" cy="444.2" r="1.35"/><circle cx="356.3" cy="442.7" r="1.35"/><circle cx="336.9" cy="446.8" r="1.35"/><circle cx="340.4" cy="447.2" r="1.35"/><circle cx="345.6" cy="446.5" r="1.35"/><circle cx="347.5" cy="446.5" r="1.35"/><circle cx="368.8" cy="446.1" r="1.35"/><circle cx="376.4" cy="448.3" r="1.35"/><circle cx="348.2" cy="452.0" r="1.35"/><circle cx="362.8" cy="452.0" r="1.35"/><circle cx="369.1" cy="450.5" r="1.35"/><circle cx="338.2" cy="453.0" r="1.35"/><circle cx="347.5" cy="453.9" r="1.35"/><circle cx="355.2" cy="454.0" r="1.35"/><circle cx="361.9" cy="454.2" r="1.35"/><circle cx="367.8" cy="454.4" r="1.35"/><circle cx="370.1" cy="454.2" r="1.35"/><circle cx="342.1" cy="461.4" r="1.35"/><circle cx="357.4" cy="460.9" r="1.35"/><circle cx="360.5" cy="460.1" r="1.35"/><circle cx="362.7" cy="460.1" r="1.35"/><circle cx="366.2" cy="460.6" r="1.35"/><circle cx="338.1" cy="463.7" r="1.35"/><circle cx="340.9" cy="462.3" r="1.35"/><circle cx="346.8" cy="463.0" r="1.35"/><circle cx="360.5" cy="463.1" r="1.35"/><circle cx="367.2" cy="463.1" r="1.35"/><circle cx="339.6" cy="466.8" r="1.35"/><circle cx="348.0" cy="465.8" r="1.35"/><circle cx="356.7" cy="466.0" r="1.35"/><circle cx="365.9" cy="465.6" r="1.35"/><circle cx="357.9" cy="467.8" r="1.35"/><circle cx="364.0" cy="468.1" r="1.35"/><circle cx="331.2" cy="470.2" r="1.35"/><circle cx="333.4" cy="470.8" r="1.35"/><circle cx="337.4" cy="470.2" r="1.35"/><circle cx="345.1" cy="470.9" r="1.35"/><circle cx="353.3" cy="471.2" r="1.35"/><circle cx="360.8" cy="470.6" r="1.35"/><circle cx="362.9" cy="470.1" r="1.35"/><circle cx="341.5" cy="473.4" r="1.35"/><circle cx="347.0" cy="473.3" r="1.35"/><circle cx="351.6" cy="473.0" r="1.35"/><circle cx="362.1" cy="472.7" r="1.35"/><circle cx="334.1" cy="474.8" r="1.35"/><circle cx="342.2" cy="475.5" r="1.35"/><circle cx="361.9" cy="476.0" r="1.35"/><circle cx="366.8" cy="475.5" r="1.35"/><circle cx="368.0" cy="474.8" r="1.35"/><circle cx="343.9" cy="477.2" r="1.35"/><circle cx="349.7" cy="477.9" r="1.35"/><circle cx="356.5" cy="478.4" r="1.35"/><circle cx="340.5" cy="481.0" r="1.35"/><circle cx="342.8" cy="481.8" r="1.35"/><circle cx="348.6" cy="480.8" r="1.35"/><circle cx="355.9" cy="480.7" r="1.35"/><circle cx="341.1" cy="484.2" r="1.35"/><circle cx="346.9" cy="484.3" r="1.35"/><circle cx="353.5" cy="484.2" r="1.35"/><circle cx="367.2" cy="484.0" r="1.35"/><circle cx="342.4" cy="485.0" r="1.35"/><circle cx="360.5" cy="485.5" r="1.35"/><circle cx="362.4" cy="485.3" r="1.35"/><circle cx="343.6" cy="487.2" r="1.35"/><circle cx="347.6" cy="488.5" r="1.35"/><circle cx="364.3" cy="487.6" r="1.35"/><circle cx="368.3" cy="488.5" r="1.35"/><circle cx="370.2" cy="487.7" r="1.35"/><circle cx="334.2" cy="490.7" r="1.35"/><circle cx="335.7" cy="490.0" r="1.35"/><circle cx="341.9" cy="490.4" r="1.35"/><circle cx="374.2" cy="491.5" r="1.35"/><circle cx="333.2" cy="493.7" r="1.35"/><circle cx="334.2" cy="493.5" r="1.35"/><circle cx="343.9" cy="492.3" r="1.35"/><circle cx="352.8" cy="492.4" r="1.35"/><circle cx="358.0" cy="493.2" r="1.35"/><circle cx="361.7" cy="493.9" r="1.35"/><circle cx="330.5" cy="496.6" r="1.35"/><circle cx="351.9" cy="495.9" r="1.35"/><circle cx="356.8" cy="496.3" r="1.35"/><circle cx="360.5" cy="495.5" r="1.35"/><circle cx="340.7" cy="498.6" r="1.35"/><circle cx="347.1" cy="498.5" r="1.35"/><circle cx="359.2" cy="499.0" r="1.35"/><circle cx="360.9" cy="497.6" r="1.35"/><circle cx="367.9" cy="498.9" r="1.35"/><circle cx="372.8" cy="497.9" r="1.35"/><circle cx="334.5" cy="500.8" r="1.35"/><circle cx="336.0" cy="500.3" r="1.35"/><circle cx="338.6" cy="500.2" r="1.35"/><circle cx="342.9" cy="501.4" r="1.35"/><circle cx="351.2" cy="501.8" r="1.35"/><circle cx="354.3" cy="500.5" r="1.35"/><circle cx="368.4" cy="500.1" r="1.35"/><circle cx="373.8" cy="500.8" r="1.35"/><circle cx="332.3" cy="503.2" r="1.35"/><circle cx="350.4" cy="503.9" r="1.35"/><circle cx="352.6" cy="503.2" r="1.35"/><circle cx="373.6" cy="503.1" r="1.35"/><circle cx="366.4" cy="506.6" r="1.35"/><circle cx="369.2" cy="505.1" r="1.35"/><circle cx="345.6" cy="509.9" r="1.35"/><circle cx="335.6" cy="513.5" r="1.35"/><circle cx="344.1" cy="511.4" r="1.35"/><circle cx="349.6" cy="512.0" r="1.35"/><circle cx="356.1" cy="512.6" r="1.35"/><circle cx="335.1" cy="513.7" r="1.35"/><circle cx="358.0" cy="514.8" r="1.35"/><circle cx="371.7" cy="514.2" r="1.35"/><circle cx="331.4" cy="516.8" r="1.35"/><circle cx="341.9" cy="516.1" r="1.35"/><circle cx="344.6" cy="517.7" r="1.35"/><circle cx="356.3" cy="516.6" r="1.35"/><circle cx="359.3" cy="517.4" r="1.35"/><circle cx="362.6" cy="517.8" r="1.35"/><circle cx="368.7" cy="517.2" r="1.35"/><circle cx="371.0" cy="517.8" r="1.35"/><circle cx="345.2" cy="519.3" r="1.35"/><circle cx="358.6" cy="520.3" r="1.35"/><circle cx="371.5" cy="520.2" r="1.35"/><circle cx="330.0" cy="523.5" r="1.35"/><circle cx="335.7" cy="522.9" r="1.35"/><circle cx="344.0" cy="523.1" r="1.35"/><circle cx="347.2" cy="522.9" r="1.35"/><circle cx="349.8" cy="522.4" r="1.35"/><circle cx="354.2" cy="522.0" r="1.35"/><circle cx="358.9" cy="522.8" r="1.35"/><circle cx="331.6" cy="524.7" r="1.35"/><circle cx="335.6" cy="524.8" r="1.35"/><circle cx="337.2" cy="525.6" r="1.35"/><circle cx="340.4" cy="524.6" r="1.35"/><circle cx="342.9" cy="524.7" r="1.35"/><circle cx="346.2" cy="525.0" r="1.35"/><circle cx="363.6" cy="525.6" r="1.35"/><circle cx="371.4" cy="525.1" r="1.35"/><circle cx="364.1" cy="527.3" r="1.35"/><circle cx="370.3" cy="528.5" r="1.35"/><circle cx="345.8" cy="529.5" r="1.35"/><circle cx="348.4" cy="530.3" r="1.35"/><circle cx="357.9" cy="531.0" r="1.35"/><circle cx="363.4" cy="529.4" r="1.35"/><circle cx="368.6" cy="530.9" r="1.35"/><circle cx="356.0" cy="532.2" r="1.35"/><circle cx="359.0" cy="532.3" r="1.35"/><circle cx="363.1" cy="532.0" r="1.35"/><circle cx="365.8" cy="532.1" r="1.35"/><circle cx="369.8" cy="532.7" r="1.35"/><circle cx="360.5" cy="534.9" r="1.35"/></g>
<g fill="url(#gR)"><circle cx="301.7" cy="390.7" r="1.9"/><circle cx="308.3" cy="394.4" r="1.9"/><circle cx="300.9" cy="421.7" r="1.9"/><circle cx="294.4" cy="426.5" r="1.9"/><circle cx="300.9" cy="427.0" r="1.9"/><circle cx="295.3" cy="434.1" r="1.9"/><circle cx="300.7" cy="441.7" r="1.9"/><circle cx="309.1" cy="444.0" r="1.9"/><circle cx="297.3" cy="447.3" r="1.9"/><circle cx="303.5" cy="466.3" r="1.9"/><circle cx="309.6" cy="472.5" r="1.9"/><circle cx="299.6" cy="465.8" r="1.9"/><circle cx="300.7" cy="486.5" r="1.9"/><circle cx="295.1" cy="491.0" r="1.9"/><circle cx="307.4" cy="491.0" r="1.9"/><circle cx="299.0" cy="512.8" r="1.9"/><circle cx="306.8" cy="513.9" r="1.9"/><circle cx="298.5" cy="518.9" r="1.9"/><circle cx="351.8" cy="386.5" r="1.9"/><circle cx="345.1" cy="392.7" r="1.9"/><circle cx="341.8" cy="401.1" r="1.9"/><circle cx="349.6" cy="404.4" r="1.9"/><circle cx="348.5" cy="417.9" r="1.9"/><circle cx="357.4" cy="421.2" r="1.9"/><circle cx="354.1" cy="443.4" r="1.9"/><circle cx="341.8" cy="450.7" r="1.9"/><circle cx="360.8" cy="447.9" r="1.9"/><circle cx="355.2" cy="468.0" r="1.9"/><circle cx="350.7" cy="472.5" r="1.9"/><circle cx="342.9" cy="478.7" r="1.9"/><circle cx="352.4" cy="493.8" r="1.9"/><circle cx="339.5" cy="500.5" r="1.9"/><circle cx="347.9" cy="521.7" r="1.9"/><circle cx="356.3" cy="526.2" r="1.9"/></g>
<g fill="url(#gB)"><circle cx="307.1" cy="390.1" r="1.6"/><circle cx="304.1" cy="393.2" r="1.6"/><circle cx="306.5" cy="422.3" r="1.6"/><circle cx="299.5" cy="428.0" r="1.6"/><circle cx="305.2" cy="443.4" r="1.6"/><circle cx="297.3" cy="450.7" r="1.6"/><circle cx="310.8" cy="445.6" r="1.6"/><circle cx="307.4" cy="469.1" r="1.6"/><circle cx="297.3" cy="470.2" r="1.6"/><circle cx="305.2" cy="487.6" r="1.6"/><circle cx="297.3" cy="487.6" r="1.6"/><circle cx="308.5" cy="492.6" r="1.6"/><circle cx="304.0" cy="510.5" r="1.6"/><circle cx="296.2" cy="515.5" r="1.6"/><circle cx="301.8" cy="515.5" r="1.6"/><circle cx="310.8" cy="516.1" r="1.6"/><circle cx="347.9" cy="387.7" r="1.6"/><circle cx="355.2" cy="389.3" r="1.6"/><circle cx="347.4" cy="392.1" r="1.6"/><circle cx="358.6" cy="394.4" r="1.6"/><circle cx="355.2" cy="417.3" r="1.6"/><circle cx="351.8" cy="421.2" r="1.6"/><circle cx="347.4" cy="423.5" r="1.6"/><circle cx="357.4" cy="446.8" r="1.6"/><circle cx="359.7" cy="445.1" r="1.6"/><circle cx="339.5" cy="447.9" r="1.6"/><circle cx="351.3" cy="468.6" r="1.6"/><circle cx="360.8" cy="469.1" r="1.6"/><circle cx="354.1" cy="472.5" r="1.6"/><circle cx="341.2" cy="475.9" r="1.6"/><circle cx="348.5" cy="493.2" r="1.6"/><circle cx="357.4" cy="496.0" r="1.6"/><circle cx="361.9" cy="498.8" r="1.6"/><circle cx="338.4" cy="497.7" r="1.6"/><circle cx="344.6" cy="520.0" r="1.6"/><circle cx="352.4" cy="524.0" r="1.6"/><circle cx="357.4" cy="528.5" r="1.6"/><circle cx="354.1" cy="522.9" r="1.6"/></g>
<rect x="373.4" y="388.5" width="7.4" height="40.0" fill="#c4c4c4"/>
<line x1="374.4" y1="388.5" x2="374.4" y2="428.5" stroke="#9a9a9a" stroke-width="1"/>
<path d="M376,390.0h4.2M376,393.0h4.2M376,396.0h4.2M376,399.0h4.2M376,402.0h4.2M376,405.0h4.2M376,408.0h4.2M376,411.0h4.2M376,414.0h4.2M376,417.0h4.2M376,420.0h4.2M376,423.0h4.2M376,426.0h4.2" stroke="#f4f4f4" stroke-width="1.4"/>
<rect x="373.4" y="463.0" width="7.4" height="43.0" fill="#c4c4c4"/>
<line x1="374.4" y1="463.0" x2="374.4" y2="506.0" stroke="#9a9a9a" stroke-width="1"/>
<path d="M376,464.5h4.2M376,467.5h4.2M376,470.5h4.2M376,473.5h4.2M376,476.5h4.2M376,479.5h4.2M376,482.5h4.2M376,485.5h4.2M376,488.5h4.2M376,491.5h4.2M376,494.5h4.2M376,497.5h4.2M376,500.5h4.2M376,503.5h4.2" stroke="#f4f4f4" stroke-width="1.4"/>
<circle cx="370.8" cy="396.0" r="2.5" fill="url(#gR)"/>
<circle cx="370.6" cy="399.5" r="2.3" fill="url(#gR)"/>
<circle cx="369.4" cy="396.8" r="1.2" fill="url(#gS)"/>
<circle cx="372.5" cy="422.3" r="2.3" fill="url(#gR)"/>
<circle cx="375.0" cy="422.9" r="2.2" fill="url(#gR)"/>
<circle cx="373.1" cy="426.3" r="2.3" fill="url(#gR)"/>
<circle cx="372.0" cy="424.0" r="1.2" fill="url(#gS)"/>
<circle cx="371.4" cy="472.0" r="2.2" fill="url(#gR)"/>
<circle cx="372.0" cy="474.6" r="2.2" fill="url(#gR)"/>
<circle cx="371.0" cy="470.2" r="1.0" fill="url(#gS)"/>
<circle cx="373.1" cy="497.0" r="2.3" fill="url(#gR)"/>
<circle cx="376.2" cy="498.6" r="2.3" fill="url(#gR)"/>
<circle cx="374.4" cy="501.3" r="2.3" fill="url(#gR)"/>
<circle cx="372.6" cy="499.0" r="1.3" fill="url(#gS)"/>
<circle cx="379.0" cy="469.1" r="12.7" fill="none" stroke="#f02828" stroke-width="1.2"/>
<line x1="388.2" y1="396.5" x2="388.2" y2="423.5" stroke="#1e90ff" stroke-width="1.4"/>
<path d="M388.2,392.6 L385.3,398.2 L391.1,398.2 Z M388.2,427.6 L385.3,422.0 L391.1,422.0 Z" fill="#1e90ff"/>
<text transform="translate(405.0 411.6) rotate(-90)" font-size="14" text-anchor="middle" fill="#1a1a1a" stroke="#1a1a1a" stroke-width="0.2">1.8 nm</text>
<line x1="395.3" y1="464.5" x2="417.5" y2="457.6" stroke="#111" stroke-width="0.9"/>
<path d="M421.6,455.6 L415.5,453.9 L417.4,460.0 Z" fill="#111"/>
<path d="M454.5,410.3L465.6,415.9M465.6,415.9L465.6,426.9M465.6,426.9L454.5,431.7M454.5,431.7L443.4,426.9M443.4,426.9L443.4,415.9M443.4,415.9L454.5,410.3M454.5,402.1L454.5,410.3M474.3,410.8L465.6,415.9M435.5,413.2L443.4,415.9M435.5,430.9L443.4,426.9M475.9,431.2L465.6,426.9M486.2,424.6L475.9,431.2M486.2,424.6L486.2,413.5M486.2,424.6L495.7,431.2M477.5,440.4L475.9,431.2M496.5,440.4L495.7,431.2M453.7,441.2L454.5,431.7M445.8,441.2L453.7,441.2M459.3,453.0L453.7,441.2M459.3,453.0L468.0,454.3M459.3,453.0L455.3,460.6M446.6,459.4L455.3,460.6M502.4,401.3L503.7,405.9M503.7,405.9L501.7,410.4M501.7,410.4L506.2,413.8M506.2,413.8L507.6,418.0M507.6,418.0L509.0,422.0M509.0,422.0L508.3,425.8M508.3,425.8L508.3,430.0M508.3,430.0L495.7,431.2M508.3,430.0L517.4,430.0M508.3,430.0L513.5,438.5M513.5,438.5L512.8,443.7M512.8,443.7L515.4,447.6M497.2,394.1L502.4,401.3M499.1,408.5L501.7,410.4M526.5,425.4L517.4,430.0M515.4,439.8L513.5,438.5M520.0,439.8L513.5,438.5M518.7,453.4L515.4,447.6M510.4,420.4L509.0,422.0M505.7,462.0L495.7,453.0M505.7,462.0L512.6,461.4M505.7,462.0L514.8,459.4M486.9,476.6L498.6,476.6M498.6,476.6L505.9,486.4M505.9,486.4L499.3,497.3M499.3,497.3L486.9,497.3M486.9,497.3L481.1,487.1M481.1,487.1L486.9,476.6M505.7,462.0L498.6,476.6M481.8,468.4L486.9,476.6M505.2,505.4L499.3,497.3M455.3,460.6L455.5,471.8M455.5,471.8L461.4,476.2M455.5,471.8L451.9,481.3M461.4,476.2L463.6,484.2M463.6,484.2L469.4,486.4M469.4,486.4L471.6,490.0M471.6,490.0L478.2,491.5M478.2,491.5L481.1,487.1M471.6,490.0L474.6,495.5M474.6,495.5L479.6,498.8M479.6,498.8L485.5,501.3M485.5,501.3L486.2,504.6M443.1,482.0L451.9,481.3M456.3,490.0L451.9,481.3M468.7,471.8L461.4,476.2M449.7,464.9L455.3,460.6M491.3,503.2L485.5,501.3M492.8,511.2L486.2,504.6M482.6,507.6L486.2,504.6M465.0,492.5L469.4,486.4M519.0,485.7L505.9,486.4M522.7,477.6L519.0,485.7M519.0,485.7L526.5,495.1M523.5,504.6L526.5,495.1M539.3,493.9L545.3,483.1M545.3,483.1L557.3,482.3M557.3,482.3L564.6,492.7M564.6,492.7L558.5,503.5M558.5,503.5L546.5,503.5M546.5,503.5L539.3,493.9M526.5,495.1L539.3,493.9M540.5,475.1L545.3,483.1M562.9,474.6L557.3,482.3M542.9,513.2L546.5,503.5M563.4,512.0L558.5,503.5M577.3,492.7L583.1,481.9M583.1,481.9L595.9,481.4M595.9,481.4L603.1,491.5M603.1,491.5L597.1,502.3M597.1,502.3L584.5,502.3M584.5,502.3L577.3,492.7M564.6,492.7L577.3,492.7M579.0,474.2L583.1,481.9M601.4,472.7L595.9,481.4M581.4,510.8L584.5,502.3M601.9,510.8L597.1,502.3M615.9,489.1L603.1,491.5M620.0,481.4L615.9,489.1M615.9,489.1L623.6,499.9M620.0,508.4L623.6,499.9M636.1,498.7L642.8,487.9M642.8,487.9L655.4,487.9M655.4,487.9L662.1,498.7M662.1,498.7L655.4,509.6M655.4,509.6L642.8,509.6M642.8,509.6L636.1,498.7M623.6,499.9L636.1,498.7M638.5,481.4L642.8,487.9M659.7,481.4L655.4,487.9M671.3,498.7L662.1,498.7M659.7,516.8L655.4,509.6M635.6,522.8L642.8,509.6M627.9,517.5L635.6,522.8M627.9,527.1L635.6,522.8M644.8,530.5L635.6,522.8" stroke="#b4b4b4" stroke-width="1.5" fill="none"/>
<circle cx="497.2" cy="394.1" r="2.15" fill="url(#gH)"/>
<circle cx="454.5" cy="402.1" r="2.15" fill="url(#gH)"/>
<circle cx="499.1" cy="408.5" r="2.15" fill="url(#gH)"/>
<circle cx="474.3" cy="410.8" r="2.15" fill="url(#gH)"/>
<circle cx="435.5" cy="413.2" r="2.15" fill="url(#gH)"/>
<circle cx="510.4" cy="420.4" r="2.15" fill="url(#gH)"/>
<circle cx="526.5" cy="425.4" r="2.15" fill="url(#gH)"/>
<circle cx="435.5" cy="430.9" r="2.15" fill="url(#gH)"/>
<circle cx="515.4" cy="439.8" r="2.15" fill="url(#gH)"/>
<circle cx="520.0" cy="439.8" r="2.15" fill="url(#gH)"/>
<circle cx="477.5" cy="440.4" r="2.15" fill="url(#gH)"/>
<circle cx="496.5" cy="440.4" r="2.15" fill="url(#gH)"/>
<circle cx="445.8" cy="441.2" r="2.15" fill="url(#gH)"/>
<circle cx="518.7" cy="453.4" r="2.15" fill="url(#gH)"/>
<circle cx="446.6" cy="459.4" r="2.15" fill="url(#gH)"/>
<circle cx="449.7" cy="464.9" r="2.15" fill="url(#gH)"/>
<circle cx="481.8" cy="468.4" r="2.15" fill="url(#gH)"/>
<circle cx="468.7" cy="471.8" r="2.15" fill="url(#gH)"/>
<circle cx="601.4" cy="472.7" r="2.15" fill="url(#gH)"/>
<circle cx="579.0" cy="474.2" r="2.15" fill="url(#gH)"/>
<circle cx="562.9" cy="474.6" r="2.15" fill="url(#gH)"/>
<circle cx="540.5" cy="475.1" r="2.15" fill="url(#gH)"/>
<circle cx="522.7" cy="477.6" r="2.15" fill="url(#gH)"/>
<circle cx="620.0" cy="481.4" r="2.15" fill="url(#gH)"/>
<circle cx="638.5" cy="481.4" r="2.15" fill="url(#gH)"/>
<circle cx="659.7" cy="481.4" r="2.15" fill="url(#gH)"/>
<circle cx="443.1" cy="482.0" r="2.15" fill="url(#gH)"/>
<circle cx="456.3" cy="490.0" r="2.15" fill="url(#gH)"/>
<circle cx="465.0" cy="492.5" r="2.15" fill="url(#gH)"/>
<circle cx="671.3" cy="498.7" r="2.15" fill="url(#gH)"/>
<circle cx="491.3" cy="503.2" r="2.15" fill="url(#gH)"/>
<circle cx="523.5" cy="504.6" r="2.15" fill="url(#gH)"/>
<circle cx="505.2" cy="505.4" r="2.15" fill="url(#gH)"/>
<circle cx="482.6" cy="507.6" r="2.15" fill="url(#gH)"/>
<circle cx="620.0" cy="508.4" r="2.15" fill="url(#gH)"/>
<circle cx="581.4" cy="510.8" r="2.15" fill="url(#gH)"/>
<circle cx="601.9" cy="510.8" r="2.15" fill="url(#gH)"/>
<circle cx="492.8" cy="511.2" r="2.15" fill="url(#gH)"/>
<circle cx="563.4" cy="512.0" r="2.15" fill="url(#gH)"/>
<circle cx="542.9" cy="513.2" r="2.15" fill="url(#gH)"/>
<circle cx="659.7" cy="516.8" r="2.15" fill="url(#gH)"/>
<circle cx="502.4" cy="401.3" r="3.4" fill="url(#gC)"/>
<circle cx="504.4" cy="402.4" r="3.4" fill="url(#gC)"/>
<circle cx="503.7" cy="405.9" r="3.4" fill="url(#gC)"/>
<circle cx="454.5" cy="410.3" r="3.4" fill="url(#gC)"/>
<circle cx="501.7" cy="410.4" r="3.4" fill="url(#gC)"/>
<circle cx="486.2" cy="413.5" r="3.4" fill="url(#gO)"/>
<circle cx="506.0" cy="413.5" r="3.4" fill="url(#gC)"/>
<circle cx="506.2" cy="413.8" r="3.4" fill="url(#gC)"/>
<circle cx="465.6" cy="415.9" r="3.4" fill="url(#gC)"/>
<circle cx="443.4" cy="415.9" r="3.4" fill="url(#gC)"/>
<circle cx="507.6" cy="418.0" r="3.4" fill="url(#gC)"/>
<circle cx="509.0" cy="422.0" r="3.4" fill="url(#gC)"/>
<circle cx="486.2" cy="424.6" r="3.4" fill="url(#gC)"/>
<circle cx="508.3" cy="425.8" r="3.4" fill="url(#gC)"/>
<circle cx="510.7" cy="426.1" r="3.4" fill="url(#gC)"/>
<circle cx="465.6" cy="426.9" r="3.4" fill="url(#gC)"/>
<circle cx="443.4" cy="426.9" r="3.4" fill="url(#gC)"/>
<circle cx="506.0" cy="427.7" r="3.4" fill="url(#gC)"/>
<circle cx="508.3" cy="430.0" r="3.4" fill="url(#gC)"/>
<circle cx="517.4" cy="430.0" r="3.4" fill="url(#gC)"/>
<circle cx="475.9" cy="431.2" r="3.1" fill="url(#gN)"/>
<circle cx="495.7" cy="431.2" r="3.1" fill="url(#gN)"/>
<circle cx="454.5" cy="431.7" r="3.4" fill="url(#gC)"/>
<circle cx="507.5" cy="432.5" r="3.4" fill="url(#gC)"/>
<circle cx="511.0" cy="435.0" r="3.4" fill="url(#gC)"/>
<circle cx="517.8" cy="436.0" r="3.4" fill="url(#gC)"/>
<circle cx="513.5" cy="438.5" r="3.4" fill="url(#gC)"/>
<circle cx="453.7" cy="441.2" r="3.1" fill="url(#gN)"/>
<circle cx="514.7" cy="443.5" r="3.4" fill="url(#gC)"/>
<circle cx="512.8" cy="443.7" r="3.4" fill="url(#gC)"/>
<circle cx="511.5" cy="447.0" r="3.4" fill="url(#gC)"/>
<circle cx="515.4" cy="447.6" r="3.4" fill="url(#gC)"/>
<circle cx="459.3" cy="453.0" r="3.4" fill="url(#gC)"/>
<circle cx="495.7" cy="453.0" r="3.4" fill="url(#gO)"/>
<circle cx="468.0" cy="454.3" r="3.4" fill="url(#gO)"/>
<circle cx="514.8" cy="459.4" r="3.4" fill="url(#gO)"/>
<circle cx="455.3" cy="460.6" r="3.1" fill="url(#gN)"/>
<circle cx="512.6" cy="461.4" r="3.4" fill="url(#gO)"/>
<circle cx="505.7" cy="462.0" r="3.5" fill="url(#gS)"/>
<circle cx="455.5" cy="471.8" r="3.4" fill="url(#gC)"/>
<circle cx="458.0" cy="474.0" r="3.4" fill="url(#gC)"/>
<circle cx="461.4" cy="476.2" r="3.4" fill="url(#gC)"/>
<circle cx="486.9" cy="476.6" r="3.4" fill="url(#gC)"/>
<circle cx="498.6" cy="476.6" r="3.4" fill="url(#gC)"/>
<circle cx="451.9" cy="481.3" r="3.4" fill="url(#gC)"/>
<circle cx="595.9" cy="481.4" r="3.4" fill="url(#gC)"/>
<circle cx="583.1" cy="481.9" r="3.4" fill="url(#gC)"/>
<circle cx="557.3" cy="482.3" r="3.4" fill="url(#gC)"/>
<circle cx="545.3" cy="483.1" r="3.4" fill="url(#gC)"/>
<circle cx="463.6" cy="484.2" r="3.4" fill="url(#gC)"/>
<circle cx="519.0" cy="485.7" r="3.4" fill="url(#gC)"/>
<circle cx="505.9" cy="486.4" r="3.4" fill="url(#gC)"/>
<circle cx="469.4" cy="486.4" r="3.4" fill="url(#gC)"/>
<circle cx="481.1" cy="487.1" r="3.4" fill="url(#gC)"/>
<circle cx="642.8" cy="487.9" r="3.4" fill="url(#gC)"/>
<circle cx="655.4" cy="487.9" r="3.4" fill="url(#gC)"/>
<circle cx="466.5" cy="489.0" r="3.4" fill="url(#gC)"/>
<circle cx="615.9" cy="489.1" r="3.4" fill="url(#gC)"/>
<circle cx="471.6" cy="490.0" r="3.4" fill="url(#gC)"/>
<circle cx="478.2" cy="491.5" r="3.4" fill="url(#gC)"/>
<circle cx="603.1" cy="491.5" r="3.4" fill="url(#gC)"/>
<circle cx="564.6" cy="492.7" r="3.4" fill="url(#gC)"/>
<circle cx="577.3" cy="492.7" r="3.4" fill="url(#gC)"/>
<circle cx="539.3" cy="493.9" r="3.4" fill="url(#gC)"/>
<circle cx="526.5" cy="495.1" r="3.4" fill="url(#gC)"/>
<circle cx="474.6" cy="495.5" r="3.4" fill="url(#gC)"/>
<circle cx="499.3" cy="497.3" r="3.4" fill="url(#gC)"/>
<circle cx="486.9" cy="497.3" r="3.4" fill="url(#gC)"/>
<circle cx="636.1" cy="498.7" r="3.4" fill="url(#gC)"/>
<circle cx="662.1" cy="498.7" r="3.4" fill="url(#gC)"/>
<circle cx="479.6" cy="498.8" r="3.4" fill="url(#gC)"/>
<circle cx="623.6" cy="499.9" r="3.4" fill="url(#gC)"/>
<circle cx="485.5" cy="501.3" r="3.4" fill="url(#gC)"/>
<circle cx="481.1" cy="501.7" r="3.4" fill="url(#gC)"/>
<circle cx="597.1" cy="502.3" r="3.4" fill="url(#gC)"/>
<circle cx="584.5" cy="502.3" r="3.4" fill="url(#gC)"/>
<circle cx="558.5" cy="503.5" r="3.4" fill="url(#gC)"/>
<circle cx="546.5" cy="503.5" r="3.4" fill="url(#gC)"/>
<circle cx="486.2" cy="504.6" r="3.4" fill="url(#gC)"/>
<circle cx="655.4" cy="509.6" r="3.4" fill="url(#gC)"/>
<circle cx="642.8" cy="509.6" r="3.4" fill="url(#gC)"/>
<circle cx="627.9" cy="517.5" r="3.4" fill="url(#gO)"/>
<circle cx="635.6" cy="522.8" r="3.5" fill="url(#gS)"/>
<circle cx="627.9" cy="527.1" r="3.4" fill="url(#gO)"/>
<circle cx="644.8" cy="530.5" r="3.4" fill="url(#gO)"/>
<line x1="468.6" y1="451.0" x2="476.6" y2="442.6" stroke="#ff2020" stroke-width="1.6" stroke-dasharray="1.2,1"/>
<line x1="496.3" y1="443.0" x2="495.9" y2="450.0" stroke="#2020ff" stroke-width="1.6" stroke-dasharray="1.2,1"/>
<text x="462.2" y="444.9" font-size="10.6" font-weight="bold" fill="#111">A</text>
<text x="482.0" y="452.3" font-size="10.6" font-weight="bold" fill="#111">B</text>
<text x="549.0" y="429.8" font-size="12" fill="#1a1a1a" stroke="#1a1a1a" stroke-width="0.2"><tspan font-weight="bold">A</tspan> H-bond: 1.86 &#197;</text>
<text x="549.0" y="444.4" font-size="12" fill="#1a1a1a" stroke="#1a1a1a" stroke-width="0.2"><tspan font-weight="bold">B</tspan> H-bond: 1.81 &#197;</text>
<text x="237.4" y="377.3" font-size="19" text-anchor="start" font-weight="bold" fill="#1a1a1a">h</text>
</svg></body></html>
